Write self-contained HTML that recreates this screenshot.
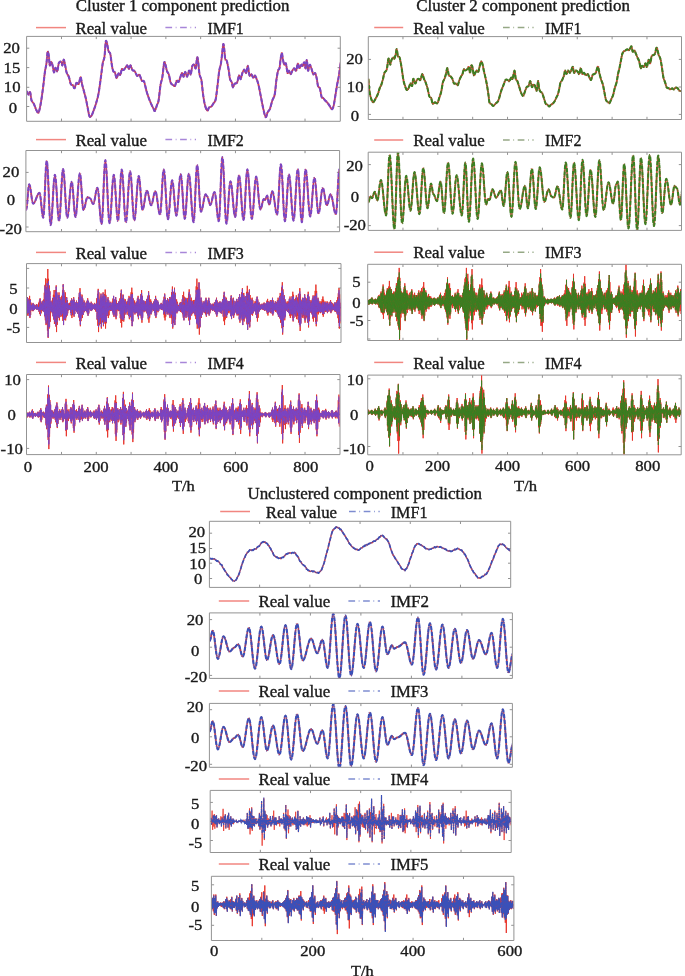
<!DOCTYPE html>
<html><head><meta charset="utf-8"><style>
html,body{margin:0;padding:0;background:#fff;overflow:hidden;width:685px;height:976px;}
svg{display:block;}
</style></head><body>
<svg width="685" height="976" viewBox="0 0 685 976" font-family='"Liberation Serif", serif'>
<rect width="685" height="976" fill="#fff"/>
<defs>
<clipPath id="cL1"><rect x="27.1" y="36.9" width="312.7" height="83.9"/></clipPath>
<clipPath id="cL2"><rect x="26.4" y="151" width="312.7" height="80.2"/></clipPath>
<clipPath id="cL3"><rect x="27" y="264.1" width="313.5" height="77.9"/></clipPath>
<clipPath id="cL4"><rect x="27" y="375" width="312.5" height="79.1"/></clipPath>
<clipPath id="cR1"><rect x="368.8" y="37.1" width="312.2" height="81.9"/></clipPath>
<clipPath id="cR2"><rect x="368.7" y="152.7" width="312.3" height="77.2"/></clipPath>
<clipPath id="cR3"><rect x="368.2" y="264.8" width="312.8" height="75.2"/></clipPath>
<clipPath id="cR4"><rect x="368.2" y="375.6" width="312.5" height="78.7"/></clipPath>
<clipPath id="cU1"><rect x="209.9" y="521.8" width="300.3" height="65.1"/></clipPath>
<clipPath id="cU2"><rect x="209.9" y="613.4" width="302" height="64.5"/></clipPath>
<clipPath id="cU3"><rect x="209.9" y="703.9" width="302" height="62.9"/></clipPath>
<clipPath id="cU4"><rect x="210.7" y="790.9" width="300" height="61.1"/></clipPath>
<clipPath id="cU5"><rect x="211.9" y="876.8" width="301.5" height="63.2"/></clipPath>
</defs>
<path d="M26.6,36.4H340.3V121.3H26.6ZM26.6,48.2h2.7M340.3,48.2h-2.7M26.6,67.6h2.7M340.3,67.6h-2.7M26.6,87.3h2.7M340.3,87.3h-2.7M26.6,106.5h2.7M340.3,106.5h-2.7M61.49,36.4v2.7M61.49,121.3v-2.7M96.28,36.4v2.7M96.28,121.3v-2.7M131.07,36.4v2.7M131.07,121.3v-2.7M165.86,36.4v2.7M165.86,121.3v-2.7M200.65,36.4v2.7M200.65,121.3v-2.7M235.44,36.4v2.7M235.44,121.3v-2.7M270.23,36.4v2.7M270.23,121.3v-2.7M305.02,36.4v2.7M305.02,121.3v-2.7" fill="none" stroke="#939393" stroke-width="1"/>
<path d="M25.9,150.5H339.6V231.7H25.9ZM25.9,172.4h2.7M339.6,172.4h-2.7M25.9,200.4h2.7M339.6,200.4h-2.7M25.9,227h2.7M339.6,227h-2.7M61.49,150.5v2.7M61.49,231.7v-2.7M96.28,150.5v2.7M96.28,231.7v-2.7M131.07,150.5v2.7M131.07,231.7v-2.7M165.86,150.5v2.7M165.86,231.7v-2.7M200.65,150.5v2.7M200.65,231.7v-2.7M235.44,150.5v2.7M235.44,231.7v-2.7M270.23,150.5v2.7M270.23,231.7v-2.7M305.02,150.5v2.7M305.02,231.7v-2.7" fill="none" stroke="#939393" stroke-width="1"/>
<path d="M26.5,263.6H341V342.5H26.5ZM26.5,268.4h2.7M341,268.4h-2.7M26.5,288h2.7M341,288h-2.7M26.5,307.6h2.7M341,307.6h-2.7M26.5,327.4h2.7M341,327.4h-2.7M61.49,263.6v2.7M61.49,342.5v-2.7M96.28,263.6v2.7M96.28,342.5v-2.7M131.07,263.6v2.7M131.07,342.5v-2.7M165.86,263.6v2.7M165.86,342.5v-2.7M200.65,263.6v2.7M200.65,342.5v-2.7M235.44,263.6v2.7M235.44,342.5v-2.7M270.23,263.6v2.7M270.23,342.5v-2.7M305.02,263.6v2.7M305.02,342.5v-2.7" fill="none" stroke="#939393" stroke-width="1"/>
<path d="M26.5,374.5H340V454.6H26.5ZM26.5,379.6h2.7M340,379.6h-2.7M26.5,414.4h2.7M340,414.4h-2.7M26.5,448.4h2.7M340,448.4h-2.7M61.49,374.5v2.7M61.49,454.6v-2.7M96.28,374.5v2.7M96.28,454.6v-2.7M131.07,374.5v2.7M131.07,454.6v-2.7M165.86,374.5v2.7M165.86,454.6v-2.7M200.65,374.5v2.7M200.65,454.6v-2.7M235.44,374.5v2.7M235.44,454.6v-2.7M270.23,374.5v2.7M270.23,454.6v-2.7M305.02,374.5v2.7M305.02,454.6v-2.7" fill="none" stroke="#939393" stroke-width="1"/>
<path d="M368.3,36.6H681.5V119.5H368.3ZM368.3,59.4h2.7M681.5,59.4h-2.7M368.3,87h2.7M681.5,87h-2.7M368.3,114.4h2.7M681.5,114.4h-2.7M402.96,36.6v2.7M402.96,119.5v-2.7M437.82,36.6v2.7M437.82,119.5v-2.7M472.68,36.6v2.7M472.68,119.5v-2.7M507.54,36.6v2.7M507.54,119.5v-2.7M542.4,36.6v2.7M542.4,119.5v-2.7M577.26,36.6v2.7M577.26,119.5v-2.7M612.12,36.6v2.7M612.12,119.5v-2.7M646.98,36.6v2.7M646.98,119.5v-2.7" fill="none" stroke="#939393" stroke-width="1"/>
<path d="M368.2,152.2H681.5V230.4H368.2ZM368.2,164.6h2.7M681.5,164.6h-2.7M368.2,197h2.7M681.5,197h-2.7M368.2,225.6h2.7M681.5,225.6h-2.7M402.96,152.2v2.7M402.96,230.4v-2.7M437.82,152.2v2.7M437.82,230.4v-2.7M472.68,152.2v2.7M472.68,230.4v-2.7M507.54,152.2v2.7M507.54,230.4v-2.7M542.4,152.2v2.7M542.4,230.4v-2.7M577.26,152.2v2.7M577.26,230.4v-2.7M612.12,152.2v2.7M612.12,230.4v-2.7M646.98,152.2v2.7M646.98,230.4v-2.7" fill="none" stroke="#939393" stroke-width="1"/>
<path d="M367.7,264.3H681.5V340.5H367.7ZM367.7,282.2h2.7M681.5,282.2h-2.7M367.7,301.3h2.7M681.5,301.3h-2.7M367.7,320.5h2.7M681.5,320.5h-2.7M367.7,339h2.7M681.5,339h-2.7M402.96,264.3v2.7M402.96,340.5v-2.7M437.82,264.3v2.7M437.82,340.5v-2.7M472.68,264.3v2.7M472.68,340.5v-2.7M507.54,264.3v2.7M507.54,340.5v-2.7M542.4,264.3v2.7M542.4,340.5v-2.7M577.26,264.3v2.7M577.26,340.5v-2.7M612.12,264.3v2.7M612.12,340.5v-2.7M646.98,264.3v2.7M646.98,340.5v-2.7" fill="none" stroke="#939393" stroke-width="1"/>
<path d="M367.7,375.1H681.2V454.8H367.7ZM367.7,378.8h2.7M681.2,378.8h-2.7M367.7,412.5h2.7M681.2,412.5h-2.7M367.7,446.5h2.7M681.2,446.5h-2.7M402.96,375.1v2.7M402.96,454.8v-2.7M437.82,375.1v2.7M437.82,454.8v-2.7M472.68,375.1v2.7M472.68,454.8v-2.7M507.54,375.1v2.7M507.54,454.8v-2.7M542.4,375.1v2.7M542.4,454.8v-2.7M577.26,375.1v2.7M577.26,454.8v-2.7M612.12,375.1v2.7M612.12,454.8v-2.7M646.98,375.1v2.7M646.98,454.8v-2.7" fill="none" stroke="#939393" stroke-width="1"/>
<path d="M209.4,521.3H510.7V587.4H209.4ZM209.4,533.2h2.7M510.7,533.2h-2.7M209.4,548.5h2.7M510.7,548.5h-2.7M209.4,563.2h2.7M510.7,563.2h-2.7M209.4,578.5h2.7M510.7,578.5h-2.7M259.62,521.3v2.7M259.62,587.4v-2.7M309.83,521.3v2.7M309.83,587.4v-2.7M360.05,521.3v2.7M360.05,587.4v-2.7M410.27,521.3v2.7M410.27,587.4v-2.7M460.48,521.3v2.7M460.48,587.4v-2.7" fill="none" stroke="#939393" stroke-width="1"/>
<path d="M209.4,612.9H512.4V678.4H209.4ZM209.4,619.6h2.7M512.4,619.6h-2.7M209.4,647.2h2.7M512.4,647.2h-2.7M209.4,675.4h2.7M512.4,675.4h-2.7M259.9,612.9v2.7M259.9,678.4v-2.7M310.4,612.9v2.7M310.4,678.4v-2.7M360.9,612.9v2.7M360.9,678.4v-2.7M411.4,612.9v2.7M411.4,678.4v-2.7M461.9,612.9v2.7M461.9,678.4v-2.7" fill="none" stroke="#939393" stroke-width="1"/>
<path d="M209.4,703.4H512.4V767.3H209.4ZM209.4,709.7h2.7M512.4,709.7h-2.7M209.4,736.8h2.7M512.4,736.8h-2.7M209.4,764.3h2.7M512.4,764.3h-2.7M259.9,703.4v2.7M259.9,767.3v-2.7M310.4,703.4v2.7M310.4,767.3v-2.7M360.9,703.4v2.7M360.9,767.3v-2.7M411.4,703.4v2.7M411.4,767.3v-2.7M461.9,703.4v2.7M461.9,767.3v-2.7" fill="none" stroke="#939393" stroke-width="1"/>
<path d="M210.2,790.4H511.2V852.5H210.2ZM210.2,802.4h2.7M511.2,802.4h-2.7M210.2,821.5h2.7M511.2,821.5h-2.7M210.2,840.5h2.7M511.2,840.5h-2.7M260.37,790.4v2.7M260.37,852.5v-2.7M310.53,790.4v2.7M310.53,852.5v-2.7M360.7,790.4v2.7M360.7,852.5v-2.7M410.87,790.4v2.7M410.87,852.5v-2.7M461.03,790.4v2.7M461.03,852.5v-2.7" fill="none" stroke="#939393" stroke-width="1"/>
<path d="M211.4,876.3H513.9V940.5H211.4ZM211.4,884.8h2.7M513.9,884.8h-2.7M211.4,905h2.7M513.9,905h-2.7M211.4,925.3h2.7M513.9,925.3h-2.7M261.82,876.3v2.7M261.82,940.5v-2.7M312.23,876.3v2.7M312.23,940.5v-2.7M362.65,876.3v2.7M362.65,940.5v-2.7M413.07,876.3v2.7M413.07,940.5v-2.7M463.48,876.3v2.7M463.48,940.5v-2.7" fill="none" stroke="#939393" stroke-width="1"/>
<line x1="36" y1="27.6" x2="66" y2="27.6" stroke="#e8362c" stroke-width="1.5" opacity="0.6"/>
<line x1="165.4" y1="27.6" x2="196" y2="27.6" stroke="#7a46c4" stroke-width="1.5" stroke-dasharray="6.7 3.6 0.8 3.6" opacity="0.65"/>
<line x1="36" y1="139.6" x2="66" y2="139.6" stroke="#e8362c" stroke-width="1.5" opacity="0.6"/>
<line x1="165.4" y1="139.6" x2="196" y2="139.6" stroke="#7a46c4" stroke-width="1.5" stroke-dasharray="6.7 3.6 0.8 3.6" opacity="0.65"/>
<line x1="36" y1="252.4" x2="66" y2="252.4" stroke="#e8362c" stroke-width="1.5" opacity="0.6"/>
<line x1="165.4" y1="252.4" x2="196" y2="252.4" stroke="#7a46c4" stroke-width="1.5" stroke-dasharray="6.7 3.6 0.8 3.6" opacity="0.65"/>
<line x1="36" y1="362.4" x2="66" y2="362.4" stroke="#e8362c" stroke-width="1.5" opacity="0.6"/>
<line x1="165.4" y1="362.4" x2="196" y2="362.4" stroke="#7a46c4" stroke-width="1.5" stroke-dasharray="6.7 3.6 0.8 3.6" opacity="0.65"/>
<line x1="374.2" y1="27.5" x2="403.2" y2="27.5" stroke="#e8362c" stroke-width="1.5" opacity="0.6"/>
<line x1="503" y1="27.5" x2="533.6" y2="27.5" stroke="#5d7a45" stroke-width="1.5" stroke-dasharray="6.7 3.6 0.8 3.6" opacity="0.65"/>
<line x1="374.2" y1="140" x2="403.2" y2="140" stroke="#e8362c" stroke-width="1.5" opacity="0.6"/>
<line x1="503" y1="140" x2="533.6" y2="140" stroke="#5d7a45" stroke-width="1.5" stroke-dasharray="6.7 3.6 0.8 3.6" opacity="0.65"/>
<line x1="374.2" y1="252.2" x2="403.2" y2="252.2" stroke="#e8362c" stroke-width="1.5" opacity="0.6"/>
<line x1="503" y1="252.2" x2="533.6" y2="252.2" stroke="#5d7a45" stroke-width="1.5" stroke-dasharray="6.7 3.6 0.8 3.6" opacity="0.65"/>
<line x1="374.2" y1="362.4" x2="403.2" y2="362.4" stroke="#e8362c" stroke-width="1.5" opacity="0.6"/>
<line x1="503" y1="362.4" x2="533.6" y2="362.4" stroke="#5d7a45" stroke-width="1.5" stroke-dasharray="6.7 3.6 0.8 3.6" opacity="0.65"/>
<line x1="220.2" y1="511.5" x2="250" y2="511.5" stroke="#e8362c" stroke-width="1.5" opacity="0.6"/>
<line x1="349" y1="511.5" x2="379.7" y2="511.5" stroke="#3a50b8" stroke-width="1.5" stroke-dasharray="6.7 3.6 0.8 3.6" opacity="0.65"/>
<line x1="218.8" y1="601" x2="249.2" y2="601" stroke="#e8362c" stroke-width="1.5" opacity="0.6"/>
<line x1="348.4" y1="601" x2="380" y2="601" stroke="#3a50b8" stroke-width="1.5" stroke-dasharray="6.7 3.6 0.8 3.6" opacity="0.65"/>
<line x1="218.8" y1="691" x2="249.2" y2="691" stroke="#e8362c" stroke-width="1.5" opacity="0.6"/>
<line x1="348.4" y1="691" x2="380" y2="691" stroke="#3a50b8" stroke-width="1.5" stroke-dasharray="6.7 3.6 0.8 3.6" opacity="0.65"/>
<line x1="218.8" y1="779" x2="249.2" y2="779" stroke="#e8362c" stroke-width="1.5" opacity="0.6"/>
<line x1="348.4" y1="779" x2="380" y2="779" stroke="#3a50b8" stroke-width="1.5" stroke-dasharray="6.7 3.6 0.8 3.6" opacity="0.65"/>
<line x1="218.8" y1="864" x2="249.2" y2="864" stroke="#e8362c" stroke-width="1.5" opacity="0.6"/>
<line x1="348.4" y1="864" x2="380" y2="864" stroke="#3a50b8" stroke-width="1.5" stroke-dasharray="6.7 3.6 0.8 3.6" opacity="0.65"/>
<g clip-path="url(#cL1)">
<path d="M26.87,91.06C27.14,91.65 27.96,94.37 28.5,94.57C29.05,94.76 29.63,91.26 30.14,92.23C30.65,93.2 30.92,98.46 31.54,100.41C32.16,102.35 33.1,102.35 33.88,103.91C34.66,105.47 35.43,108.31 36.21,109.75C36.99,111.19 37.77,113.72 38.55,112.55C39.33,111.38 40.11,107.1 40.88,102.74C41.66,98.38 42.56,91.45 43.22,86.39C43.88,81.33 44.31,76.27 44.86,72.37C45.4,68.48 46.02,66.46 46.49,63.03C46.96,59.6 47.27,52.99 47.66,51.82C48.05,50.65 48.48,53.77 48.83,56.02C49.18,58.28 49.37,64.39 49.76,65.37C50.15,66.34 50.69,61.86 51.16,61.86C51.63,61.86 52.1,63.61 52.56,65.37C53.03,67.12 53.5,71.99 53.97,72.37C54.43,72.76 54.82,67.9 55.37,67.7C55.91,67.51 56.65,71.99 57.24,71.21C57.82,70.43 58.21,64.59 58.87,63.03C59.53,61.47 60.62,61.47 61.21,61.86C61.79,62.25 61.95,65.76 62.37,65.37C62.8,64.98 63.31,59.53 63.78,59.53C64.24,59.53 64.71,63.23 65.18,65.37C65.64,67.51 65.96,70.43 66.58,72.37C67.2,74.32 68.21,75.1 68.91,77.05C69.62,78.99 70.12,82.69 70.78,84.05C71.45,85.42 72.26,84.52 72.89,85.22C73.51,85.92 73.94,88.65 74.52,88.26C75.11,87.87 75.69,83.59 76.39,82.89C77.09,82.19 78.02,85.03 78.73,84.05C79.43,83.08 80.05,77.05 80.59,77.05C81.14,77.05 81.45,81.72 82,84.05C82.54,86.39 83.24,88.73 83.86,91.06C84.49,93.4 85.11,95.34 85.73,98.07C86.36,100.79 86.98,104.38 87.6,107.41C88.23,110.45 88.81,114.93 89.47,116.29C90.13,117.65 90.83,116.68 91.57,115.59C92.31,114.5 93.13,111.89 93.91,109.75C94.69,107.61 95.47,105.47 96.25,102.74C97.02,100.02 97.8,97.68 98.58,93.4C99.36,89.12 100.22,82.11 100.92,77.05C101.62,71.99 102.2,66.34 102.79,63.03C103.37,59.72 103.95,60.5 104.42,57.19C104.89,53.88 105.28,45.9 105.59,43.18C105.9,40.45 106.02,40.65 106.29,40.84C106.56,41.03 106.83,42.59 107.22,44.34C107.61,46.1 108.12,49.79 108.63,51.35C109.13,52.91 109.72,51.35 110.26,53.69C110.81,56.02 111.39,62.45 111.9,65.37C112.4,68.29 112.79,70.04 113.3,71.21C113.8,72.37 114.39,71.21 114.93,72.37C115.48,73.54 115.98,78.02 116.57,78.21C117.15,78.41 117.81,74.13 118.44,73.54C119.06,72.96 119.72,75.49 120.3,74.71C120.89,73.93 121.39,69.65 121.94,68.87C122.49,68.09 122.99,70.23 123.58,70.04C124.16,69.84 124.82,68.48 125.44,67.7C126.07,66.92 126.73,65.17 127.31,65.37C127.9,65.56 128.4,68.87 128.95,68.87C129.49,68.87 130,65.17 130.58,65.37C131.17,65.56 131.75,69.07 132.45,70.04C133.15,71.01 134.01,70.23 134.79,71.21C135.57,72.18 136.34,75.29 137.12,75.88C137.9,76.46 138.68,73.93 139.46,74.71C140.24,75.49 141.02,79.38 141.8,80.55C142.57,81.72 143.35,79.97 144.13,81.72C144.91,83.47 145.69,88.34 146.47,91.06C147.25,93.79 148.02,95.93 148.8,98.07C149.58,100.21 150.36,102.16 151.14,103.91C151.92,105.66 152.85,107.41 153.47,108.58C154.1,109.75 154.29,111.5 154.88,110.92C155.46,110.33 156.36,106.83 156.98,105.08C157.6,103.33 158.03,103.71 158.61,100.41C159.2,97.1 159.86,89.12 160.48,85.22C161.11,81.33 161.73,80.82 162.35,77.05C162.97,73.27 163.67,64.51 164.22,62.56C164.76,60.62 165.15,63.93 165.62,65.37C166.09,66.81 166.48,69.65 167.02,71.21C167.57,72.76 168.27,72.76 168.89,74.71C169.51,76.66 170.02,81.13 170.76,82.89C171.5,84.64 172.63,84.72 173.33,85.22C174.03,85.73 174.38,86.7 174.96,85.92C175.55,85.14 176.21,81.25 176.83,80.55C177.46,79.85 177.86,82.96 178.7,81.72C179.55,80.47 181.09,73.92 181.9,73.08C182.72,72.23 183.01,76.85 183.57,76.65C184.13,76.45 184.64,71.89 185.24,71.89C185.83,71.89 186.5,76.85 187.14,76.65C187.77,76.45 188.45,71.09 189.04,70.7C189.64,70.3 190.15,75.06 190.71,74.27C191.26,73.47 191.78,67.52 192.38,65.94C192.97,64.35 193.72,64.35 194.28,64.75C194.83,65.14 195.23,69.51 195.71,68.32C196.18,67.13 196.74,58.8 197.13,57.61C197.53,56.42 197.69,58.4 198.09,61.18C198.48,63.95 198.96,71.09 199.51,74.27C200.07,77.44 200.82,76.85 201.42,80.22C202.01,83.59 202.49,90.33 203.08,94.5C203.68,98.66 204.27,102.51 204.99,105.2C205.7,107.9 206.69,110.28 207.37,110.68C208.04,111.07 208.36,108.3 209.03,107.58C209.71,106.87 210.62,107.19 211.41,106.39C212.21,105.6 213.08,104.01 213.79,102.82C214.51,101.63 215.06,102.23 215.7,99.26C216.33,96.28 217.01,89.74 217.6,84.98C218.2,80.22 218.71,74.27 219.27,70.7C219.82,67.13 220.42,66.73 220.93,63.56C221.45,60.38 221.96,54.91 222.36,51.66C222.76,48.41 223,44.44 223.31,44.04C223.63,43.65 223.95,46.82 224.26,49.28C224.58,51.74 224.78,56.82 225.22,58.8C225.65,60.78 226.29,59.19 226.88,61.18C227.48,63.16 228.27,67.72 228.79,70.7C229.3,73.67 229.46,77.04 229.98,79.03C230.49,81.01 231.4,81.21 231.88,82.6C232.36,83.98 232.36,87.16 232.83,87.36C233.31,87.55 234.02,84.58 234.74,83.79C235.45,82.99 236.4,83.98 237.12,82.6C237.83,81.21 238.42,76.05 239.02,75.46C239.61,74.86 240.13,79.42 240.69,79.03C241.24,78.63 241.76,74.66 242.35,73.08C242.95,71.49 243.62,69.51 244.26,69.51C244.89,69.51 245.56,73.67 246.16,73.08C246.75,72.48 247.27,65.54 247.82,65.94C248.38,66.33 248.9,74.07 249.49,75.46C250.09,76.85 250.76,73.87 251.39,74.27C252.03,74.66 252.7,77.64 253.3,77.84C253.89,78.04 254.41,75.26 254.96,75.46C255.52,75.66 256.04,77.44 256.63,79.03C257.23,80.61 257.82,82 258.53,84.98C259.25,87.95 260.12,92.91 260.91,96.88C261.71,100.84 262.5,105.4 263.29,108.77C264.09,112.15 264.96,116.51 265.67,117.1C266.39,117.7 266.86,113.73 267.58,112.34C268.29,110.96 269.16,110.76 269.96,108.77C270.75,106.79 271.54,102.82 272.34,100.45C273.13,98.07 274.04,97.87 274.72,94.5C275.39,91.12 275.83,84.18 276.38,80.22C276.94,76.25 277.53,72.68 278.05,70.7C278.56,68.71 279.04,70.3 279.48,68.32C279.91,66.33 280.27,61.38 280.67,58.8C281.06,56.22 281.5,52.85 281.86,52.85C282.21,52.85 282.41,56.82 282.81,58.8C283.2,60.78 283.72,63.95 284.24,64.75C284.75,65.54 285.35,62.17 285.9,63.56C286.46,64.95 287.05,71.89 287.57,73.08C288.08,74.27 288.48,70.5 289,70.7C289.51,70.9 290.11,74.27 290.66,74.27C291.22,74.27 291.73,71.69 292.33,70.7C292.92,69.71 293.6,68.32 294.23,68.32C294.87,68.32 295.54,71.49 296.14,70.7C296.73,69.9 297.25,63.95 297.8,63.56C298.36,63.16 298.87,68.12 299.47,68.32C300.06,68.52 300.82,65.14 301.37,64.75C301.93,64.35 302.32,66.33 302.8,65.94C303.27,65.54 303.75,61.97 304.23,62.37C304.7,62.76 305.22,68.71 305.65,68.32C306.09,67.92 306.45,59.59 306.84,59.99C307.24,60.38 307.56,69.9 308.03,70.7C308.51,71.49 309.14,65.14 309.7,64.75C310.26,64.35 310.77,66.73 311.37,68.32C311.96,69.9 312.64,73.47 313.27,74.27C313.9,75.06 314.58,72.28 315.17,73.08C315.77,73.87 316.36,76.85 316.84,79.03C317.32,81.21 317.51,84.58 318.03,86.17C318.55,87.75 319.34,86.76 319.93,88.55C320.53,90.33 321.04,95.29 321.6,96.88C322.15,98.46 322.67,97.47 323.27,98.07C323.86,98.66 324.46,99.65 325.17,100.45C325.88,101.24 326.76,101.83 327.55,102.82C328.34,103.82 329.21,105.32 329.93,106.39C330.64,107.47 331.24,109.25 331.83,109.25C332.43,109.25 332.94,108.46 333.5,106.39C334.05,104.33 334.57,100.45 335.16,96.88C335.76,93.31 336.43,88.55 337.07,84.98C337.7,81.41 338.38,79.22 338.97,75.46C339.57,71.69 340.36,64.55 340.64,62.37" fill="none" stroke="#e8362c" stroke-width="1.6" stroke-linejoin="round"/>
<path d="M26.87,91.06C27.14,91.65 27.96,94.37 28.5,94.57C29.05,94.76 29.63,91.26 30.14,92.23C30.65,93.2 30.92,98.46 31.54,100.41C32.16,102.35 33.1,102.35 33.88,103.91C34.66,105.47 35.43,108.31 36.21,109.75C36.99,111.19 37.77,113.72 38.55,112.55C39.33,111.38 40.11,107.1 40.88,102.74C41.66,98.38 42.56,91.45 43.22,86.39C43.88,81.33 44.31,76.27 44.86,72.37C45.4,68.48 46.02,66.46 46.49,63.03C46.96,59.6 47.27,52.99 47.66,51.82C48.05,50.65 48.48,53.77 48.83,56.02C49.18,58.28 49.37,64.39 49.76,65.37C50.15,66.34 50.69,61.86 51.16,61.86C51.63,61.86 52.1,63.61 52.56,65.37C53.03,67.12 53.5,71.99 53.97,72.37C54.43,72.76 54.82,67.9 55.37,67.7C55.91,67.51 56.65,71.99 57.24,71.21C57.82,70.43 58.21,64.59 58.87,63.03C59.53,61.47 60.62,61.47 61.21,61.86C61.79,62.25 61.95,65.76 62.37,65.37C62.8,64.98 63.31,59.53 63.78,59.53C64.24,59.53 64.71,63.23 65.18,65.37C65.64,67.51 65.96,70.43 66.58,72.37C67.2,74.32 68.21,75.1 68.91,77.05C69.62,78.99 70.12,82.69 70.78,84.05C71.45,85.42 72.26,84.52 72.89,85.22C73.51,85.92 73.94,88.65 74.52,88.26C75.11,87.87 75.69,83.59 76.39,82.89C77.09,82.19 78.02,85.03 78.73,84.05C79.43,83.08 80.05,77.05 80.59,77.05C81.14,77.05 81.45,81.72 82,84.05C82.54,86.39 83.24,88.73 83.86,91.06C84.49,93.4 85.11,95.34 85.73,98.07C86.36,100.79 86.98,104.38 87.6,107.41C88.23,110.45 88.81,114.93 89.47,116.29C90.13,117.65 90.83,116.68 91.57,115.59C92.31,114.5 93.13,111.89 93.91,109.75C94.69,107.61 95.47,105.47 96.25,102.74C97.02,100.02 97.8,97.68 98.58,93.4C99.36,89.12 100.22,82.11 100.92,77.05C101.62,71.99 102.2,66.34 102.79,63.03C103.37,59.72 103.95,60.5 104.42,57.19C104.89,53.88 105.28,45.9 105.59,43.18C105.9,40.45 106.02,40.65 106.29,40.84C106.56,41.03 106.83,42.59 107.22,44.34C107.61,46.1 108.12,49.79 108.63,51.35C109.13,52.91 109.72,51.35 110.26,53.69C110.81,56.02 111.39,62.45 111.9,65.37C112.4,68.29 112.79,70.04 113.3,71.21C113.8,72.37 114.39,71.21 114.93,72.37C115.48,73.54 115.98,78.02 116.57,78.21C117.15,78.41 117.81,74.13 118.44,73.54C119.06,72.96 119.72,75.49 120.3,74.71C120.89,73.93 121.39,69.65 121.94,68.87C122.49,68.09 122.99,70.23 123.58,70.04C124.16,69.84 124.82,68.48 125.44,67.7C126.07,66.92 126.73,65.17 127.31,65.37C127.9,65.56 128.4,68.87 128.95,68.87C129.49,68.87 130,65.17 130.58,65.37C131.17,65.56 131.75,69.07 132.45,70.04C133.15,71.01 134.01,70.23 134.79,71.21C135.57,72.18 136.34,75.29 137.12,75.88C137.9,76.46 138.68,73.93 139.46,74.71C140.24,75.49 141.02,79.38 141.8,80.55C142.57,81.72 143.35,79.97 144.13,81.72C144.91,83.47 145.69,88.34 146.47,91.06C147.25,93.79 148.02,95.93 148.8,98.07C149.58,100.21 150.36,102.16 151.14,103.91C151.92,105.66 152.85,107.41 153.47,108.58C154.1,109.75 154.29,111.5 154.88,110.92C155.46,110.33 156.36,106.83 156.98,105.08C157.6,103.33 158.03,103.71 158.61,100.41C159.2,97.1 159.86,89.12 160.48,85.22C161.11,81.33 161.73,80.82 162.35,77.05C162.97,73.27 163.67,64.51 164.22,62.56C164.76,60.62 165.15,63.93 165.62,65.37C166.09,66.81 166.48,69.65 167.02,71.21C167.57,72.76 168.27,72.76 168.89,74.71C169.51,76.66 170.02,81.13 170.76,82.89C171.5,84.64 172.63,84.72 173.33,85.22C174.03,85.73 174.38,86.7 174.96,85.92C175.55,85.14 176.21,81.25 176.83,80.55C177.46,79.85 177.86,82.96 178.7,81.72C179.55,80.47 181.09,73.92 181.9,73.08C182.72,72.23 183.01,76.85 183.57,76.65C184.13,76.45 184.64,71.89 185.24,71.89C185.83,71.89 186.5,76.85 187.14,76.65C187.77,76.45 188.45,71.09 189.04,70.7C189.64,70.3 190.15,75.06 190.71,74.27C191.26,73.47 191.78,67.52 192.38,65.94C192.97,64.35 193.72,64.35 194.28,64.75C194.83,65.14 195.23,69.51 195.71,68.32C196.18,67.13 196.74,58.8 197.13,57.61C197.53,56.42 197.69,58.4 198.09,61.18C198.48,63.95 198.96,71.09 199.51,74.27C200.07,77.44 200.82,76.85 201.42,80.22C202.01,83.59 202.49,90.33 203.08,94.5C203.68,98.66 204.27,102.51 204.99,105.2C205.7,107.9 206.69,110.28 207.37,110.68C208.04,111.07 208.36,108.3 209.03,107.58C209.71,106.87 210.62,107.19 211.41,106.39C212.21,105.6 213.08,104.01 213.79,102.82C214.51,101.63 215.06,102.23 215.7,99.26C216.33,96.28 217.01,89.74 217.6,84.98C218.2,80.22 218.71,74.27 219.27,70.7C219.82,67.13 220.42,66.73 220.93,63.56C221.45,60.38 221.96,54.91 222.36,51.66C222.76,48.41 223,44.44 223.31,44.04C223.63,43.65 223.95,46.82 224.26,49.28C224.58,51.74 224.78,56.82 225.22,58.8C225.65,60.78 226.29,59.19 226.88,61.18C227.48,63.16 228.27,67.72 228.79,70.7C229.3,73.67 229.46,77.04 229.98,79.03C230.49,81.01 231.4,81.21 231.88,82.6C232.36,83.98 232.36,87.16 232.83,87.36C233.31,87.55 234.02,84.58 234.74,83.79C235.45,82.99 236.4,83.98 237.12,82.6C237.83,81.21 238.42,76.05 239.02,75.46C239.61,74.86 240.13,79.42 240.69,79.03C241.24,78.63 241.76,74.66 242.35,73.08C242.95,71.49 243.62,69.51 244.26,69.51C244.89,69.51 245.56,73.67 246.16,73.08C246.75,72.48 247.27,65.54 247.82,65.94C248.38,66.33 248.9,74.07 249.49,75.46C250.09,76.85 250.76,73.87 251.39,74.27C252.03,74.66 252.7,77.64 253.3,77.84C253.89,78.04 254.41,75.26 254.96,75.46C255.52,75.66 256.04,77.44 256.63,79.03C257.23,80.61 257.82,82 258.53,84.98C259.25,87.95 260.12,92.91 260.91,96.88C261.71,100.84 262.5,105.4 263.29,108.77C264.09,112.15 264.96,116.51 265.67,117.1C266.39,117.7 266.86,113.73 267.58,112.34C268.29,110.96 269.16,110.76 269.96,108.77C270.75,106.79 271.54,102.82 272.34,100.45C273.13,98.07 274.04,97.87 274.72,94.5C275.39,91.12 275.83,84.18 276.38,80.22C276.94,76.25 277.53,72.68 278.05,70.7C278.56,68.71 279.04,70.3 279.48,68.32C279.91,66.33 280.27,61.38 280.67,58.8C281.06,56.22 281.5,52.85 281.86,52.85C282.21,52.85 282.41,56.82 282.81,58.8C283.2,60.78 283.72,63.95 284.24,64.75C284.75,65.54 285.35,62.17 285.9,63.56C286.46,64.95 287.05,71.89 287.57,73.08C288.08,74.27 288.48,70.5 289,70.7C289.51,70.9 290.11,74.27 290.66,74.27C291.22,74.27 291.73,71.69 292.33,70.7C292.92,69.71 293.6,68.32 294.23,68.32C294.87,68.32 295.54,71.49 296.14,70.7C296.73,69.9 297.25,63.95 297.8,63.56C298.36,63.16 298.87,68.12 299.47,68.32C300.06,68.52 300.82,65.14 301.37,64.75C301.93,64.35 302.32,66.33 302.8,65.94C303.27,65.54 303.75,61.97 304.23,62.37C304.7,62.76 305.22,68.71 305.65,68.32C306.09,67.92 306.45,59.59 306.84,59.99C307.24,60.38 307.56,69.9 308.03,70.7C308.51,71.49 309.14,65.14 309.7,64.75C310.26,64.35 310.77,66.73 311.37,68.32C311.96,69.9 312.64,73.47 313.27,74.27C313.9,75.06 314.58,72.28 315.17,73.08C315.77,73.87 316.36,76.85 316.84,79.03C317.32,81.21 317.51,84.58 318.03,86.17C318.55,87.75 319.34,86.76 319.93,88.55C320.53,90.33 321.04,95.29 321.6,96.88C322.15,98.46 322.67,97.47 323.27,98.07C323.86,98.66 324.46,99.65 325.17,100.45C325.88,101.24 326.76,101.83 327.55,102.82C328.34,103.82 329.21,105.32 329.93,106.39C330.64,107.47 331.24,109.25 331.83,109.25C332.43,109.25 332.94,108.46 333.5,106.39C334.05,104.33 334.57,100.45 335.16,96.88C335.76,93.31 336.43,88.55 337.07,84.98C337.7,81.41 338.38,79.22 338.97,75.46C339.57,71.69 340.36,64.55 340.64,62.37" fill="none" stroke="#7a46c4" stroke-width="2.1" stroke-dasharray="4.2 0.7 0.6 0.7" stroke-linejoin="round"/>
</g>
<g clip-path="url(#cR1)">
<path d="M368.37,78.76C368.56,80.92 369.07,88.41 369.55,91.76C370.02,95.12 370.61,97.09 371.2,98.86C371.79,100.63 372.39,102.41 373.1,102.41C373.81,102.41 374.67,100.24 375.46,98.86C376.25,97.48 377.12,95.9 377.83,94.13C378.54,92.36 379.13,89.79 379.72,88.22C380.31,86.64 380.82,86.25 381.37,84.67C381.93,83.09 382.52,80.73 383.03,78.76C383.54,76.78 383.82,74.42 384.45,72.84C385.08,71.27 386.14,71.66 386.81,69.3C387.48,66.93 387.92,59.44 388.47,58.65C389.02,57.86 389.61,64.37 390.12,64.56C390.64,64.76 391.03,61.02 391.54,59.83C392.06,58.65 392.73,57.67 393.2,57.47C393.67,57.27 393.95,59.24 394.38,58.65C394.82,58.06 395.41,55.5 395.8,53.92C396.2,52.34 396.39,48.8 396.75,49.19C397.1,49.59 397.46,54.91 397.93,56.29C398.4,57.67 398.99,55.7 399.59,57.47C400.18,59.24 400.85,63.19 401.48,66.93C402.11,70.67 402.78,76.78 403.37,79.94C403.96,83.09 404.47,84.2 405.03,85.85C405.58,87.51 406.09,89.48 406.68,89.87C407.27,90.27 407.94,89.28 408.57,88.22C409.2,87.15 409.87,83.88 410.47,83.49C411.06,83.09 411.65,86.64 412.12,85.85C412.59,85.06 412.79,79.15 413.3,78.76C413.82,78.36 414.6,83.29 415.2,83.49C415.79,83.68 416.3,80.73 416.85,79.94C417.4,79.15 417.92,78.76 418.51,78.76C419.1,78.76 419.77,80.73 420.4,79.94C421.03,79.15 421.7,74.22 422.29,74.03C422.88,73.83 423.4,77.38 423.95,78.76C424.5,80.14 425.01,80.73 425.6,82.3C426.19,83.88 426.86,85.85 427.49,88.22C428.13,90.58 428.8,94.92 429.39,96.49C429.98,98.07 430.49,96.49 431.04,97.68C431.59,98.86 432.03,102.8 432.7,103.59C433.37,104.38 434.27,102.49 435.06,102.41C435.85,102.33 436.72,103.91 437.43,103.12C438.14,102.33 438.69,99.57 439.32,97.68C439.95,95.79 440.62,94.33 441.21,91.76C441.8,89.2 442.32,84.47 442.87,82.3C443.42,80.14 444.01,80.14 444.52,78.76C445.04,77.38 445.47,75.8 445.94,74.03C446.42,72.25 446.89,67.92 447.36,68.11C447.84,68.31 448.23,73.83 448.78,75.21C449.33,76.59 450.08,75.8 450.67,76.39C451.26,76.98 451.78,77.57 452.33,78.76C452.88,79.94 453.39,82.7 453.98,83.49C454.58,84.27 455.25,83.21 455.88,83.49C456.51,83.76 457.18,85.73 457.77,85.14C458.36,84.55 458.87,81.4 459.42,79.94C459.98,78.48 460.57,77.38 461.08,76.39C461.59,75.41 462.03,75.21 462.5,74.03C462.97,72.84 463.45,69.89 463.92,69.3C464.39,68.7 464.79,70.48 465.34,70.48C465.89,70.48 466.64,69.89 467.23,69.3C467.82,68.7 468.41,66.34 468.89,66.93C469.36,67.52 469.67,73.04 470.07,72.84C470.46,72.65 470.86,66.73 471.25,65.75C471.64,64.76 472,65.35 472.43,66.93C472.87,68.51 473.38,74.22 473.85,75.21C474.33,76.19 474.8,73.63 475.27,72.84C475.74,72.05 476.18,70.67 476.69,70.48C477.2,70.28 477.87,72.25 478.35,71.66C478.82,71.07 479.06,68.63 479.53,66.93C480,65.23 480.67,61.88 481.18,61.49C481.7,61.1 482.17,63.07 482.6,64.56C483.04,66.06 483.31,68.31 483.79,70.48C484.26,72.65 484.89,75.01 485.44,77.57C485.99,80.14 486.58,82.89 487.1,85.85C487.61,88.81 488.12,92.55 488.52,95.31C488.91,98.07 488.99,100.95 489.46,102.41C489.94,103.87 490.72,103.47 491.35,104.06C491.99,104.65 492.54,106.03 493.25,105.96C493.96,105.88 494.82,104.38 495.61,103.59C496.4,102.8 497.31,102.41 497.98,101.23C498.65,100.04 499.08,98.27 499.63,96.49C500.18,94.72 500.7,92.36 501.29,90.58C501.88,88.81 502.47,87.63 503.18,85.85C503.89,84.08 504.84,80.92 505.55,79.94C506.26,78.95 506.81,79.74 507.44,79.94C508.07,80.14 508.7,81.52 509.33,81.12C509.96,80.73 510.67,77.97 511.22,77.57C511.77,77.18 512.09,79.94 512.64,78.76C513.19,77.57 514.02,70.48 514.53,70.48C515.05,70.48 515.24,76.98 515.72,78.76C516.19,80.53 516.78,79.74 517.37,81.12C517.96,82.5 518.63,85.06 519.26,87.03C519.89,89.01 520.5,91.45 521.16,92.95C521.81,94.44 522.57,96.22 523.18,96.02C523.8,95.82 524.25,93.26 524.84,91.76C525.43,90.27 526.1,88.02 526.73,87.03C527.36,86.05 528.03,86.84 528.62,85.85C529.21,84.87 529.73,80.92 530.28,81.12C530.83,81.32 531.42,86.44 531.93,87.03C532.45,87.63 532.84,84.87 533.35,84.67C533.87,84.47 534.46,84.87 535.01,85.85C535.56,86.84 536.15,91.37 536.66,90.58C537.18,89.79 537.69,81.52 538.08,81.12C538.48,80.73 538.64,86.44 539.03,88.22C539.42,89.99 539.94,90.98 540.45,91.76C540.96,92.55 541.55,91.96 542.1,92.95C542.66,93.93 543.17,95.9 543.76,97.68C544.35,99.45 545.02,102.41 545.65,103.59C546.28,104.77 546.95,104.3 547.54,104.77C548.14,105.25 548.65,106.43 549.2,106.43C549.75,106.43 550.26,105.25 550.86,104.77C551.45,104.3 552.12,104.18 552.75,103.59C553.38,103 554.05,102.21 554.64,101.23C555.23,100.24 555.74,98.86 556.3,97.68C556.85,96.49 557.44,95.71 557.95,94.13C558.46,92.55 558.94,90.19 559.37,88.22C559.8,86.25 560.08,83.68 560.55,82.3C561.03,80.92 561.62,81.12 562.21,79.94C562.8,78.76 563.63,76.78 564.1,75.21C564.57,73.63 564.65,70.67 565.05,70.48C565.44,70.28 565.95,74.03 566.47,74.03C566.98,74.03 567.57,70.67 568.12,70.48C568.67,70.28 569.26,72.84 569.78,72.84C570.29,72.84 570.68,71.46 571.2,70.48C571.71,69.49 572.38,66.54 572.85,66.93C573.32,67.32 573.52,72.25 574.03,72.84C574.55,73.43 575.33,70.67 575.93,70.48C576.52,70.28 577.03,71.07 577.58,71.66C578.13,72.25 578.73,74.62 579.24,74.03C579.75,73.43 580.14,68.11 580.66,68.11C581.17,68.11 581.76,73.24 582.31,74.03C582.86,74.81 583.38,72.65 583.97,72.84C584.56,73.04 585.23,75.01 585.86,75.21C586.49,75.41 587.16,73.63 587.75,74.03C588.34,74.42 588.86,76.59 589.41,77.57C589.96,78.56 590.55,80.33 591.06,79.94C591.58,79.54 591.97,76.19 592.48,75.21C592.99,74.22 593.59,74.42 594.14,74.03C594.69,73.63 595.28,73.83 595.79,72.84C596.31,71.86 596.82,69.1 597.21,68.11C597.61,67.13 597.76,65.94 598.16,66.93C598.55,67.92 599.07,71.86 599.58,74.03C600.09,76.19 600.68,78.16 601.23,79.94C601.79,81.71 602.38,82.7 602.89,84.67C603.4,86.64 603.8,89.2 604.31,91.76C604.82,94.33 605.41,98.39 605.96,100.04C606.52,101.7 607.03,101.19 607.62,101.7C608.21,102.21 608.88,103.59 609.51,103.12C610.14,102.64 610.81,100.16 611.4,98.86C612,97.56 612.51,97.09 613.06,95.31C613.61,93.54 614.12,90.38 614.72,88.22C615.31,86.05 616.06,84.67 616.61,82.3C617.16,79.94 617.55,76.39 618.03,74.03C618.5,71.66 618.97,70.28 619.45,68.11C619.92,65.94 620.39,63.38 620.86,61.02C621.34,58.65 621.81,55.5 622.28,53.92C622.76,52.34 623.15,52.15 623.7,51.56C624.25,50.96 625,50.77 625.6,50.37C626.19,49.98 626.7,49.19 627.25,49.19C627.8,49.19 628.39,50.57 628.91,50.37C629.42,50.18 629.89,48.68 630.33,48.01C630.76,47.34 631.11,45.76 631.51,46.35C631.9,46.94 632.22,50.89 632.69,51.56C633.16,52.23 633.79,49.98 634.35,50.37C634.9,50.77 635.49,52.74 636,53.92C636.51,55.1 636.91,56.29 637.42,57.47C637.93,58.65 638.52,59.24 639.08,61.02C639.63,62.79 640.22,67.32 640.73,68.11C641.24,68.9 641.64,65.94 642.15,65.75C642.66,65.55 643.26,67.32 643.81,66.93C644.36,66.54 644.95,63.38 645.46,63.38C645.98,63.38 646.37,67.52 646.88,66.93C647.39,66.34 647.99,60.43 648.54,59.83C649.09,59.24 649.68,63.97 650.19,63.38C650.71,62.79 651.1,57.67 651.61,56.29C652.12,54.91 652.72,55.5 653.27,55.1C653.82,54.71 654.41,55.1 654.92,53.92C655.44,52.74 655.95,48.8 656.34,48.01C656.74,47.22 656.89,48.01 657.29,49.19C657.68,50.37 658.2,53.53 658.71,55.1C659.22,56.68 659.81,56.48 660.36,58.65C660.92,60.82 661.51,64.96 662.02,68.11C662.53,71.27 662.93,75.21 663.44,77.57C663.95,79.94 664.54,80.65 665.09,82.3C665.65,83.96 666.16,86.52 666.75,87.51C667.34,88.49 668.01,87.9 668.64,88.22C669.27,88.53 669.94,89.4 670.53,89.4C671.12,89.4 671.64,88.22 672.19,88.22C672.74,88.22 673.25,89.52 673.84,89.4C674.44,89.28 675.11,87.7 675.74,87.51C676.37,87.31 677.04,87.7 677.63,88.22C678.22,88.73 678.73,90.11 679.28,90.58C679.84,91.05 680.43,90.94 680.94,91.05C681.45,91.17 682.12,91.25 682.36,91.29" fill="none" stroke="#e8362c" stroke-width="1.6" stroke-linejoin="round"/>
<path d="M368.37,78.76C368.56,80.92 369.07,88.41 369.55,91.76C370.02,95.12 370.61,97.09 371.2,98.86C371.79,100.63 372.39,102.41 373.1,102.41C373.81,102.41 374.67,100.24 375.46,98.86C376.25,97.48 377.12,95.9 377.83,94.13C378.54,92.36 379.13,89.79 379.72,88.22C380.31,86.64 380.82,86.25 381.37,84.67C381.93,83.09 382.52,80.73 383.03,78.76C383.54,76.78 383.82,74.42 384.45,72.84C385.08,71.27 386.14,71.66 386.81,69.3C387.48,66.93 387.92,59.44 388.47,58.65C389.02,57.86 389.61,64.37 390.12,64.56C390.64,64.76 391.03,61.02 391.54,59.83C392.06,58.65 392.73,57.67 393.2,57.47C393.67,57.27 393.95,59.24 394.38,58.65C394.82,58.06 395.41,55.5 395.8,53.92C396.2,52.34 396.39,48.8 396.75,49.19C397.1,49.59 397.46,54.91 397.93,56.29C398.4,57.67 398.99,55.7 399.59,57.47C400.18,59.24 400.85,63.19 401.48,66.93C402.11,70.67 402.78,76.78 403.37,79.94C403.96,83.09 404.47,84.2 405.03,85.85C405.58,87.51 406.09,89.48 406.68,89.87C407.27,90.27 407.94,89.28 408.57,88.22C409.2,87.15 409.87,83.88 410.47,83.49C411.06,83.09 411.65,86.64 412.12,85.85C412.59,85.06 412.79,79.15 413.3,78.76C413.82,78.36 414.6,83.29 415.2,83.49C415.79,83.68 416.3,80.73 416.85,79.94C417.4,79.15 417.92,78.76 418.51,78.76C419.1,78.76 419.77,80.73 420.4,79.94C421.03,79.15 421.7,74.22 422.29,74.03C422.88,73.83 423.4,77.38 423.95,78.76C424.5,80.14 425.01,80.73 425.6,82.3C426.19,83.88 426.86,85.85 427.49,88.22C428.13,90.58 428.8,94.92 429.39,96.49C429.98,98.07 430.49,96.49 431.04,97.68C431.59,98.86 432.03,102.8 432.7,103.59C433.37,104.38 434.27,102.49 435.06,102.41C435.85,102.33 436.72,103.91 437.43,103.12C438.14,102.33 438.69,99.57 439.32,97.68C439.95,95.79 440.62,94.33 441.21,91.76C441.8,89.2 442.32,84.47 442.87,82.3C443.42,80.14 444.01,80.14 444.52,78.76C445.04,77.38 445.47,75.8 445.94,74.03C446.42,72.25 446.89,67.92 447.36,68.11C447.84,68.31 448.23,73.83 448.78,75.21C449.33,76.59 450.08,75.8 450.67,76.39C451.26,76.98 451.78,77.57 452.33,78.76C452.88,79.94 453.39,82.7 453.98,83.49C454.58,84.27 455.25,83.21 455.88,83.49C456.51,83.76 457.18,85.73 457.77,85.14C458.36,84.55 458.87,81.4 459.42,79.94C459.98,78.48 460.57,77.38 461.08,76.39C461.59,75.41 462.03,75.21 462.5,74.03C462.97,72.84 463.45,69.89 463.92,69.3C464.39,68.7 464.79,70.48 465.34,70.48C465.89,70.48 466.64,69.89 467.23,69.3C467.82,68.7 468.41,66.34 468.89,66.93C469.36,67.52 469.67,73.04 470.07,72.84C470.46,72.65 470.86,66.73 471.25,65.75C471.64,64.76 472,65.35 472.43,66.93C472.87,68.51 473.38,74.22 473.85,75.21C474.33,76.19 474.8,73.63 475.27,72.84C475.74,72.05 476.18,70.67 476.69,70.48C477.2,70.28 477.87,72.25 478.35,71.66C478.82,71.07 479.06,68.63 479.53,66.93C480,65.23 480.67,61.88 481.18,61.49C481.7,61.1 482.17,63.07 482.6,64.56C483.04,66.06 483.31,68.31 483.79,70.48C484.26,72.65 484.89,75.01 485.44,77.57C485.99,80.14 486.58,82.89 487.1,85.85C487.61,88.81 488.12,92.55 488.52,95.31C488.91,98.07 488.99,100.95 489.46,102.41C489.94,103.87 490.72,103.47 491.35,104.06C491.99,104.65 492.54,106.03 493.25,105.96C493.96,105.88 494.82,104.38 495.61,103.59C496.4,102.8 497.31,102.41 497.98,101.23C498.65,100.04 499.08,98.27 499.63,96.49C500.18,94.72 500.7,92.36 501.29,90.58C501.88,88.81 502.47,87.63 503.18,85.85C503.89,84.08 504.84,80.92 505.55,79.94C506.26,78.95 506.81,79.74 507.44,79.94C508.07,80.14 508.7,81.52 509.33,81.12C509.96,80.73 510.67,77.97 511.22,77.57C511.77,77.18 512.09,79.94 512.64,78.76C513.19,77.57 514.02,70.48 514.53,70.48C515.05,70.48 515.24,76.98 515.72,78.76C516.19,80.53 516.78,79.74 517.37,81.12C517.96,82.5 518.63,85.06 519.26,87.03C519.89,89.01 520.5,91.45 521.16,92.95C521.81,94.44 522.57,96.22 523.18,96.02C523.8,95.82 524.25,93.26 524.84,91.76C525.43,90.27 526.1,88.02 526.73,87.03C527.36,86.05 528.03,86.84 528.62,85.85C529.21,84.87 529.73,80.92 530.28,81.12C530.83,81.32 531.42,86.44 531.93,87.03C532.45,87.63 532.84,84.87 533.35,84.67C533.87,84.47 534.46,84.87 535.01,85.85C535.56,86.84 536.15,91.37 536.66,90.58C537.18,89.79 537.69,81.52 538.08,81.12C538.48,80.73 538.64,86.44 539.03,88.22C539.42,89.99 539.94,90.98 540.45,91.76C540.96,92.55 541.55,91.96 542.1,92.95C542.66,93.93 543.17,95.9 543.76,97.68C544.35,99.45 545.02,102.41 545.65,103.59C546.28,104.77 546.95,104.3 547.54,104.77C548.14,105.25 548.65,106.43 549.2,106.43C549.75,106.43 550.26,105.25 550.86,104.77C551.45,104.3 552.12,104.18 552.75,103.59C553.38,103 554.05,102.21 554.64,101.23C555.23,100.24 555.74,98.86 556.3,97.68C556.85,96.49 557.44,95.71 557.95,94.13C558.46,92.55 558.94,90.19 559.37,88.22C559.8,86.25 560.08,83.68 560.55,82.3C561.03,80.92 561.62,81.12 562.21,79.94C562.8,78.76 563.63,76.78 564.1,75.21C564.57,73.63 564.65,70.67 565.05,70.48C565.44,70.28 565.95,74.03 566.47,74.03C566.98,74.03 567.57,70.67 568.12,70.48C568.67,70.28 569.26,72.84 569.78,72.84C570.29,72.84 570.68,71.46 571.2,70.48C571.71,69.49 572.38,66.54 572.85,66.93C573.32,67.32 573.52,72.25 574.03,72.84C574.55,73.43 575.33,70.67 575.93,70.48C576.52,70.28 577.03,71.07 577.58,71.66C578.13,72.25 578.73,74.62 579.24,74.03C579.75,73.43 580.14,68.11 580.66,68.11C581.17,68.11 581.76,73.24 582.31,74.03C582.86,74.81 583.38,72.65 583.97,72.84C584.56,73.04 585.23,75.01 585.86,75.21C586.49,75.41 587.16,73.63 587.75,74.03C588.34,74.42 588.86,76.59 589.41,77.57C589.96,78.56 590.55,80.33 591.06,79.94C591.58,79.54 591.97,76.19 592.48,75.21C592.99,74.22 593.59,74.42 594.14,74.03C594.69,73.63 595.28,73.83 595.79,72.84C596.31,71.86 596.82,69.1 597.21,68.11C597.61,67.13 597.76,65.94 598.16,66.93C598.55,67.92 599.07,71.86 599.58,74.03C600.09,76.19 600.68,78.16 601.23,79.94C601.79,81.71 602.38,82.7 602.89,84.67C603.4,86.64 603.8,89.2 604.31,91.76C604.82,94.33 605.41,98.39 605.96,100.04C606.52,101.7 607.03,101.19 607.62,101.7C608.21,102.21 608.88,103.59 609.51,103.12C610.14,102.64 610.81,100.16 611.4,98.86C612,97.56 612.51,97.09 613.06,95.31C613.61,93.54 614.12,90.38 614.72,88.22C615.31,86.05 616.06,84.67 616.61,82.3C617.16,79.94 617.55,76.39 618.03,74.03C618.5,71.66 618.97,70.28 619.45,68.11C619.92,65.94 620.39,63.38 620.86,61.02C621.34,58.65 621.81,55.5 622.28,53.92C622.76,52.34 623.15,52.15 623.7,51.56C624.25,50.96 625,50.77 625.6,50.37C626.19,49.98 626.7,49.19 627.25,49.19C627.8,49.19 628.39,50.57 628.91,50.37C629.42,50.18 629.89,48.68 630.33,48.01C630.76,47.34 631.11,45.76 631.51,46.35C631.9,46.94 632.22,50.89 632.69,51.56C633.16,52.23 633.79,49.98 634.35,50.37C634.9,50.77 635.49,52.74 636,53.92C636.51,55.1 636.91,56.29 637.42,57.47C637.93,58.65 638.52,59.24 639.08,61.02C639.63,62.79 640.22,67.32 640.73,68.11C641.24,68.9 641.64,65.94 642.15,65.75C642.66,65.55 643.26,67.32 643.81,66.93C644.36,66.54 644.95,63.38 645.46,63.38C645.98,63.38 646.37,67.52 646.88,66.93C647.39,66.34 647.99,60.43 648.54,59.83C649.09,59.24 649.68,63.97 650.19,63.38C650.71,62.79 651.1,57.67 651.61,56.29C652.12,54.91 652.72,55.5 653.27,55.1C653.82,54.71 654.41,55.1 654.92,53.92C655.44,52.74 655.95,48.8 656.34,48.01C656.74,47.22 656.89,48.01 657.29,49.19C657.68,50.37 658.2,53.53 658.71,55.1C659.22,56.68 659.81,56.48 660.36,58.65C660.92,60.82 661.51,64.96 662.02,68.11C662.53,71.27 662.93,75.21 663.44,77.57C663.95,79.94 664.54,80.65 665.09,82.3C665.65,83.96 666.16,86.52 666.75,87.51C667.34,88.49 668.01,87.9 668.64,88.22C669.27,88.53 669.94,89.4 670.53,89.4C671.12,89.4 671.64,88.22 672.19,88.22C672.74,88.22 673.25,89.52 673.84,89.4C674.44,89.28 675.11,87.7 675.74,87.51C676.37,87.31 677.04,87.7 677.63,88.22C678.22,88.73 678.73,90.11 679.28,90.58C679.84,91.05 680.43,90.94 680.94,91.05C681.45,91.17 682.12,91.25 682.36,91.29" fill="none" stroke="#3b7f22" stroke-width="2.1" stroke-dasharray="4.2 0.7 0.6 0.7" stroke-linejoin="round"/>
</g>
<g clip-path="url(#cU1)">
<path d="M209.72,558.35 210.52,558.53 211.32,559.00 212.12,558.62 212.92,558.81 213.72,559.09 214.52,558.95 215.32,559.71 216.12,560.33 216.92,561.09 217.72,560.95 218.52,561.80 219.32,562.26 220.12,563.82 220.92,564.54 221.72,564.82 222.52,567.04 223.32,568.33 224.12,569.38 224.92,570.80 225.72,571.74 226.52,572.95 227.32,574.71 228.12,575.28 228.92,576.39 229.72,577.32 230.52,577.88 231.32,579.16 232.12,579.83 232.92,580.83 233.72,580.90 234.52,581.07 235.32,580.55 236.12,579.92 236.92,578.45 237.72,576.52 238.52,575.33 239.32,573.10 240.12,570.63 240.92,568.10 241.72,565.28 242.52,562.88 243.32,560.71 244.12,558.35 244.92,557.18 245.72,555.02 246.52,554.03 247.32,552.34 248.12,552.03 248.92,551.17 249.72,549.84 250.52,549.82 251.32,550.43 252.12,549.87 252.92,550.43 253.72,549.64 254.52,548.97 255.32,549.18 256.12,548.85 256.92,547.70 257.72,546.85 258.52,546.34 259.32,546.13 260.12,544.98 260.92,543.39 261.72,542.73 262.52,542.01 263.32,541.69 264.12,542.46 264.92,541.94 265.72,542.73 266.52,543.18 267.32,543.66 268.12,545.19 268.92,545.63 269.72,547.49 270.52,548.33 271.32,550.13 272.12,551.42 272.92,552.97 273.72,555.00 274.52,555.85 275.32,556.14 276.12,557.39 276.92,557.04 277.72,557.58 278.52,558.35 279.32,558.27 280.12,557.78 280.92,558.71 281.72,557.66 282.52,557.40 283.32,557.45 284.12,556.25 284.92,555.50 285.72,554.54 286.52,553.87 287.32,553.92 288.12,553.23 288.92,553.38 289.72,552.94 290.52,552.88 291.32,553.28 292.12,552.63 292.92,552.64 293.72,552.95 294.52,552.47 295.32,552.98 296.12,554.64 296.92,555.67 297.72,556.47 298.52,557.83 299.32,559.86 300.12,561.43 300.92,561.77 301.72,563.57 302.52,564.36 303.32,564.89 304.12,565.54 304.92,566.16 305.72,567.08 306.52,569.11 307.32,569.27 308.12,570.49 308.92,570.47 309.72,571.40 310.52,571.33 311.32,571.05 312.12,571.01 312.92,571.74 313.72,571.20 314.52,571.57 315.32,572.15 316.12,572.71 316.92,572.70 317.72,572.50 318.52,573.18 319.32,572.19 320.12,571.43 320.92,570.72 321.72,569.54 322.52,567.32 323.32,565.15 324.12,562.71 324.92,560.04 325.72,556.42 326.52,553.48 327.32,550.86 328.12,547.76 328.92,544.22 329.72,541.14 330.52,538.00 331.32,534.69 332.12,532.10 332.92,530.10 333.72,529.59 334.52,528.39 335.32,528.12 336.12,526.85 336.92,527.52 337.72,527.50 338.52,528.11 339.32,528.18 340.12,529.57 340.92,529.35 341.72,530.83 342.52,532.08 343.32,533.39 344.12,534.41 344.92,535.61 345.72,537.02 346.52,538.55 347.32,539.36 348.12,541.15 348.92,542.78 349.72,544.00 350.52,544.59 351.32,545.98 352.12,546.92 352.92,547.36 353.72,548.12 354.52,548.45 355.32,549.18 356.12,549.61 356.92,549.24 357.72,549.88 358.52,550.14 359.32,549.69 360.12,549.04 360.92,548.12 361.72,547.92 362.52,547.17 363.32,546.47 364.12,546.47 364.92,545.30 365.72,545.72 366.52,544.59 367.32,544.83 368.12,544.25 368.92,543.50 369.72,543.53 370.52,542.90 371.32,542.71 372.12,542.77 372.92,541.75 373.72,541.18 374.52,541.16 375.32,541.10 376.12,539.96 376.92,539.19 377.72,539.23 378.52,538.14 379.32,537.12 380.12,536.85 380.92,535.63 381.72,535.79 382.52,535.43 383.32,536.06 384.12,537.12 384.92,538.02 385.72,538.75 386.52,538.97 387.32,540.22 388.12,541.37 388.92,542.96 389.72,545.38 390.52,548.03 391.32,550.44 392.12,552.50 392.92,554.73 393.72,555.72 394.52,557.09 395.32,558.64 396.12,559.65 396.92,560.78 397.72,562.20 398.52,563.64 399.32,564.69 400.12,565.70 400.92,567.43 401.72,568.67 402.52,569.09 403.32,569.39 404.12,569.65 404.92,570.52 405.72,569.04 406.52,568.65 407.32,567.02 408.12,564.93 408.92,563.34 409.72,560.25 410.52,558.06 411.32,556.01 412.12,553.18 412.92,551.84 413.72,549.09 414.52,547.12 415.32,545.52 416.12,544.96 416.92,543.93 417.72,543.73 418.52,543.68 419.32,544.04 420.12,544.69 420.92,545.01 421.72,545.14 422.52,546.13 423.32,546.46 424.12,546.86 424.92,547.89 425.72,548.65 426.52,548.46 427.32,548.89 428.12,549.18 428.92,549.59 429.72,549.27 430.52,549.14 431.32,548.95 432.12,548.15 432.92,548.23 433.72,548.04 434.52,546.88 435.32,547.60 436.12,547.20 436.92,546.40 437.72,546.68 438.52,546.85 439.32,547.21 440.12,546.73 440.92,547.11 441.72,547.66 442.52,547.88 443.32,548.45 444.12,548.39 444.92,549.11 445.72,549.13 446.52,550.14 447.32,550.63 448.12,550.78 448.92,551.10 449.72,550.66 450.52,551.43 451.32,551.39 452.12,551.12 452.92,550.32 453.72,550.23 454.52,549.31 455.32,549.63 456.12,549.35 456.92,548.68 457.72,548.40 458.52,548.94 459.32,549.27 460.12,549.83 460.92,549.98 461.72,550.05 462.52,551.68 463.32,551.82 464.12,553.70 464.92,554.24 465.72,555.80 466.52,557.80 467.32,558.75 468.12,560.55 468.92,562.78 469.72,564.84 470.52,566.75 471.32,568.24 472.12,570.00 472.92,570.88 473.72,572.68 474.52,572.95 475.32,574.28 476.12,575.69 476.92,576.39 477.72,577.65 478.52,578.00 479.32,577.99 480.12,578.23 480.92,577.57 481.72,576.78 482.52,576.32 483.32,576.28 484.12,575.78 484.92,574.42 485.72,574.48 486.52,573.91 487.32,572.39 488.12,571.08 488.92,569.02 489.72,567.49 490.52,565.32 491.32,563.35 492.12,560.67 492.92,559.71 493.72,557.21 494.52,555.08 495.32,553.52 496.12,551.31 496.92,549.37 497.72,547.80 498.52,545.66 499.32,545.08 500.12,544.17 500.92,544.42 501.72,544.48 502.52,544.04 503.32,544.74 504.12,545.03 504.92,546.08 505.72,547.26 506.52,548.15 507.32,548.48 508.12,549.11 508.92,549.77 509.72,550.64 510.52,551.38" fill="none" stroke="#e8362c" stroke-width="1.3" stroke-linejoin="round"/>
<path d="M209.72,558.35 210.52,558.53 211.32,559.00 212.12,558.62 212.92,558.81 213.72,559.09 214.52,558.95 215.32,559.71 216.12,560.33 216.92,561.09 217.72,560.95 218.52,561.80 219.32,562.26 220.12,563.82 220.92,564.54 221.72,564.82 222.52,567.04 223.32,568.33 224.12,569.38 224.92,570.80 225.72,571.74 226.52,572.95 227.32,574.71 228.12,575.28 228.92,576.39 229.72,577.32 230.52,577.88 231.32,579.16 232.12,579.83 232.92,580.83 233.72,580.90 234.52,581.07 235.32,580.55 236.12,579.92 236.92,578.45 237.72,576.52 238.52,575.33 239.32,573.10 240.12,570.63 240.92,568.10 241.72,565.28 242.52,562.88 243.32,560.71 244.12,558.35 244.92,557.18 245.72,555.02 246.52,554.03 247.32,552.34 248.12,552.03 248.92,551.17 249.72,549.84 250.52,549.82 251.32,550.43 252.12,549.87 252.92,550.43 253.72,549.64 254.52,548.97 255.32,549.18 256.12,548.85 256.92,547.70 257.72,546.85 258.52,546.34 259.32,546.13 260.12,544.98 260.92,543.39 261.72,542.73 262.52,542.01 263.32,541.69 264.12,542.46 264.92,541.94 265.72,542.73 266.52,543.18 267.32,543.66 268.12,545.19 268.92,545.63 269.72,547.49 270.52,548.33 271.32,550.13 272.12,551.42 272.92,552.97 273.72,555.00 274.52,555.85 275.32,556.14 276.12,557.39 276.92,557.04 277.72,557.58 278.52,558.35 279.32,558.27 280.12,557.78 280.92,558.71 281.72,557.66 282.52,557.40 283.32,557.45 284.12,556.25 284.92,555.50 285.72,554.54 286.52,553.87 287.32,553.92 288.12,553.23 288.92,553.38 289.72,552.94 290.52,552.88 291.32,553.28 292.12,552.63 292.92,552.64 293.72,552.95 294.52,552.47 295.32,552.98 296.12,554.64 296.92,555.67 297.72,556.47 298.52,557.83 299.32,559.86 300.12,561.43 300.92,561.77 301.72,563.57 302.52,564.36 303.32,564.89 304.12,565.54 304.92,566.16 305.72,567.08 306.52,569.11 307.32,569.27 308.12,570.49 308.92,570.47 309.72,571.40 310.52,571.33 311.32,571.05 312.12,571.01 312.92,571.74 313.72,571.20 314.52,571.57 315.32,572.15 316.12,572.71 316.92,572.70 317.72,572.50 318.52,573.18 319.32,572.19 320.12,571.43 320.92,570.72 321.72,569.54 322.52,567.32 323.32,565.15 324.12,562.71 324.92,560.04 325.72,556.42 326.52,553.48 327.32,550.86 328.12,547.76 328.92,544.22 329.72,541.14 330.52,538.00 331.32,534.69 332.12,532.10 332.92,530.10 333.72,529.59 334.52,528.39 335.32,528.12 336.12,526.85 336.92,527.52 337.72,527.50 338.52,528.11 339.32,528.18 340.12,529.57 340.92,529.35 341.72,530.83 342.52,532.08 343.32,533.39 344.12,534.41 344.92,535.61 345.72,537.02 346.52,538.55 347.32,539.36 348.12,541.15 348.92,542.78 349.72,544.00 350.52,544.59 351.32,545.98 352.12,546.92 352.92,547.36 353.72,548.12 354.52,548.45 355.32,549.18 356.12,549.61 356.92,549.24 357.72,549.88 358.52,550.14 359.32,549.69 360.12,549.04 360.92,548.12 361.72,547.92 362.52,547.17 363.32,546.47 364.12,546.47 364.92,545.30 365.72,545.72 366.52,544.59 367.32,544.83 368.12,544.25 368.92,543.50 369.72,543.53 370.52,542.90 371.32,542.71 372.12,542.77 372.92,541.75 373.72,541.18 374.52,541.16 375.32,541.10 376.12,539.96 376.92,539.19 377.72,539.23 378.52,538.14 379.32,537.12 380.12,536.85 380.92,535.63 381.72,535.79 382.52,535.43 383.32,536.06 384.12,537.12 384.92,538.02 385.72,538.75 386.52,538.97 387.32,540.22 388.12,541.37 388.92,542.96 389.72,545.38 390.52,548.03 391.32,550.44 392.12,552.50 392.92,554.73 393.72,555.72 394.52,557.09 395.32,558.64 396.12,559.65 396.92,560.78 397.72,562.20 398.52,563.64 399.32,564.69 400.12,565.70 400.92,567.43 401.72,568.67 402.52,569.09 403.32,569.39 404.12,569.65 404.92,570.52 405.72,569.04 406.52,568.65 407.32,567.02 408.12,564.93 408.92,563.34 409.72,560.25 410.52,558.06 411.32,556.01 412.12,553.18 412.92,551.84 413.72,549.09 414.52,547.12 415.32,545.52 416.12,544.96 416.92,543.93 417.72,543.73 418.52,543.68 419.32,544.04 420.12,544.69 420.92,545.01 421.72,545.14 422.52,546.13 423.32,546.46 424.12,546.86 424.92,547.89 425.72,548.65 426.52,548.46 427.32,548.89 428.12,549.18 428.92,549.59 429.72,549.27 430.52,549.14 431.32,548.95 432.12,548.15 432.92,548.23 433.72,548.04 434.52,546.88 435.32,547.60 436.12,547.20 436.92,546.40 437.72,546.68 438.52,546.85 439.32,547.21 440.12,546.73 440.92,547.11 441.72,547.66 442.52,547.88 443.32,548.45 444.12,548.39 444.92,549.11 445.72,549.13 446.52,550.14 447.32,550.63 448.12,550.78 448.92,551.10 449.72,550.66 450.52,551.43 451.32,551.39 452.12,551.12 452.92,550.32 453.72,550.23 454.52,549.31 455.32,549.63 456.12,549.35 456.92,548.68 457.72,548.40 458.52,548.94 459.32,549.27 460.12,549.83 460.92,549.98 461.72,550.05 462.52,551.68 463.32,551.82 464.12,553.70 464.92,554.24 465.72,555.80 466.52,557.80 467.32,558.75 468.12,560.55 468.92,562.78 469.72,564.84 470.52,566.75 471.32,568.24 472.12,570.00 472.92,570.88 473.72,572.68 474.52,572.95 475.32,574.28 476.12,575.69 476.92,576.39 477.72,577.65 478.52,578.00 479.32,577.99 480.12,578.23 480.92,577.57 481.72,576.78 482.52,576.32 483.32,576.28 484.12,575.78 484.92,574.42 485.72,574.48 486.52,573.91 487.32,572.39 488.12,571.08 488.92,569.02 489.72,567.49 490.52,565.32 491.32,563.35 492.12,560.67 492.92,559.71 493.72,557.21 494.52,555.08 495.32,553.52 496.12,551.31 496.92,549.37 497.72,547.80 498.52,545.66 499.32,545.08 500.12,544.17 500.92,544.42 501.72,544.48 502.52,544.04 503.32,544.74 504.12,545.03 504.92,546.08 505.72,547.26 506.52,548.15 507.32,548.48 508.12,549.11 508.92,549.77 509.72,550.64 510.52,551.38" fill="none" stroke="#3a50b8" stroke-width="1.7" stroke-dasharray="4.2 0.7 0.6 0.7" stroke-linejoin="round"/>
</g>
<g clip-path="url(#cL2)">
<path d="M26.17,209.9C27.32,209.9 28.05,184.21 29.2,184.21C30.71,184.21 31.67,203.59 33.18,203.59C35.57,203.59 37.09,192.85 39.48,192.85C40.9,192.85 41.8,217.61 43.22,217.61C44.55,217.61 45.39,160.85 46.72,160.85C48.23,160.85 49.19,225.08 50.69,225.08C52.29,225.08 53.3,174.86 54.9,174.86C56.5,174.86 57.51,220.88 59.1,220.88C60.61,220.88 61.57,169.02 63.08,169.02C64.67,169.02 65.68,217.61 67.28,217.61C68.97,217.61 70.03,181.87 71.72,181.87C73.14,181.87 74.04,216.91 75.46,216.91C77.14,216.91 78.21,173.23 79.89,173.23C81.23,173.23 82.07,209.9 83.4,209.9C85,209.9 86,197.05 87.6,197.05C88.49,197.05 89.05,198.22 89.94,198.22C91.18,198.22 91.97,204.06 93.21,204.06C94.81,204.06 95.82,187.71 97.41,187.71C99.01,187.71 100.02,223.92 101.62,223.92C103.04,223.92 103.93,160.15 105.36,160.15C106.95,160.15 107.96,223.22 109.56,223.22C111.16,223.22 112.17,174.86 113.76,174.86C115.36,174.86 116.37,220.88 117.97,220.88C119.39,220.88 120.29,169.49 121.71,169.49C123.3,169.49 124.31,222.28 125.91,222.28C127.51,222.28 128.52,171.36 130.12,171.36C131.71,171.36 132.72,220.41 134.32,220.41C136.01,220.41 137.07,176.03 138.76,176.03C140.18,176.03 141.08,209.9 142.5,209.9C144.18,209.9 145.25,190.51 146.93,190.51C148.53,190.51 149.54,205.23 151.14,205.23C152.74,205.23 153.75,191.21 155.34,191.21C157.12,191.21 158.24,214.57 160.02,214.57C161.44,214.57 162.33,169.49 163.75,169.49C165.35,169.49 166.36,219.25 167.96,219.25C169.56,219.25 170.56,180.24 172.16,180.24C173.76,180.24 174.77,215.74 176.37,215.74C178.02,215.74 179.06,174.18 180.71,174.18C182.25,174.18 183.22,218.92 184.76,218.92C186.3,218.92 187.27,173.7 188.81,173.7C190.61,173.7 191.76,222.25 193.56,222.25C194.92,222.25 195.78,165.13 197.13,165.13C198.58,165.13 199.5,211.78 200.94,211.78C202.75,211.78 203.89,194.41 205.7,194.41C206.34,194.41 206.73,196.79 207.37,196.79C208.45,196.79 209.14,205.12 210.22,205.12C211.85,205.12 212.88,192.03 214.51,192.03C216.14,192.03 217.16,221.3 218.79,221.3C220.15,221.3 221,157.04 222.36,157.04C223.9,157.04 224.87,223.68 226.41,223.68C227.94,223.68 228.91,181.32 230.45,181.32C232.26,181.32 233.4,217.01 235.21,217.01C236.66,217.01 237.57,175.37 239.02,175.37C240.74,175.37 241.82,219.87 243.54,219.87C244.99,219.87 245.9,169.42 247.35,169.42C249.07,169.42 250.15,218.92 251.87,218.92C253.5,218.92 254.53,176.56 256.15,176.56C257.78,176.56 258.81,209.4 260.44,209.4C261.7,209.4 262.5,199.17 263.77,199.17C264.31,199.17 264.65,199.88 265.2,199.88C265.92,199.88 266.38,195.6 267.1,195.6C267.92,195.6 268.43,204.64 269.24,204.64C270.42,204.64 271.16,191.31 272.34,191.31C274.15,191.31 275.29,214.63 277.1,214.63C278.54,214.63 279.46,164.18 280.9,164.18C282.44,164.18 283.41,221.3 284.95,221.3C286.49,221.3 287.46,174.65 289,174.65C290.71,174.65 291.8,220.58 293.52,220.58C295.15,220.58 296.17,169.42 297.8,169.42C299.34,169.42 300.31,222.25 301.85,222.25C303.29,222.25 304.21,169.42 305.65,169.42C307.37,169.42 308.46,216.54 310.18,216.54C311.8,216.54 312.83,177.75 314.46,177.75C316,177.75 316.97,213.45 318.51,213.45C320.13,213.45 321.16,187.98 322.79,187.98C324.33,187.98 325.3,205.12 326.83,205.12C328.28,205.12 329.2,194.41 330.64,194.41C332.63,194.41 333.89,214.16 335.88,214.16C337.23,214.16 338.09,169.42 339.45,169.42" fill="none" stroke="#e8362c" stroke-width="1.6" stroke-linejoin="round"/>
<path d="M26.17,209.9C27.32,209.9 28.05,184.21 29.2,184.21C30.71,184.21 31.67,203.59 33.18,203.59C35.57,203.59 37.09,192.85 39.48,192.85C40.9,192.85 41.8,217.61 43.22,217.61C44.55,217.61 45.39,160.85 46.72,160.85C48.23,160.85 49.19,225.08 50.69,225.08C52.29,225.08 53.3,174.86 54.9,174.86C56.5,174.86 57.51,220.88 59.1,220.88C60.61,220.88 61.57,169.02 63.08,169.02C64.67,169.02 65.68,217.61 67.28,217.61C68.97,217.61 70.03,181.87 71.72,181.87C73.14,181.87 74.04,216.91 75.46,216.91C77.14,216.91 78.21,173.23 79.89,173.23C81.23,173.23 82.07,209.9 83.4,209.9C85,209.9 86,197.05 87.6,197.05C88.49,197.05 89.05,198.22 89.94,198.22C91.18,198.22 91.97,204.06 93.21,204.06C94.81,204.06 95.82,187.71 97.41,187.71C99.01,187.71 100.02,223.92 101.62,223.92C103.04,223.92 103.93,160.15 105.36,160.15C106.95,160.15 107.96,223.22 109.56,223.22C111.16,223.22 112.17,174.86 113.76,174.86C115.36,174.86 116.37,220.88 117.97,220.88C119.39,220.88 120.29,169.49 121.71,169.49C123.3,169.49 124.31,222.28 125.91,222.28C127.51,222.28 128.52,171.36 130.12,171.36C131.71,171.36 132.72,220.41 134.32,220.41C136.01,220.41 137.07,176.03 138.76,176.03C140.18,176.03 141.08,209.9 142.5,209.9C144.18,209.9 145.25,190.51 146.93,190.51C148.53,190.51 149.54,205.23 151.14,205.23C152.74,205.23 153.75,191.21 155.34,191.21C157.12,191.21 158.24,214.57 160.02,214.57C161.44,214.57 162.33,169.49 163.75,169.49C165.35,169.49 166.36,219.25 167.96,219.25C169.56,219.25 170.56,180.24 172.16,180.24C173.76,180.24 174.77,215.74 176.37,215.74C178.02,215.74 179.06,174.18 180.71,174.18C182.25,174.18 183.22,218.92 184.76,218.92C186.3,218.92 187.27,173.7 188.81,173.7C190.61,173.7 191.76,222.25 193.56,222.25C194.92,222.25 195.78,165.13 197.13,165.13C198.58,165.13 199.5,211.78 200.94,211.78C202.75,211.78 203.89,194.41 205.7,194.41C206.34,194.41 206.73,196.79 207.37,196.79C208.45,196.79 209.14,205.12 210.22,205.12C211.85,205.12 212.88,192.03 214.51,192.03C216.14,192.03 217.16,221.3 218.79,221.3C220.15,221.3 221,157.04 222.36,157.04C223.9,157.04 224.87,223.68 226.41,223.68C227.94,223.68 228.91,181.32 230.45,181.32C232.26,181.32 233.4,217.01 235.21,217.01C236.66,217.01 237.57,175.37 239.02,175.37C240.74,175.37 241.82,219.87 243.54,219.87C244.99,219.87 245.9,169.42 247.35,169.42C249.07,169.42 250.15,218.92 251.87,218.92C253.5,218.92 254.53,176.56 256.15,176.56C257.78,176.56 258.81,209.4 260.44,209.4C261.7,209.4 262.5,199.17 263.77,199.17C264.31,199.17 264.65,199.88 265.2,199.88C265.92,199.88 266.38,195.6 267.1,195.6C267.92,195.6 268.43,204.64 269.24,204.64C270.42,204.64 271.16,191.31 272.34,191.31C274.15,191.31 275.29,214.63 277.1,214.63C278.54,214.63 279.46,164.18 280.9,164.18C282.44,164.18 283.41,221.3 284.95,221.3C286.49,221.3 287.46,174.65 289,174.65C290.71,174.65 291.8,220.58 293.52,220.58C295.15,220.58 296.17,169.42 297.8,169.42C299.34,169.42 300.31,222.25 301.85,222.25C303.29,222.25 304.21,169.42 305.65,169.42C307.37,169.42 308.46,216.54 310.18,216.54C311.8,216.54 312.83,177.75 314.46,177.75C316,177.75 316.97,213.45 318.51,213.45C320.13,213.45 321.16,187.98 322.79,187.98C324.33,187.98 325.3,205.12 326.83,205.12C328.28,205.12 329.2,194.41 330.64,194.41C332.63,194.41 333.89,214.16 335.88,214.16C337.23,214.16 338.09,169.42 339.45,169.42" fill="none" stroke="#7a46c4" stroke-width="2.1" stroke-dasharray="4.2 0.7 0.6 0.7" stroke-linejoin="round"/>
</g>
<g clip-path="url(#cR2)">
<path d="M368.37,202.4C369.08,202.4 369.54,196.49 370.26,196.49C370.89,196.49 371.28,198.14 371.91,198.14C372.99,198.14 373.67,191.76 374.75,191.76C375.74,191.76 376.36,200.51 377.35,200.51C378.7,200.51 379.55,179.93 380.9,179.93C382.88,179.93 384.13,215.41 386.1,215.41C387.45,215.41 388.3,155.1 389.65,155.1C391.45,155.1 392.58,228.89 394.38,228.89C395.73,228.89 396.58,152.26 397.93,152.26C399.55,152.26 400.57,223.21 402.19,223.21C403.72,223.21 404.68,175.91 406.21,175.91C407.83,175.91 408.85,210.68 410.47,210.68C411.99,210.68 412.96,172.12 414.49,172.12C416.37,172.12 417.57,214.23 419.45,214.23C420.89,214.23 421.8,168.1 423.24,168.1C424.86,168.1 425.88,208.31 427.49,208.31C428.84,208.31 429.69,183.48 431.04,183.48C431.94,183.48 432.51,194.12 433.41,194.12C434.76,194.12 435.61,201.22 436.96,201.22C438.3,201.22 439.16,181.59 440.5,181.59C441.85,181.59 442.7,213.04 444.05,213.04C445.58,213.04 446.54,162.66 448.07,162.66C449.78,162.66 450.86,213.75 452.57,213.75C454.09,213.75 455.06,175.2 456.59,175.2C458.56,175.2 459.81,215.41 461.79,215.41C463.14,215.41 463.99,162.66 465.34,162.66C466.69,162.66 467.54,221.79 468.89,221.79C470.5,221.79 471.53,158.64 473.14,158.64C474.85,158.64 475.93,218.96 477.64,218.96C479.25,218.96 480.28,163.37 481.89,163.37C483.51,163.37 484.53,204.76 486.15,204.76C486.78,204.76 487.18,198.85 487.81,198.85C488.44,198.85 488.83,200.03 489.46,200.03C490.63,200.03 491.37,189.39 492.54,189.39C493.89,189.39 494.74,197.67 496.09,197.67C497.88,197.67 499.02,190.57 500.82,190.57C501.89,190.57 502.58,205.95 503.65,205.95C505.09,205.95 506,172.12 507.44,172.12C508.97,172.12 509.93,217.06 511.46,217.06C512.99,217.06 513.95,161.72 515.48,161.72C517.1,161.72 518.12,209.02 519.74,209.02C521.68,209.02 522.9,185.84 524.84,185.84C526.01,185.84 526.74,208.31 527.91,208.31C529.44,208.31 530.41,168.81 531.93,168.81C533.37,168.81 534.28,209.02 535.72,209.02C537.25,209.02 538.21,167.39 539.74,167.39C541.54,167.39 542.67,201.93 544.47,201.93C546,201.93 546.96,189.39 548.49,189.39C549.66,189.39 550.4,196.49 551.56,196.49C552.46,196.49 553.03,197.67 553.93,197.67C555.28,197.67 556.13,186.32 557.48,186.32C559.28,186.32 560.41,209.49 562.21,209.49C563.56,209.49 564.41,162.66 565.76,162.66C567.55,162.66 568.69,217.77 570.49,217.77C571.83,217.77 572.69,162.66 574.03,162.66C575.83,162.66 576.97,220.14 578.76,220.14C580.2,220.14 581.11,159.83 582.55,159.83C584.08,159.83 585.04,216.12 586.57,216.12C588.1,216.12 589.06,169.76 590.59,169.76C592.39,169.76 593.52,217.06 595.32,217.06C596.85,217.06 597.81,160.3 599.34,160.3C600.96,160.3 601.98,209.97 603.6,209.97C605.49,209.97 606.68,182.3 608.57,182.3C610.27,182.3 611.35,203.58 613.06,203.58C614.23,203.58 614.97,184.66 616.13,184.66C616.76,184.66 617.16,181.59 617.79,181.59C618.96,181.59 619.7,220.14 620.86,220.14C622.12,220.14 622.92,164.08 624.18,164.08C625.79,164.08 626.82,228.42 628.43,228.42C630.23,228.42 631.37,155.57 633.16,155.57C634.69,155.57 635.66,230.31 637.18,230.31C638.62,230.31 639.53,157.93 640.97,157.93C642.68,157.93 643.75,224.16 645.46,224.16C647.08,224.16 648.1,155.1 649.72,155.1C651.34,155.1 652.36,226.05 653.98,226.05C655.6,226.05 656.62,155.57 658.23,155.57C659.76,155.57 660.73,213.04 662.26,213.04C663.78,213.04 664.75,178.75 666.28,178.75C668.07,178.75 669.21,204.76 671.01,204.76C672.35,204.76 673.21,185.84 674.55,185.84C675.45,185.84 676.02,188.21 676.92,188.21C678.09,188.21 678.83,204.76 679.99,204.76C681.25,204.76 682.05,183.48 683.31,183.48" fill="none" stroke="#e8362c" stroke-width="1.6" stroke-linejoin="round"/>
<path d="M368.37,202.4C369.08,202.4 369.54,196.49 370.26,196.49C370.89,196.49 371.28,198.14 371.91,198.14C372.99,198.14 373.67,191.76 374.75,191.76C375.74,191.76 376.36,200.51 377.35,200.51C378.7,200.51 379.55,179.93 380.9,179.93C382.88,179.93 384.13,215.41 386.1,215.41C387.45,215.41 388.3,155.1 389.65,155.1C391.45,155.1 392.58,228.89 394.38,228.89C395.73,228.89 396.58,152.26 397.93,152.26C399.55,152.26 400.57,223.21 402.19,223.21C403.72,223.21 404.68,175.91 406.21,175.91C407.83,175.91 408.85,210.68 410.47,210.68C411.99,210.68 412.96,172.12 414.49,172.12C416.37,172.12 417.57,214.23 419.45,214.23C420.89,214.23 421.8,168.1 423.24,168.1C424.86,168.1 425.88,208.31 427.49,208.31C428.84,208.31 429.69,183.48 431.04,183.48C431.94,183.48 432.51,194.12 433.41,194.12C434.76,194.12 435.61,201.22 436.96,201.22C438.3,201.22 439.16,181.59 440.5,181.59C441.85,181.59 442.7,213.04 444.05,213.04C445.58,213.04 446.54,162.66 448.07,162.66C449.78,162.66 450.86,213.75 452.57,213.75C454.09,213.75 455.06,175.2 456.59,175.2C458.56,175.2 459.81,215.41 461.79,215.41C463.14,215.41 463.99,162.66 465.34,162.66C466.69,162.66 467.54,221.79 468.89,221.79C470.5,221.79 471.53,158.64 473.14,158.64C474.85,158.64 475.93,218.96 477.64,218.96C479.25,218.96 480.28,163.37 481.89,163.37C483.51,163.37 484.53,204.76 486.15,204.76C486.78,204.76 487.18,198.85 487.81,198.85C488.44,198.85 488.83,200.03 489.46,200.03C490.63,200.03 491.37,189.39 492.54,189.39C493.89,189.39 494.74,197.67 496.09,197.67C497.88,197.67 499.02,190.57 500.82,190.57C501.89,190.57 502.58,205.95 503.65,205.95C505.09,205.95 506,172.12 507.44,172.12C508.97,172.12 509.93,217.06 511.46,217.06C512.99,217.06 513.95,161.72 515.48,161.72C517.1,161.72 518.12,209.02 519.74,209.02C521.68,209.02 522.9,185.84 524.84,185.84C526.01,185.84 526.74,208.31 527.91,208.31C529.44,208.31 530.41,168.81 531.93,168.81C533.37,168.81 534.28,209.02 535.72,209.02C537.25,209.02 538.21,167.39 539.74,167.39C541.54,167.39 542.67,201.93 544.47,201.93C546,201.93 546.96,189.39 548.49,189.39C549.66,189.39 550.4,196.49 551.56,196.49C552.46,196.49 553.03,197.67 553.93,197.67C555.28,197.67 556.13,186.32 557.48,186.32C559.28,186.32 560.41,209.49 562.21,209.49C563.56,209.49 564.41,162.66 565.76,162.66C567.55,162.66 568.69,217.77 570.49,217.77C571.83,217.77 572.69,162.66 574.03,162.66C575.83,162.66 576.97,220.14 578.76,220.14C580.2,220.14 581.11,159.83 582.55,159.83C584.08,159.83 585.04,216.12 586.57,216.12C588.1,216.12 589.06,169.76 590.59,169.76C592.39,169.76 593.52,217.06 595.32,217.06C596.85,217.06 597.81,160.3 599.34,160.3C600.96,160.3 601.98,209.97 603.6,209.97C605.49,209.97 606.68,182.3 608.57,182.3C610.27,182.3 611.35,203.58 613.06,203.58C614.23,203.58 614.97,184.66 616.13,184.66C616.76,184.66 617.16,181.59 617.79,181.59C618.96,181.59 619.7,220.14 620.86,220.14C622.12,220.14 622.92,164.08 624.18,164.08C625.79,164.08 626.82,228.42 628.43,228.42C630.23,228.42 631.37,155.57 633.16,155.57C634.69,155.57 635.66,230.31 637.18,230.31C638.62,230.31 639.53,157.93 640.97,157.93C642.68,157.93 643.75,224.16 645.46,224.16C647.08,224.16 648.1,155.1 649.72,155.1C651.34,155.1 652.36,226.05 653.98,226.05C655.6,226.05 656.62,155.57 658.23,155.57C659.76,155.57 660.73,213.04 662.26,213.04C663.78,213.04 664.75,178.75 666.28,178.75C668.07,178.75 669.21,204.76 671.01,204.76C672.35,204.76 673.21,185.84 674.55,185.84C675.45,185.84 676.02,188.21 676.92,188.21C678.09,188.21 678.83,204.76 679.99,204.76C681.25,204.76 682.05,183.48 683.31,183.48" fill="none" stroke="#3b7f22" stroke-width="2.1" stroke-dasharray="4.2 0.7 0.6 0.7" stroke-linejoin="round"/>
</g>
<g clip-path="url(#cU2)">
<path d="M209.72,640.81C210.83,640.81 211.54,630.63 212.66,630.63C214.64,630.63 215.88,658.92 217.86,658.92C220.01,658.92 221.37,636.29 223.52,636.29C225.84,636.29 227.31,651.68 229.63,651.68C231.35,651.68 232.44,647.6 234.16,647.6C235.7,647.6 236.68,644.21 238.23,644.21C239.95,644.21 241.03,656.65 242.75,656.65C245.08,656.65 246.54,627.91 248.86,627.91C251.19,627.91 252.65,668.65 254.97,668.65C257.38,668.65 258.9,626.56 261.31,626.56C263.46,626.56 264.82,660.05 266.97,660.05C269.29,660.05 270.76,635.16 273.08,635.16C275.49,635.16 277.01,664.12 279.41,664.12C281.74,664.12 283.2,624.97 285.52,624.97C287.67,624.97 289.03,669.1 291.18,669.1C293.42,669.1 294.83,623.84 297.07,623.84C299.22,623.84 300.57,660.5 302.72,660.5C305.9,660.5 307.91,638.55 311.1,638.55C313.42,638.55 314.88,653.26 317.21,653.26C319.18,653.26 320.43,639.68 322.41,639.68C324.39,639.68 325.64,667.97 327.62,667.97C329.77,667.97 331.12,613.66 333.27,613.66C335.59,613.66 337.06,678.15 339.38,678.15C341.7,678.15 343.17,615.47 345.49,615.47C347.64,615.47 349,675.44 351.15,675.44C353.56,675.44 355.08,623.84 357.49,623.84C359.83,623.84 361.31,667.97 363.66,667.97C366.07,667.97 367.59,622.03 369.99,622.03C372.32,622.03 373.78,671.36 376.1,671.36C378.51,671.36 380.03,626.56 382.44,626.56C384.33,626.56 385.53,654.39 387.42,654.39C389.14,654.39 390.22,645.34 391.94,645.34C392.8,645.34 393.35,648.73 394.21,648.73C395.5,648.73 396.31,646.92 397.6,646.92C400.44,646.92 402.23,642.4 405.07,642.4C407.65,642.4 409.28,664.57 411.86,664.57C414.18,664.57 415.65,617.5 417.97,617.5C420.12,617.5 421.48,674.76 423.63,674.76C426.03,674.76 427.55,623.39 429.96,623.39C432.28,623.39 433.75,669.55 436.07,669.55C438.48,669.55 440,624.52 442.41,624.52C444.73,624.52 446.2,667.97 448.52,667.97C450.93,667.97 452.45,628.82 454.85,628.82C457.18,628.82 458.64,662.99 460.96,662.99C463.29,662.99 464.75,629.95 467.07,629.95C469.31,629.95 470.72,658.92 472.96,658.92C475.28,658.92 476.75,640.13 479.07,640.13C481.65,640.13 483.28,654.39 485.86,654.39C488.01,654.39 489.36,632.89 491.51,632.89C493.66,632.89 495.02,667.97 497.17,667.97C499.32,667.97 500.68,618.86 502.83,618.86C504.98,618.86 506.34,672.49 508.49,672.49C510.21,672.49 511.29,653.26 513.01,653.26" fill="none" stroke="#e8362c" stroke-width="1.6" stroke-linejoin="round"/>
<path d="M209.72,640.81C210.83,640.81 211.54,630.63 212.66,630.63C214.64,630.63 215.88,658.92 217.86,658.92C220.01,658.92 221.37,636.29 223.52,636.29C225.84,636.29 227.31,651.68 229.63,651.68C231.35,651.68 232.44,647.6 234.16,647.6C235.7,647.6 236.68,644.21 238.23,644.21C239.95,644.21 241.03,656.65 242.75,656.65C245.08,656.65 246.54,627.91 248.86,627.91C251.19,627.91 252.65,668.65 254.97,668.65C257.38,668.65 258.9,626.56 261.31,626.56C263.46,626.56 264.82,660.05 266.97,660.05C269.29,660.05 270.76,635.16 273.08,635.16C275.49,635.16 277.01,664.12 279.41,664.12C281.74,664.12 283.2,624.97 285.52,624.97C287.67,624.97 289.03,669.1 291.18,669.1C293.42,669.1 294.83,623.84 297.07,623.84C299.22,623.84 300.57,660.5 302.72,660.5C305.9,660.5 307.91,638.55 311.1,638.55C313.42,638.55 314.88,653.26 317.21,653.26C319.18,653.26 320.43,639.68 322.41,639.68C324.39,639.68 325.64,667.97 327.62,667.97C329.77,667.97 331.12,613.66 333.27,613.66C335.59,613.66 337.06,678.15 339.38,678.15C341.7,678.15 343.17,615.47 345.49,615.47C347.64,615.47 349,675.44 351.15,675.44C353.56,675.44 355.08,623.84 357.49,623.84C359.83,623.84 361.31,667.97 363.66,667.97C366.07,667.97 367.59,622.03 369.99,622.03C372.32,622.03 373.78,671.36 376.1,671.36C378.51,671.36 380.03,626.56 382.44,626.56C384.33,626.56 385.53,654.39 387.42,654.39C389.14,654.39 390.22,645.34 391.94,645.34C392.8,645.34 393.35,648.73 394.21,648.73C395.5,648.73 396.31,646.92 397.6,646.92C400.44,646.92 402.23,642.4 405.07,642.4C407.65,642.4 409.28,664.57 411.86,664.57C414.18,664.57 415.65,617.5 417.97,617.5C420.12,617.5 421.48,674.76 423.63,674.76C426.03,674.76 427.55,623.39 429.96,623.39C432.28,623.39 433.75,669.55 436.07,669.55C438.48,669.55 440,624.52 442.41,624.52C444.73,624.52 446.2,667.97 448.52,667.97C450.93,667.97 452.45,628.82 454.85,628.82C457.18,628.82 458.64,662.99 460.96,662.99C463.29,662.99 464.75,629.95 467.07,629.95C469.31,629.95 470.72,658.92 472.96,658.92C475.28,658.92 476.75,640.13 479.07,640.13C481.65,640.13 483.28,654.39 485.86,654.39C488.01,654.39 489.36,632.89 491.51,632.89C493.66,632.89 495.02,667.97 497.17,667.97C499.32,667.97 500.68,618.86 502.83,618.86C504.98,618.86 506.34,672.49 508.49,672.49C510.21,672.49 511.29,653.26 513.01,653.26" fill="none" stroke="#3a50b8" stroke-width="2.1" stroke-dasharray="4.2 0.7 0.6 0.7" stroke-linejoin="round"/>
</g>
<g clip-path="url(#cU3)">
<path d="M209.72,731.31C210.83,731.31 211.54,721.13 212.66,721.13C214.64,721.13 215.88,749.42 217.86,749.42C220.01,749.42 221.37,726.79 223.52,726.79C225.84,726.79 227.31,742.18 229.63,742.18C231.35,742.18 232.44,738.1 234.16,738.1C235.7,738.1 236.68,734.71 238.23,734.71C239.95,734.71 241.03,747.15 242.75,747.15C245.08,747.15 246.54,718.41 248.86,718.41C251.19,718.41 252.65,759.15 254.97,759.15C257.38,759.15 258.9,717.06 261.31,717.06C263.46,717.06 264.82,750.55 266.97,750.55C269.29,750.55 270.76,725.66 273.08,725.66C275.49,725.66 277.01,754.62 279.41,754.62C281.74,754.62 283.2,715.47 285.52,715.47C287.67,715.47 289.03,759.6 291.18,759.6C293.42,759.6 294.83,714.34 297.07,714.34C299.22,714.34 300.57,751 302.72,751C305.9,751 307.91,729.05 311.1,729.05C313.42,729.05 314.88,743.76 317.21,743.76C319.18,743.76 320.43,730.18 322.41,730.18C324.39,730.18 325.64,758.47 327.62,758.47C329.77,758.47 331.12,704.16 333.27,704.16C335.59,704.16 337.06,768.65 339.38,768.65C341.7,768.65 343.17,705.97 345.49,705.97C347.64,705.97 349,765.94 351.15,765.94C353.56,765.94 355.08,714.34 357.49,714.34C359.83,714.34 361.31,758.47 363.66,758.47C366.07,758.47 367.59,712.53 369.99,712.53C372.32,712.53 373.78,761.86 376.1,761.86C378.51,761.86 380.03,717.06 382.44,717.06C384.33,717.06 385.53,744.89 387.42,744.89C389.14,744.89 390.22,735.84 391.94,735.84C392.8,735.84 393.35,739.23 394.21,739.23C395.5,739.23 396.31,737.42 397.6,737.42C400.44,737.42 402.23,732.9 405.07,732.9C407.65,732.9 409.28,755.07 411.86,755.07C414.18,755.07 415.65,708 417.97,708C420.12,708 421.48,765.26 423.63,765.26C426.03,765.26 427.55,713.89 429.96,713.89C432.28,713.89 433.75,760.05 436.07,760.05C438.48,760.05 440,715.02 442.41,715.02C444.73,715.02 446.2,758.47 448.52,758.47C450.93,758.47 452.45,719.32 454.85,719.32C457.18,719.32 458.64,753.49 460.96,753.49C463.29,753.49 464.75,720.45 467.07,720.45C469.31,720.45 470.72,749.42 472.96,749.42C475.28,749.42 476.75,730.63 479.07,730.63C481.65,730.63 483.28,744.89 485.86,744.89C488.01,744.89 489.36,723.39 491.51,723.39C493.66,723.39 495.02,758.47 497.17,758.47C499.32,758.47 500.68,709.36 502.83,709.36C504.98,709.36 506.34,762.99 508.49,762.99C510.21,762.99 511.29,743.76 513.01,743.76" fill="none" stroke="#e8362c" stroke-width="1.6" stroke-linejoin="round"/>
<path d="M209.72,731.31C210.83,731.31 211.54,721.13 212.66,721.13C214.64,721.13 215.88,749.42 217.86,749.42C220.01,749.42 221.37,726.79 223.52,726.79C225.84,726.79 227.31,742.18 229.63,742.18C231.35,742.18 232.44,738.1 234.16,738.1C235.7,738.1 236.68,734.71 238.23,734.71C239.95,734.71 241.03,747.15 242.75,747.15C245.08,747.15 246.54,718.41 248.86,718.41C251.19,718.41 252.65,759.15 254.97,759.15C257.38,759.15 258.9,717.06 261.31,717.06C263.46,717.06 264.82,750.55 266.97,750.55C269.29,750.55 270.76,725.66 273.08,725.66C275.49,725.66 277.01,754.62 279.41,754.62C281.74,754.62 283.2,715.47 285.52,715.47C287.67,715.47 289.03,759.6 291.18,759.6C293.42,759.6 294.83,714.34 297.07,714.34C299.22,714.34 300.57,751 302.72,751C305.9,751 307.91,729.05 311.1,729.05C313.42,729.05 314.88,743.76 317.21,743.76C319.18,743.76 320.43,730.18 322.41,730.18C324.39,730.18 325.64,758.47 327.62,758.47C329.77,758.47 331.12,704.16 333.27,704.16C335.59,704.16 337.06,768.65 339.38,768.65C341.7,768.65 343.17,705.97 345.49,705.97C347.64,705.97 349,765.94 351.15,765.94C353.56,765.94 355.08,714.34 357.49,714.34C359.83,714.34 361.31,758.47 363.66,758.47C366.07,758.47 367.59,712.53 369.99,712.53C372.32,712.53 373.78,761.86 376.1,761.86C378.51,761.86 380.03,717.06 382.44,717.06C384.33,717.06 385.53,744.89 387.42,744.89C389.14,744.89 390.22,735.84 391.94,735.84C392.8,735.84 393.35,739.23 394.21,739.23C395.5,739.23 396.31,737.42 397.6,737.42C400.44,737.42 402.23,732.9 405.07,732.9C407.65,732.9 409.28,755.07 411.86,755.07C414.18,755.07 415.65,708 417.97,708C420.12,708 421.48,765.26 423.63,765.26C426.03,765.26 427.55,713.89 429.96,713.89C432.28,713.89 433.75,760.05 436.07,760.05C438.48,760.05 440,715.02 442.41,715.02C444.73,715.02 446.2,758.47 448.52,758.47C450.93,758.47 452.45,719.32 454.85,719.32C457.18,719.32 458.64,753.49 460.96,753.49C463.29,753.49 464.75,720.45 467.07,720.45C469.31,720.45 470.72,749.42 472.96,749.42C475.28,749.42 476.75,730.63 479.07,730.63C481.65,730.63 483.28,744.89 485.86,744.89C488.01,744.89 489.36,723.39 491.51,723.39C493.66,723.39 495.02,758.47 497.17,758.47C499.32,758.47 500.68,709.36 502.83,709.36C504.98,709.36 506.34,762.99 508.49,762.99C510.21,762.99 511.29,743.76 513.01,743.76" fill="none" stroke="#3a50b8" stroke-width="2.1" stroke-dasharray="4.2 0.7 0.6 0.7" stroke-linejoin="round"/>
</g>
<g clip-path="url(#cL3)">
<path d="M26.80,299.20 27.15,314.73 27.50,297.04 27.85,315.73 28.20,299.94 28.55,313.63 28.90,298.29 29.25,315.84 29.60,295.87 29.95,318.06 30.30,299.35 30.65,315.03 31.00,302.64 31.35,308.53 31.70,304.78 32.05,310.72 32.40,303.92 32.75,311.18 33.10,302.88 33.45,311.05 33.80,304.29 34.15,310.05 34.50,304.85 34.85,308.55 35.20,305.67 35.55,308.81 35.90,304.92 36.25,309.25 36.60,304.05 36.95,309.89 37.30,305.16 37.65,309.19 38.00,306.14 38.35,309.47 38.70,302.57 39.05,311.93 39.40,300.62 39.75,314.10 40.10,298.21 40.45,315.73 40.80,301.08 41.15,313.40 41.50,303.16 41.85,310.30 42.20,301.71 42.55,311.05 42.90,300.54 43.25,310.30 43.60,299.55 43.95,312.09 44.30,292.75 44.65,316.27 45.00,284.87 45.35,320.31 45.70,278.35 46.05,325.07 46.40,286.96 46.75,324.00 47.10,279.03 47.45,330.59 47.80,269.01 48.15,337.92 48.50,278.79 48.85,328.97 49.20,285.36 49.55,327.41 49.90,290.93 50.25,321.78 50.60,301.45 50.95,311.49 51.30,301.98 51.65,312.22 52.00,300.54 52.35,313.39 52.70,298.14 53.05,316.44 53.40,294.78 53.75,319.68 54.10,290.03 54.45,323.90 54.80,295.37 55.15,320.11 55.50,290.19 55.85,326.55 56.20,285.36 56.55,332.08 56.90,292.44 57.25,324.84 57.60,299.97 57.95,315.03 58.30,295.21 58.65,317.74 59.00,292.37 59.35,320.40 59.70,297.18 60.05,317.06 60.40,299.23 60.75,313.58 61.10,297.04 61.45,315.73 61.80,295.74 62.15,316.98 62.50,290.21 62.85,320.87 63.20,284.19 63.55,325.07 63.90,290.23 64.25,320.11 64.60,296.22 64.95,317.31 65.30,292.37 65.65,320.40 66.00,297.31 66.35,317.19 66.70,297.04 67.05,315.73 67.40,300.04 67.75,313.35 68.10,303.26 68.45,310.23 68.80,304.11 69.15,309.83 69.50,302.88 69.85,309.89 70.20,302.64 70.55,312.86 70.90,300.42 71.25,315.63 71.60,298.21 71.95,318.06 72.30,300.58 72.65,315.08 73.00,299.65 73.35,314.50 73.70,297.04 74.05,316.89 74.40,299.92 74.75,314.06 75.10,303.76 75.45,310.11 75.80,302.25 76.15,311.05 76.50,300.54 76.85,312.22 77.20,302.52 77.55,313.55 77.90,302.64 78.25,310.49 78.60,297.29 78.95,317.66 79.30,292.77 79.65,321.11 80.00,288.16 80.35,326.24 80.70,294.00 81.05,321.14 81.40,297.39 81.75,315.40 82.10,294.70 82.45,318.06 82.80,298.42 83.15,314.92 83.50,302.37 83.85,310.96 84.20,300.54 84.55,312.22 84.90,302.55 85.25,310.96 85.60,306.22 85.95,309.36 86.30,302.40 86.65,311.62 87.00,300.67 87.35,313.58 87.70,298.21 88.05,315.73 88.40,300.86 88.75,313.62 89.10,305.18 89.45,308.47 89.80,303.10 90.15,309.44 90.50,303.35 90.85,310.98 91.20,301.71 91.55,311.05 91.90,302.95 92.25,310.13 92.60,304.55 92.95,308.82 93.30,305.26 93.65,308.77 94.00,303.83 94.35,309.31 94.70,302.88 95.05,309.89 95.40,304.20 95.75,311.45 96.10,304.82 96.45,312.01 96.80,298.28 97.15,319.82 97.50,293.90 97.85,325.71 98.20,288.86 98.55,332.08 98.90,292.30 99.25,325.37 99.60,300.60 99.95,318.02 100.30,296.66 100.65,323.91 101.00,293.53 101.35,328.57 101.70,297.77 102.05,322.18 102.40,296.46 102.75,322.37 103.10,292.37 103.45,326.24 103.80,296.25 104.15,321.07 104.50,294.22 104.85,323.57 105.20,289.56 105.55,328.57 105.90,294.84 106.25,323.25 106.60,302.14 106.95,313.17 107.30,299.30 107.65,315.84 108.00,297.04 108.35,318.06 108.70,299.99 109.05,315.34 109.40,303.07 109.75,310.23 110.10,301.71 110.45,311.05 110.80,302.88 111.15,310.79 111.50,305.02 111.85,310.36 112.20,301.68 112.55,312.31 112.90,298.56 113.25,314.70 113.60,295.87 113.95,316.89 114.30,299.56 114.65,314.23 115.00,299.63 115.35,316.48 115.70,297.04 116.05,319.23 116.40,300.19 116.75,315.69 117.10,303.45 117.45,309.41 117.80,303.17 118.15,311.11 118.50,301.71 118.85,311.05 119.20,300.94 119.55,311.05 119.90,298.37 120.25,318.15 120.60,293.40 120.95,323.01 121.30,289.56 121.65,327.41 122.00,294.50 122.35,321.01 122.70,298.15 123.05,318.68 123.40,294.70 123.75,321.57 124.10,298.76 124.45,317.95 124.80,301.12 125.15,312.80 125.50,299.37 125.85,314.56 126.20,301.50 126.55,312.38 126.90,304.71 127.25,309.13 127.60,301.10 127.95,314.91 128.30,298.74 128.65,316.08 129.00,295.87 129.35,319.23 129.70,297.39 130.05,315.69 130.40,297.04 130.75,317.21 131.10,292.31 131.45,321.03 131.80,287.69 132.15,326.24 132.50,292.74 132.85,321.47 133.20,298.30 133.55,312.04 133.90,301.93 134.25,313.10 134.60,300.54 134.95,314.56 135.30,302.59 135.65,312.70 136.00,304.89 136.35,312.80 136.70,301.49 137.05,313.38 137.40,298.28 137.75,316.35 138.10,295.87 138.45,319.23 138.80,299.15 139.15,315.50 139.50,303.85 139.85,309.83 140.20,298.77 140.55,315.51 140.90,293.96 141.25,318.50 141.60,290.03 141.95,322.73 142.30,295.69 142.65,317.94 143.00,302.32 143.35,311.03 143.70,300.54 144.05,312.22 144.40,301.55 144.75,311.03 145.10,303.27 145.45,311.03 145.80,301.14 146.15,311.88 146.50,299.37 146.85,313.39 147.20,298.69 147.55,315.38 147.90,295.58 148.25,319.44 148.60,291.20 148.95,322.73 149.30,295.40 149.65,318.17 150.00,300.91 150.35,313.85 150.70,299.37 151.05,314.56 151.40,301.57 151.75,312.33 152.10,304.48 152.45,309.41 152.80,303.22 153.15,310.31 153.50,301.71 153.85,311.05 154.20,301.38 154.55,313.06 154.90,299.10 155.25,315.70 155.60,295.87 155.95,318.06 156.30,298.90 156.65,314.80 157.00,302.33 157.35,311.19 157.70,300.54 158.05,312.22 158.40,302.32 158.75,310.73 159.10,305.31 159.45,308.39 159.80,305.18 160.15,308.85 160.50,303.89 160.85,309.28 161.20,302.88 161.55,309.89 161.90,304.16 162.25,309.16 162.60,304.22 162.95,310.29 163.30,300.26 163.65,314.48 164.00,296.73 164.35,317.62 164.70,293.53 165.05,320.40 165.40,297.62 165.75,316.69 166.10,302.65 166.45,311.61 166.80,300.23 167.15,313.83 167.50,298.21 167.85,314.56 168.20,300.95 168.55,312.82 168.90,299.29 169.25,315.26 169.60,297.04 169.95,318.06 170.30,298.40 170.65,314.75 171.00,296.83 171.35,318.16 171.70,292.12 172.05,323.99 172.40,286.53 172.75,328.57 173.10,292.32 173.45,323.01 173.80,291.72 174.15,321.33 174.50,287.69 174.85,325.07 175.20,292.75 175.55,319.42 175.90,300.66 176.25,312.19 176.60,299.37 176.95,313.39 177.30,301.72 177.65,311.68 178.00,306.00 178.35,310.21 178.70,304.99 179.05,310.99 179.40,303.49 179.75,311.07 180.10,302.46 180.45,311.98 180.80,301.96 181.15,310.67 181.50,302.37 181.85,312.54 182.20,299.31 182.55,314.19 182.90,295.00 183.25,317.74 183.60,291.75 183.95,320.31 184.30,296.69 184.65,316.73 185.00,299.84 185.35,315.81 185.70,297.70 186.05,317.93 186.40,298.51 186.75,315.11 187.10,301.60 187.45,312.32 187.80,297.93 188.15,316.62 188.50,293.69 188.85,320.52 189.20,289.37 189.55,325.07 189.90,294.23 190.25,319.55 190.60,300.03 190.95,313.73 191.30,297.70 191.65,315.55 192.00,300.56 192.35,313.55 192.70,301.61 193.05,311.75 193.40,300.08 193.75,313.17 194.10,302.11 194.45,313.56 194.80,299.91 195.15,316.18 195.50,297.70 195.85,319.12 196.20,286.37 196.55,323.41 196.90,278.66 197.25,328.63 197.60,287.22 197.95,322.12 198.30,289.03 198.65,328.25 199.00,282.23 199.35,334.58 199.70,288.87 200.05,327.39 200.40,300.20 200.75,315.15 201.10,297.70 201.45,317.93 201.80,300.73 202.15,314.84 202.50,304.19 202.85,310.52 203.20,302.96 203.55,311.67 203.90,301.27 204.25,313.17 204.60,302.40 204.95,312.32 205.30,300.31 205.65,314.49 206.00,297.70 206.35,316.74 206.70,300.27 207.05,314.16 207.40,302.67 207.75,312.62 208.10,300.31 208.45,313.72 208.80,297.70 209.15,315.55 209.50,300.86 209.85,313.43 210.20,303.48 210.55,311.21 210.90,305.53 211.25,309.19 211.60,304.63 211.95,310.07 212.30,303.65 212.65,310.79 213.00,304.76 213.35,309.85 213.70,303.80 214.05,310.88 214.40,302.46 214.75,311.98 215.10,302.41 215.45,312.17 215.80,299.81 216.15,314.34 216.50,297.70 216.85,316.74 217.20,300.39 217.55,314.00 217.90,303.05 218.25,311.30 218.60,302.54 218.95,311.46 219.30,302.62 219.65,311.70 220.00,301.27 220.35,313.17 220.70,303.11 221.05,311.48 221.40,302.57 221.75,313.66 222.10,303.16 222.45,310.18 222.80,299.03 223.15,316.55 223.50,295.41 223.85,321.23 224.20,291.75 224.55,325.07 224.90,296.60 225.25,319.47 225.60,299.83 225.95,315.82 226.30,297.70 226.65,317.93 227.00,300.45 227.35,314.65 227.70,302.92 228.05,311.70 228.40,301.27 228.75,313.17 229.10,302.04 229.45,311.41 229.80,301.04 230.15,313.46 230.50,297.95 230.85,316.24 231.20,295.32 231.55,319.12 231.90,298.46 232.25,315.49 232.60,300.47 232.95,315.13 233.30,297.70 233.65,317.93 234.00,300.77 234.35,315.16 234.70,305.34 235.05,312.72 235.40,302.20 235.75,311.75 236.10,300.90 236.45,314.17 236.80,298.89 237.15,315.55 237.50,301.30 237.85,314.24 238.20,300.73 238.55,315.15 238.90,296.98 239.25,319.63 239.60,294.13 239.95,322.69 240.30,297.73 240.65,318.26 241.00,297.02 241.35,316.45 241.70,292.32 242.05,320.36 242.40,288.18 242.75,325.07 243.10,293.68 243.45,319.98 243.80,292.94 244.15,321.50 244.50,296.69 244.85,317.93 245.20,302.89 245.55,316.50 245.90,296.09 246.25,318.83 246.60,291.83 246.95,324.35 247.30,285.80 247.65,329.82 248.00,292.16 248.35,324.20 248.70,293.73 249.05,322.72 249.40,289.37 249.75,327.45 250.10,295.02 250.45,321.53 250.80,298.17 251.15,313.66 251.50,299.85 251.85,314.75 252.20,297.70 252.55,315.55 252.90,300.24 253.25,313.24 253.60,304.29 253.95,310.00 254.30,302.97 254.65,311.07 255.00,301.27 255.35,311.98 255.70,301.60 256.05,314.97 256.40,298.87 256.75,318.05 257.10,296.51 257.45,321.50 257.80,299.29 258.15,317.81 258.50,303.13 258.85,311.89 259.20,302.46 259.55,310.79 259.90,303.95 260.25,309.97 260.60,305.61 260.95,309.11 261.30,304.60 261.65,309.11 262.00,303.65 262.35,309.60 262.70,304.76 263.05,309.25 263.40,303.55 263.75,309.96 264.10,302.46 264.45,310.79 264.80,303.33 265.15,310.64 265.50,306.59 265.85,308.46 266.20,303.01 266.55,311.54 266.90,300.63 267.25,313.82 267.60,298.89 267.95,315.55 268.30,301.34 268.65,313.03 269.00,303.61 269.35,311.43 269.70,301.64 270.05,311.76 270.40,300.08 270.75,313.17 271.10,302.31 271.45,311.89 271.80,300.09 272.15,313.72 272.50,297.70 272.85,315.55 273.20,300.29 273.55,313.23 273.90,304.15 274.25,309.80 274.60,303.04 274.95,310.81 275.30,301.27 275.65,311.98 276.00,303.17 276.35,310.66 276.70,302.16 277.05,312.55 277.40,300.38 277.75,314.41 278.10,297.70 278.45,316.74 278.80,299.68 279.15,315.29 279.50,296.33 279.85,318.51 280.20,292.94 280.55,322.69 280.90,294.94 281.25,321.21 281.60,287.37 281.95,328.22 282.30,282.23 282.65,334.58 283.00,289.38 283.35,327.07 283.70,297.84 284.05,317.02 284.40,295.32 284.75,320.31 285.10,299.23 285.45,316.45 285.80,302.35 286.15,309.98 286.50,302.93 286.85,310.85 287.20,301.27 287.55,311.98 287.90,303.10 288.25,311.37 288.60,301.54 288.95,313.20 289.30,298.75 289.65,315.71 290.00,296.51 290.35,317.93 290.70,300.05 291.05,314.81 291.40,299.73 291.75,315.52 292.10,296.02 292.45,318.10 292.80,291.75 293.15,321.50 293.50,294.81 293.85,317.76 294.20,299.07 294.55,313.90 294.90,301.07 295.25,315.72 295.60,298.02 295.95,316.71 296.30,295.32 296.65,319.12 297.00,299.27 297.35,315.88 297.70,297.44 298.05,319.64 298.40,294.13 298.75,322.69 299.10,293.43 299.45,324.96 299.80,288.18 300.15,331.01 300.50,294.20 300.85,323.50 301.20,301.53 301.55,314.11 301.90,299.71 302.25,317.25 302.60,297.70 302.95,317.93 303.30,300.36 303.65,315.63 304.00,297.87 304.35,318.77 304.70,294.13 305.05,322.69 305.40,297.47 305.75,319.32 306.10,298.23 306.45,317.09 306.80,299.50 307.15,317.96 307.50,295.15 307.85,322.83 308.20,291.75 308.55,327.45 308.90,296.27 309.25,321.31 309.60,300.10 309.95,312.96 310.30,301.96 310.65,311.78 311.00,300.08 311.35,313.17 311.70,301.50 312.05,314.49 312.40,298.46 312.75,318.64 313.10,295.32 313.45,321.50 313.80,298.92 314.15,317.47 314.50,295.67 314.85,317.56 315.20,290.85 315.55,321.97 315.90,284.61 316.25,326.26 316.60,290.93 316.95,321.52 317.30,300.20 317.65,312.50 318.00,297.70 318.35,314.36 318.70,300.60 319.05,312.52 319.40,302.62 319.75,311.86 320.10,301.27 320.45,313.17 320.80,303.06 321.15,311.93 321.50,301.60 321.85,312.46 322.20,299.10 322.55,314.80 322.90,296.51 323.25,316.74 323.60,299.74 323.95,314.09 324.30,302.77 324.65,311.19 325.00,301.27 325.35,311.98 325.70,302.94 326.05,310.75 326.40,302.73 326.75,311.63 327.10,301.27 327.45,313.17 327.80,302.23 328.15,311.73 328.50,304.31 328.85,308.48 329.20,303.64 329.55,310.49 329.90,301.76 330.25,312.02 330.60,300.08 330.95,313.17 331.30,302.13 331.65,311.62 332.00,302.84 332.35,310.44 332.70,303.46 333.05,309.64 333.40,304.84 333.75,309.94 334.10,303.63 334.45,310.88 334.80,302.46 335.15,311.98 335.50,303.55 335.85,311.27 336.20,302.00 336.55,312.47 336.90,300.08 337.25,314.36 337.60,297.30 337.95,318.16 338.30,293.29 338.65,322.88 339.00,288.18 339.35,328.63 339.70,294.32 340.05,323.36 340.40,302.62" fill="none" stroke="#e8362c" stroke-width="1.0"/>
<path d="M26.80,299.29 27.15,313.68 27.50,297.67 27.85,312.78 28.20,300.58 28.55,312.81 28.90,299.15 29.25,315.61 29.60,303.74 29.95,317.26 30.30,299.95 30.65,310.65 31.00,305.73 31.35,308.48 31.70,305.32 32.05,310.30 32.40,304.15 32.75,309.37 33.10,303.00 33.45,310.60 33.80,304.56 34.15,309.83 34.50,305.37 34.85,308.38 35.20,305.86 35.55,308.74 35.90,304.94 36.25,309.05 36.60,306.66 36.95,309.67 37.30,304.27 37.65,308.90 38.00,306.68 38.35,309.42 38.70,306.70 39.05,311.37 39.40,306.37 39.75,309.80 40.10,299.03 40.45,314.52 40.80,302.17 41.15,310.11 41.50,303.73 41.85,309.79 42.20,303.92 42.55,310.53 42.90,301.06 43.25,311.58 43.60,300.88 43.95,311.35 44.30,302.89 44.65,315.57 45.00,285.81 45.35,318.15 45.70,289.14 46.05,323.48 46.40,290.07 46.75,321.63 47.10,283.18 47.45,315.54 47.80,291.15 48.15,337.12 48.50,280.97 48.85,326.43 49.20,288.61 49.55,326.89 49.90,292.22 50.25,310.29 50.60,301.60 50.95,311.42 51.30,302.26 51.65,311.73 52.00,301.37 52.35,312.29 52.70,305.25 53.05,316.20 53.40,296.89 53.75,318.80 54.10,303.51 54.45,321.49 54.80,297.33 55.15,318.44 55.50,291.72 55.85,326.20 56.20,286.75 56.55,315.64 56.90,292.52 57.25,322.15 57.60,300.04 57.95,314.83 58.30,295.76 58.65,317.07 59.00,294.95 59.35,318.01 59.70,297.97 60.05,315.61 60.40,300.59 60.75,312.89 61.10,298.97 61.45,315.24 61.80,304.87 62.15,311.53 62.50,293.09 62.85,313.67 63.20,284.69 63.55,324.71 63.90,292.15 64.25,319.08 64.60,297.30 64.95,316.24 65.30,302.81 65.65,318.26 66.00,304.88 66.35,315.43 66.70,297.85 67.05,315.50 67.40,302.08 67.75,309.65 68.10,303.40 68.45,310.21 68.80,305.60 69.15,309.42 69.50,305.40 69.85,309.50 70.20,305.71 70.55,312.42 70.90,300.97 71.25,314.96 71.60,299.27 71.95,309.80 72.30,300.79 72.65,309.78 73.00,300.70 73.35,313.50 73.70,298.09 74.05,315.62 74.40,301.33 74.75,313.95 75.10,304.89 75.45,309.90 75.80,302.66 76.15,310.60 76.50,301.37 76.85,311.83 77.20,303.11 77.55,313.34 77.90,303.37 78.25,310.07 78.60,299.20 78.95,316.81 79.30,293.04 79.65,319.95 80.00,291.86 80.35,324.64 80.70,296.19 81.05,318.67 81.40,297.77 81.75,314.91 82.10,296.44 82.45,314.42 82.80,299.90 83.15,314.67 83.50,302.82 83.85,310.42 84.20,301.89 84.55,311.56 84.90,303.11 85.25,310.95 85.60,306.46 85.95,309.36 86.30,303.22 86.65,311.32 87.00,301.27 87.35,312.95 87.70,299.71 88.05,315.64 88.40,301.15 88.75,312.64 89.10,301.96 89.45,309.61 89.80,303.34 90.15,309.24 90.50,303.81 90.85,310.36 91.20,302.74 91.55,310.68 91.90,304.84 92.25,309.66 92.60,303.87 92.95,308.67 93.30,305.36 93.65,308.78 94.00,304.78 94.35,309.24 94.70,303.76 95.05,309.50 95.40,304.28 95.75,308.81 96.10,304.86 96.45,311.59 96.80,303.06 97.15,319.53 97.50,295.29 97.85,312.30 98.20,290.29 98.55,326.99 98.90,299.33 99.25,322.30 99.60,305.08 99.95,314.65 100.30,298.18 100.65,318.10 101.00,294.26 101.35,326.85 101.70,298.26 102.05,314.85 102.40,297.64 102.75,321.04 103.10,292.91 103.45,324.63 103.80,296.88 104.15,320.00 104.50,295.56 104.85,322.12 105.20,302.19 105.55,320.79 105.90,296.15 106.25,322.50 106.60,302.21 106.95,312.48 107.30,299.85 107.65,315.48 108.00,298.49 108.35,311.26 108.70,300.49 109.05,309.84 109.40,303.11 109.75,310.12 110.10,302.60 110.45,309.92 110.80,303.15 111.15,310.44 111.50,305.47 111.85,309.91 112.20,302.00 112.55,312.08 112.90,303.54 113.25,314.19 113.60,295.96 113.95,315.47 114.30,299.43 114.65,313.96 115.00,303.01 115.35,309.83 115.70,297.48 116.05,317.69 116.40,303.62 116.75,310.12 117.10,303.86 117.45,309.10 117.80,303.55 118.15,309.40 118.50,302.38 118.85,310.43 119.20,301.56 119.55,310.86 119.90,300.87 120.25,313.94 120.60,299.02 120.95,318.69 121.30,290.39 121.65,316.27 122.00,298.33 122.35,319.76 122.70,298.77 123.05,313.08 123.40,295.35 123.75,319.85 124.10,300.11 124.45,310.18 124.80,302.85 125.15,312.40 125.50,300.87 125.85,314.30 126.20,303.98 126.55,311.84 126.90,304.89 127.25,309.09 127.60,301.63 127.95,311.61 128.30,299.57 128.65,315.01 129.00,297.58 129.35,317.96 129.70,305.48 130.05,311.55 130.40,299.02 130.75,315.95 131.10,294.00 131.45,319.98 131.80,296.74 132.15,325.99 132.50,294.06 132.85,321.20 133.20,299.25 133.55,311.55 133.90,302.57 134.25,312.43 134.60,305.62 134.95,313.37 135.30,303.47 135.65,312.60 136.00,305.06 136.35,312.36 136.70,302.21 137.05,312.00 137.40,298.97 137.75,315.12 138.10,297.41 138.45,318.05 138.80,300.34 139.15,314.46 139.50,304.16 139.85,312.59 140.20,299.19 140.55,314.61 140.90,295.04 141.25,317.70 141.60,293.20 141.95,320.04 142.30,296.11 142.65,317.60 143.00,302.79 143.35,310.44 143.70,300.56 144.05,311.72 144.40,301.67 144.75,310.46 145.10,303.66 145.45,310.77 145.80,304.50 146.15,309.49 146.50,299.88 146.85,312.40 147.20,299.38 147.55,314.90 147.90,296.87 148.25,318.35 148.60,292.24 148.95,310.76 149.30,305.05 149.65,316.75 150.00,301.99 150.35,313.32 150.70,304.00 151.05,313.96 151.40,302.58 151.75,311.64 152.10,304.92 152.45,309.07 152.80,303.83 153.15,310.02 153.50,302.64 153.85,310.41 154.20,301.60 154.55,312.89 154.90,300.16 155.25,315.66 155.60,297.62 155.95,316.77 156.30,300.04 156.65,309.81 157.00,302.36 157.35,310.57 157.70,300.70 158.05,311.33 158.40,302.56 158.75,310.72 159.10,305.41 159.45,308.30 159.80,304.60 160.15,308.82 160.50,304.37 160.85,309.24 161.20,303.40 161.55,309.49 161.90,304.47 162.25,309.21 162.60,304.49 162.95,309.99 163.30,301.08 163.65,313.97 164.00,298.53 164.35,311.82 164.70,294.54 165.05,311.71 165.40,299.04 165.75,315.12 166.10,303.46 166.45,311.44 166.80,300.38 167.15,312.22 167.50,298.64 167.85,314.21 168.20,301.21 168.55,312.78 168.90,303.33 169.25,313.20 169.60,298.08 169.95,316.51 170.30,299.47 170.65,313.49 171.00,297.06 171.35,314.51 171.70,294.97 172.05,310.93 172.40,289.35 172.75,327.01 173.10,292.78 173.45,316.11 173.80,294.02 174.15,321.27 174.50,288.87 174.85,325.00 175.20,294.70 175.55,317.15 175.90,300.85 176.25,311.44 176.60,304.98 176.95,312.50 177.30,303.60 177.65,311.56 178.00,306.21 178.35,309.81 178.70,306.09 179.05,310.79 179.40,304.11 179.75,310.74 180.10,303.01 180.45,308.74 180.80,304.17 181.15,310.40 181.50,301.77 181.85,312.10 182.20,304.64 182.55,312.48 182.90,296.79 183.25,316.34 183.60,304.52 183.95,320.22 184.30,305.12 184.65,315.50 185.00,300.63 185.35,310.37 185.70,298.43 186.05,317.25 186.40,298.83 186.75,310.89 187.10,301.80 187.45,311.42 187.80,305.59 188.15,317.47 188.50,299.39 188.85,310.71 189.20,291.98 189.55,324.60 189.90,295.45 190.25,317.65 190.60,300.92 190.95,312.79 191.30,305.36 191.65,314.35 192.00,300.74 192.35,313.07 192.70,301.76 193.05,310.79 193.40,304.33 193.75,312.38 194.10,305.37 194.45,313.50 194.80,301.36 195.15,314.84 195.50,298.60 195.85,310.47 196.20,290.25 196.55,323.04 196.90,293.92 197.25,324.74 197.60,289.30 197.95,320.54 198.30,289.73 198.65,328.08 199.00,282.90 199.35,316.57 199.70,290.65 200.05,326.66 200.40,300.44 200.75,315.05 201.10,297.73 201.45,316.68 201.80,301.91 202.15,314.27 202.50,304.79 202.85,310.28 203.20,303.32 203.55,311.37 203.90,301.35 204.25,312.64 204.60,302.73 204.95,311.94 205.30,300.55 205.65,309.65 206.00,298.26 206.35,315.83 206.70,300.34 207.05,313.26 207.40,305.94 207.75,312.29 208.10,302.38 208.45,310.66 208.80,298.14 209.15,315.24 209.50,301.31 209.85,312.93 210.20,303.54 210.55,308.35 210.90,305.80 211.25,309.07 211.60,305.19 211.95,309.70 212.30,304.15 212.65,310.60 213.00,305.87 213.35,309.84 213.70,305.99 214.05,308.24 214.40,302.84 214.75,311.18 215.10,303.30 215.45,312.13 215.80,300.06 216.15,313.96 216.50,298.64 216.85,315.56 217.20,301.67 217.55,313.68 217.90,304.25 218.25,310.95 218.60,303.03 218.95,312.00 219.30,303.31 219.65,311.46 220.00,301.82 220.35,312.47 220.70,303.21 221.05,310.90 221.40,303.07 221.75,313.50 222.10,300.98 222.45,309.80 222.80,300.52 223.15,310.96 223.50,297.35 223.85,317.30 224.20,292.43 224.55,310.43 224.90,297.16 225.25,313.36 225.60,300.38 225.95,315.70 226.30,299.45 226.65,316.80 227.00,301.24 227.35,314.27 227.70,303.58 228.05,308.75 228.40,301.32 228.75,311.15 229.10,302.50 229.45,310.78 229.80,301.25 230.15,309.64 230.50,299.38 230.85,316.08 231.20,295.88 231.55,318.76 231.90,303.54 232.25,315.03 232.60,305.81 232.95,313.91 233.30,298.77 233.65,316.77 234.00,300.88 234.35,313.82 234.70,305.44 235.05,312.28 235.40,303.06 235.75,308.84 236.10,301.27 236.45,313.58 236.80,298.95 237.15,314.41 237.50,302.39 237.85,313.27 238.20,301.64 238.55,313.73 238.90,297.74 239.25,319.08 239.60,294.40 239.95,321.04 240.30,298.20 240.65,318.00 241.00,297.66 241.35,314.83 241.70,293.97 242.05,319.48 242.40,289.20 242.75,325.00 243.10,297.20 243.45,319.00 243.80,294.79 244.15,318.93 244.50,297.11 244.85,317.14 245.20,303.64 245.55,316.01 245.90,296.17 246.25,318.12 246.60,293.69 246.95,322.44 247.30,300.79 247.65,329.71 248.00,292.49 248.35,322.59 248.70,294.80 249.05,320.94 249.40,290.35 249.75,326.41 250.10,298.72 250.45,319.57 250.80,299.97 251.15,313.75 251.50,301.19 251.85,314.00 252.20,299.53 252.55,314.06 252.90,305.83 253.25,312.20 253.60,304.42 253.95,310.83 254.30,303.00 254.65,310.94 255.00,303.65 255.35,311.85 255.70,303.05 256.05,314.27 256.40,299.44 256.75,317.73 257.10,296.94 257.45,310.17 257.80,300.73 258.15,313.67 258.50,305.45 258.85,311.82 259.20,302.68 259.55,310.24 259.90,304.50 260.25,309.87 260.60,305.66 260.95,308.93 261.30,305.13 261.65,309.01 262.00,304.13 262.35,309.29 262.70,305.23 263.05,308.68 263.40,305.11 263.75,309.57 264.10,303.03 264.45,310.24 264.80,305.57 265.15,310.17 265.50,303.95 265.85,309.17 266.20,303.03 266.55,310.89 266.90,301.85 267.25,312.95 267.60,303.17 267.95,312.18 268.30,301.75 268.65,312.15 269.00,303.75 269.35,311.23 269.70,302.62 270.05,312.10 270.40,300.67 270.75,308.62 271.10,302.53 271.45,311.27 271.80,301.43 272.15,313.35 272.50,298.07 272.85,314.74 273.20,301.22 273.55,313.00 273.90,304.43 274.25,309.77 274.60,303.68 274.95,310.24 275.30,301.47 275.65,309.94 276.00,303.79 276.35,310.29 276.70,303.03 277.05,312.32 277.40,300.61 277.75,313.90 278.10,304.61 278.45,316.44 278.80,299.80 279.15,314.41 279.50,296.53 279.85,317.77 280.20,302.19 280.55,319.89 280.90,295.48 281.25,320.27 281.60,290.75 281.95,325.51 282.30,285.62 282.65,332.34 283.00,291.97 283.35,326.28 283.70,299.44 284.05,316.41 284.40,295.74 284.75,318.27 285.10,300.78 285.45,316.38 285.80,302.84 286.15,309.71 286.50,303.72 286.85,310.30 287.20,305.27 287.55,311.50 287.90,303.52 288.25,308.52 288.60,302.52 288.95,312.92 289.30,299.41 289.65,314.42 290.00,298.30 290.35,312.12 290.70,300.52 291.05,313.95 291.40,299.88 291.75,314.50 292.10,297.18 292.45,313.73 292.80,296.34 293.15,320.55 293.50,296.70 293.85,317.71 294.20,300.60 294.55,313.50 294.90,300.45 295.25,314.56 295.60,300.62 295.95,316.16 296.30,296.99 296.65,310.70 297.00,300.54 297.35,311.88 297.70,302.42 298.05,313.11 298.40,303.62 298.75,319.99 299.10,294.32 299.45,323.37 299.80,291.10 300.15,326.59 300.50,299.73 300.85,323.36 301.20,302.63 301.55,313.34 301.90,300.99 302.25,313.12 302.60,298.00 302.95,316.31 303.30,300.63 303.65,310.97 304.00,297.94 304.35,314.63 304.70,294.87 305.05,320.41 305.40,298.39 305.75,312.04 306.10,303.25 306.45,315.28 306.80,300.46 307.15,317.21 307.50,295.73 307.85,321.98 308.20,293.89 308.55,325.15 308.90,297.12 309.25,319.40 309.60,300.86 309.95,312.33 310.30,305.89 310.65,311.59 311.00,301.38 311.35,310.16 311.70,303.08 312.05,314.19 312.40,298.65 312.75,317.29 313.10,296.55 313.45,314.46 313.80,299.12 314.15,315.72 314.50,295.90 314.85,316.98 315.20,295.90 315.55,316.75 315.90,300.23 316.25,324.02 316.60,293.45 316.95,311.63 317.30,300.48 317.65,311.91 318.00,298.54 318.35,310.83 318.70,300.94 319.05,311.42 319.40,303.57 319.75,311.71 320.10,305.10 320.45,312.23 320.80,303.43 321.15,311.76 321.50,305.73 321.85,312.08 322.20,303.95 322.55,313.65 322.90,301.73 323.25,312.26 323.60,305.41 323.95,314.02 324.30,302.82 324.65,311.01 325.00,302.04 325.35,310.02 325.70,304.56 326.05,310.48 326.40,303.15 326.75,311.28 327.10,303.21 327.45,312.48 327.80,302.69 328.15,311.46 328.50,304.91 328.85,308.48 329.20,304.06 329.55,310.19 329.90,302.71 330.25,309.93 330.60,301.23 330.95,312.39 331.30,303.09 331.65,309.93 332.00,303.27 332.35,309.93 332.70,304.54 333.05,309.36 333.40,306.78 333.75,309.64 334.10,306.36 334.45,310.70 334.80,302.54 335.15,309.79 335.50,303.91 335.85,311.21 336.20,302.61 336.55,312.01 336.90,303.08 337.25,313.89 337.60,301.04 337.95,314.87 338.30,298.93 338.65,312.21 339.00,290.06 339.35,326.63 339.70,298.48 340.05,321.42 340.40,302.81" fill="none" stroke="#7a46c4" stroke-width="1.0" stroke-dasharray="5 0.6 0.8 0.6"/>
</g>
<g clip-path="url(#cL4)">
<path d="M26.80,412.18 27.15,417.55 27.50,412.86 27.85,416.48 28.20,413.50 28.55,415.46 28.90,412.57 29.25,416.53 29.60,411.71 29.95,417.55 30.30,412.70 30.65,416.49 31.00,413.71 31.35,415.07 31.70,410.74 32.05,417.48 32.40,409.37 32.75,418.72 33.10,411.12 33.45,417.26 33.80,414.22 34.15,414.56 34.50,413.27 34.85,416.23 35.20,412.88 35.55,416.85 35.90,413.35 36.25,416.05 36.60,414.18 36.95,414.55 37.30,412.47 37.65,416.58 38.00,411.71 38.35,417.55 38.70,412.59 39.05,416.42 39.40,412.54 39.75,417.00 40.10,410.08 40.45,420.26 40.80,408.21 41.15,422.22 41.50,410.25 41.85,419.73 42.20,412.50 42.55,414.84 42.90,412.49 43.25,416.59 43.60,411.71 43.95,417.55 44.30,412.61 44.65,417.77 45.00,413.14 45.35,418.26 45.70,407.68 46.05,425.35 46.40,404.70 46.75,429.23 47.10,407.62 47.45,424.64 47.80,394.40 48.15,439.92 48.50,385.55 48.85,449.08 49.20,394.77 49.55,436.80 49.90,400.03 50.25,428.06 50.60,404.48 50.95,423.57 51.30,410.28 51.65,416.98 52.00,411.65 52.35,417.37 52.70,410.54 53.05,418.72 53.40,411.86 53.75,417.26 54.10,413.14 54.45,417.66 54.80,409.23 55.15,419.79 55.50,407.04 55.85,422.22 56.20,405.44 56.55,424.49 56.90,402.37 57.25,428.06 57.60,406.30 57.95,423.76 58.30,413.34 58.65,418.08 59.00,410.96 59.35,418.19 59.70,409.37 60.05,419.89 60.40,410.99 60.75,417.86 61.10,413.26 61.45,416.45 61.80,409.38 62.15,420.14 62.50,407.04 62.85,422.22 63.20,409.66 63.55,421.04 63.90,413.84 64.25,418.93 64.60,413.80 64.95,416.84 65.30,403.45 65.65,430.51 66.00,398.86 66.35,436.24 66.70,404.60 67.05,429.50 67.40,410.01 67.75,419.18 68.10,409.37 68.45,421.05 68.80,411.07 69.15,418.65 69.50,413.97 69.85,415.55 70.20,408.90 70.55,420.59 70.90,407.04 71.25,423.39 71.60,408.63 71.95,420.62 72.30,410.26 72.65,418.53 73.00,404.21 73.35,428.10 73.70,400.03 74.05,432.73 74.40,405.28 74.75,426.14 75.10,410.41 75.45,415.22 75.80,410.83 76.15,418.13 76.50,409.37 76.85,419.89 77.20,410.95 77.55,418.06 77.90,412.61 78.25,415.83 78.60,408.13 78.95,419.85 79.30,405.87 79.65,422.22 80.00,409.01 80.35,419.82 80.70,413.82 81.05,416.46 81.40,407.70 81.75,419.35 82.10,404.70 82.45,421.05 82.80,408.21 83.15,418.87 83.50,413.55 83.85,415.76 84.20,411.66 84.55,417.38 84.90,410.54 85.25,418.72 85.60,411.96 85.95,417.22 86.30,414.14 86.65,414.68 87.00,409.00 87.35,418.97 87.70,407.04 88.05,421.05 88.40,409.64 88.75,418.88 89.10,413.69 89.45,414.90 89.80,411.61 90.15,416.72 90.50,410.54 90.85,417.55 91.20,411.80 91.55,416.57 91.90,412.48 92.25,415.57 92.60,413.68 92.95,415.42 93.30,411.75 93.65,417.61 94.00,410.54 94.35,418.72 94.70,411.96 95.05,417.16 95.40,410.97 95.75,418.42 96.10,409.37 96.45,419.89 96.80,411.06 97.15,418.21 97.50,411.19 97.85,415.66 98.20,407.15 98.55,421.98 98.90,404.70 99.25,424.56 99.60,407.87 99.95,421.05 100.30,414.01 100.65,415.78 101.00,411.52 101.35,417.55 101.70,410.54 102.05,418.72 102.40,411.92 102.75,417.29 103.10,413.45 103.45,417.76 103.80,408.63 104.15,421.27 104.50,405.87 104.85,424.56 105.20,408.65 105.55,421.31 105.90,410.12 106.25,417.90 106.60,401.70 106.95,431.23 107.30,397.23 107.65,437.41 108.00,403.42 108.35,430.08 108.70,408.89 109.05,420.08 109.40,407.04 109.75,422.22 110.10,409.51 110.45,419.49 110.80,413.23 111.15,416.02 111.50,409.40 111.85,420.89 112.20,407.04 112.55,423.39 112.90,407.69 113.25,420.91 113.60,408.96 113.95,420.66 114.30,412.57 114.65,417.00 115.00,400.38 115.35,434.08 115.70,395.36 116.05,440.91 116.40,401.93 116.75,432.67 117.10,410.10 117.45,419.86 117.80,408.21 118.15,422.22 118.50,410.25 118.85,419.81 119.20,414.01 119.55,414.98 119.90,409.14 120.25,421.32 120.60,407.04 120.95,424.56 121.30,409.28 121.65,421.21 122.00,410.30 122.35,420.75 122.70,397.87 123.05,435.18 123.40,391.86 123.75,444.41 124.10,399.67 124.45,433.50 124.80,407.72 125.15,423.24 125.50,404.70 125.85,426.89 126.20,408.01 126.55,422.85 126.90,411.99 127.25,416.00 127.60,410.69 127.95,419.06 128.30,409.37 128.65,421.05 129.00,405.97 129.35,425.42 129.70,402.37 130.05,430.40 130.40,406.01 130.75,425.21 131.10,411.01 131.45,418.37 131.80,399.58 132.15,434.50 132.50,392.56 132.85,442.08 133.20,400.06 133.55,432.65 133.90,409.01 134.25,419.81 134.60,407.04 134.95,422.22 135.30,409.62 135.65,419.62 136.00,413.30 136.35,416.29 136.70,410.67 137.05,418.14 137.40,409.37 137.75,419.89 138.10,410.94 138.45,418.13 138.80,413.06 139.15,416.14 139.50,411.74 139.85,417.53 140.20,410.54 140.55,418.72 140.90,411.49 141.25,417.33 141.60,414.10 141.95,415.90 142.30,413.30 142.65,414.76 143.00,412.48 143.35,416.60 143.70,411.71 144.05,417.55 144.40,412.61 144.75,416.44 145.10,413.71 145.45,414.92 145.80,410.84 146.15,418.27 146.50,409.37 146.85,419.89 147.20,411.20 147.55,417.95 147.90,413.26 148.25,416.76 148.60,410.06 148.95,419.09 149.30,408.21 149.65,421.05 150.00,410.25 150.35,418.94 150.70,413.38 151.05,414.63 151.40,412.53 151.75,416.66 152.10,411.71 152.45,417.55 152.80,412.60 153.15,416.43 153.50,413.15 153.85,416.09 154.20,410.15 154.55,419.37 154.90,408.21 155.25,421.05 155.60,410.09 155.95,418.98 156.30,414.11 156.65,415.71 157.00,411.75 157.35,417.36 157.70,410.54 158.05,418.72 158.40,411.94 158.75,417.40 159.10,413.57 159.45,416.10 159.80,413.28 160.15,415.87 160.50,409.20 160.85,419.68 161.20,407.04 161.55,422.22 161.90,409.54 162.25,420.38 162.60,410.47 162.95,417.00 163.30,409.44 163.65,415.56 164.00,399.49 164.35,431.87 164.70,394.19 165.05,439.74 165.40,401.67 165.75,431.78 166.10,412.17 166.45,416.29 166.80,407.58 167.15,422.31 167.50,404.70 167.85,425.73 168.20,408.19 168.55,421.75 168.90,413.32 169.25,415.57 169.60,411.72 169.95,417.40 170.30,410.54 170.65,418.72 171.00,411.91 171.35,417.28 171.70,410.92 172.05,419.39 172.40,403.82 172.75,426.38 173.10,400.03 173.45,431.57 173.80,404.93 174.15,425.80 174.50,408.97 174.85,420.98 175.20,407.04 175.55,423.39 175.90,409.25 176.25,420.17 176.60,412.18 176.95,416.15 177.30,411.56 177.65,417.41 178.00,410.54 178.35,418.72 178.70,411.55 179.05,417.28 179.40,407.02 179.75,423.02 180.10,404.13 180.45,426.74 180.80,407.88 181.15,422.18 181.50,410.02 181.85,422.81 182.20,402.32 182.55,428.84 182.90,398.18 183.25,433.88 183.60,403.66 183.95,426.79 184.30,409.45 184.65,419.80 185.00,407.70 185.35,421.98 185.70,409.96 186.05,419.51 186.40,413.80 186.75,414.80 187.10,413.11 187.45,416.03 187.80,408.16 188.15,421.18 188.50,405.32 188.85,423.17 189.20,408.16 189.55,420.37 189.90,402.25 190.25,427.34 190.60,398.18 190.95,432.69 191.30,403.08 191.65,427.06 192.00,409.15 192.35,415.21 192.70,409.62 193.05,420.02 193.40,407.70 193.75,421.98 194.10,410.10 194.45,419.21 194.80,413.52 195.15,415.39 195.50,407.71 195.85,421.23 196.20,405.32 196.55,424.36 196.90,408.35 197.25,421.19 197.60,409.69 197.95,417.78 198.30,402.62 198.65,429.51 199.00,398.18 199.35,436.26 199.70,403.29 200.05,428.23 200.40,411.37 200.75,416.74 201.10,409.01 201.45,420.02 201.80,407.70 202.15,421.98 202.50,409.92 202.85,419.33 203.20,412.12 203.55,416.61 203.90,405.81 204.25,421.66 204.60,402.94 204.95,424.36 205.30,406.54 205.65,421.30 206.00,412.02 206.35,414.90 206.70,407.63 207.05,421.29 207.40,405.32 207.75,423.17 208.10,408.15 208.45,420.23 208.80,413.92 209.15,415.50 209.50,409.75 209.85,419.67 210.20,407.70 210.55,421.98 210.90,410.05 211.25,419.19 211.60,412.22 211.95,414.96 212.30,408.71 212.65,421.42 213.00,406.51 213.35,424.36 213.70,408.92 214.05,420.71 214.40,411.88 214.75,415.44 215.10,404.24 215.45,424.55 215.80,400.56 216.15,429.12 216.50,405.37 216.85,423.97 217.20,409.39 217.55,419.88 217.90,407.70 218.25,421.98 218.60,409.96 218.95,419.27 219.30,409.85 219.65,420.56 220.00,407.70 220.35,423.17 220.70,409.72 221.05,420.20 221.40,410.28 221.75,419.46 222.10,411.46 222.45,417.17 222.80,409.46 223.15,416.02 223.50,405.22 223.85,426.19 224.20,401.75 224.55,430.31 224.90,406.39 225.25,424.78 225.60,409.67 225.95,420.47 226.30,407.70 226.65,423.17 227.00,410.00 227.35,420.34 227.70,412.83 228.05,415.57 228.40,411.91 228.75,419.24 229.10,408.99 229.45,421.64 229.80,406.51 230.15,424.36 230.50,409.26 230.85,421.13 231.20,413.27 231.55,415.90 231.90,403.24 232.25,429.57 232.60,398.18 232.95,435.07 233.30,403.70 233.65,428.62 234.00,413.67 234.35,419.17 234.70,410.39 235.05,419.65 235.40,409.39 235.75,419.84 236.10,407.70 236.45,421.98 236.80,410.17 237.15,419.37 237.50,408.49 237.85,421.61 238.20,406.51 238.55,424.36 238.90,409.01 239.25,421.00 239.60,403.19 239.95,428.87 240.30,399.37 240.65,433.88 241.00,403.98 241.35,427.47 241.70,411.90 242.05,416.93 242.40,411.12 242.75,416.96 243.10,409.82 243.45,419.52 243.80,407.70 244.15,421.98 244.50,410.08 244.85,419.56 245.20,413.28 245.55,416.80 245.90,407.69 246.25,422.57 246.60,405.32 246.95,425.55 247.30,408.11 247.65,421.45 248.00,409.04 248.35,417.66 248.70,398.58 249.05,429.57 249.40,391.04 249.75,436.26 250.10,399.65 250.45,429.07 250.80,412.49 251.15,418.00 251.50,405.86 251.85,425.33 252.20,402.94 252.55,429.12 252.90,407.09 253.25,424.36 253.60,411.86 253.95,417.67 254.30,409.54 254.65,420.75 255.00,407.70 255.35,423.17 255.70,409.30 256.05,420.07 256.40,397.96 256.75,435.94 257.10,392.23 257.45,443.39 257.80,399.32 258.15,433.77 258.50,408.25 258.85,422.98 259.20,405.32 259.55,426.74 259.90,408.35 260.25,422.38 260.60,412.66 260.95,414.95 261.30,413.06 261.65,416.44 262.00,412.46 262.35,417.22 262.70,413.08 263.05,416.21 263.40,413.76 263.75,414.99 264.10,413.61 264.45,415.71 264.80,412.60 265.15,416.30 265.50,411.98 265.85,417.22 266.20,412.71 266.55,416.29 266.90,413.41 267.25,415.17 267.60,413.74 267.95,415.16 268.30,412.99 268.65,416.69 269.00,412.46 269.35,417.69 269.70,413.08 270.05,416.68 270.40,413.73 270.75,415.38 271.10,412.19 271.45,415.72 271.80,409.77 272.15,419.59 272.50,407.70 272.85,421.98 273.20,409.81 273.55,419.31 273.90,413.77 274.25,419.71 274.60,405.76 274.95,423.18 275.30,401.75 275.65,426.74 276.00,406.26 276.35,422.36 276.70,410.56 277.05,419.56 277.40,408.89 277.75,421.98 278.10,410.61 278.45,419.47 278.80,407.82 279.15,423.00 279.50,405.32 279.85,426.74 280.20,408.19 280.55,423.00 280.90,410.24 281.25,419.65 281.60,392.42 281.95,434.06 282.30,385.09 282.65,443.39 283.00,395.30 283.35,432.85 283.70,410.05 284.05,416.05 284.40,407.95 284.75,425.06 285.10,405.32 285.45,429.12 285.80,408.29 286.15,424.04 286.50,410.98 286.85,417.54 287.20,409.39 287.55,421.59 287.90,407.70 288.25,424.36 288.60,409.71 288.95,420.97 289.30,410.41 289.65,417.80 290.00,404.39 290.35,427.69 290.70,400.56 291.05,433.88 291.40,405.16 291.75,427.55 292.10,409.38 292.45,418.85 292.80,408.93 293.15,421.59 293.50,406.51 293.85,424.36 294.20,409.35 294.55,420.99 294.90,411.70 295.25,415.18 295.60,409.57 295.95,420.63 296.30,407.70 296.65,423.17 297.00,410.11 297.35,420.04 297.70,409.13 298.05,415.36 298.40,399.65 298.75,435.04 299.10,393.42 299.45,442.92 299.80,400.55 300.15,432.77 300.50,410.18 300.85,415.58 301.20,407.21 301.55,423.84 301.90,404.13 302.25,427.93 302.60,407.83 302.95,423.48 303.30,412.01 303.65,415.00 304.00,409.64 304.35,420.53 304.70,407.70 305.05,423.17 305.40,410.18 305.75,420.48 306.10,412.44 306.45,416.24 306.80,410.11 307.15,417.65 307.50,405.82 307.85,424.46 308.20,401.75 308.55,429.12 308.90,406.17 309.25,424.48 309.60,413.57 309.95,417.57 310.30,409.40 310.65,421.69 311.00,407.70 311.35,424.36 311.70,410.08 312.05,421.26 312.40,412.94 312.75,415.57 313.10,410.67 313.45,420.39 313.80,408.89 314.15,423.17 314.50,410.88 314.85,420.27 315.20,409.17 315.55,420.52 315.90,400.16 316.25,430.18 316.60,394.61 316.95,436.26 317.30,400.62 317.65,429.32 318.00,409.50 318.35,419.61 318.70,407.70 319.05,421.98 319.40,409.75 319.75,419.66 320.10,412.78 320.45,416.45 320.80,413.05 321.15,415.68 321.50,413.29 321.85,417.18 322.20,411.21 322.55,417.13 322.90,410.08 323.25,418.41 323.60,411.46 323.95,417.07 324.30,412.27 324.65,414.78 325.00,410.46 325.35,418.01 325.70,408.89 326.05,419.60 326.40,410.63 326.75,417.97 327.10,413.25 327.45,415.95 327.80,412.10 328.15,417.20 328.50,411.27 328.85,418.41 329.20,412.26 329.55,416.95 329.90,413.25 330.25,415.11 330.60,413.61 330.95,416.33 331.30,411.26 331.65,417.11 332.00,410.08 332.35,418.41 332.70,411.67 333.05,416.95 333.40,412.76 333.75,416.08 334.10,413.34 334.45,415.61 334.80,412.13 335.15,417.40 335.50,411.27 335.85,418.41 336.20,410.66 336.55,417.10 336.90,411.82 337.25,416.88 337.60,413.29 337.95,418.49 338.30,400.17 338.65,423.51 339.00,394.61 339.35,426.74" fill="none" stroke="#e8362c" stroke-width="1.0"/>
<path d="M26.80,412.26 27.15,416.99 27.50,413.07 27.85,416.42 28.20,413.64 28.55,415.42 28.90,412.57 29.25,416.37 29.60,412.04 29.95,417.08 30.30,412.88 30.65,416.35 31.00,413.74 31.35,415.00 31.70,410.98 32.05,417.40 32.40,409.95 32.75,418.60 33.10,412.70 33.45,416.93 33.80,413.97 34.15,414.56 34.50,413.33 34.85,416.17 35.20,412.97 35.55,416.73 35.90,413.41 36.25,415.87 36.60,414.19 36.95,415.20 37.30,414.09 37.65,416.54 38.00,411.84 38.35,417.24 38.70,412.91 39.05,416.24 39.40,412.86 39.75,416.50 40.10,410.69 40.45,420.18 40.80,408.83 41.15,421.45 41.50,410.30 41.85,415.44 42.20,412.63 42.55,414.83 42.90,413.52 43.25,416.24 43.60,411.91 43.95,416.13 44.30,413.87 44.65,417.62 45.00,413.24 45.35,417.80 45.70,408.21 46.05,423.38 46.40,405.49 46.75,428.36 47.10,408.12 47.45,423.82 47.80,398.02 48.15,437.37 48.50,387.24 48.85,445.15 49.20,396.57 49.55,433.60 49.90,401.86 50.25,427.20 50.60,404.91 50.95,421.81 51.30,410.48 51.65,416.94 52.00,411.96 52.35,417.29 52.70,410.73 53.05,418.10 53.40,413.92 53.75,416.83 54.10,413.36 54.45,417.25 54.80,409.89 55.15,418.39 55.50,407.14 55.85,421.10 56.20,406.23 56.55,423.05 56.90,403.50 57.25,426.87 57.60,407.26 57.95,423.73 58.30,413.53 58.65,417.91 59.00,411.57 59.35,417.79 59.70,410.09 60.05,419.68 60.40,412.56 60.75,417.61 61.10,413.44 61.45,416.06 61.80,410.10 62.15,417.73 62.50,407.54 62.85,421.31 63.20,409.97 63.55,420.10 63.90,413.92 64.25,418.80 64.60,413.83 64.95,416.73 65.30,403.98 65.65,430.13 66.00,401.79 66.35,419.02 66.70,412.70 67.05,429.41 67.40,410.29 67.75,418.63 68.10,412.37 68.45,417.19 68.80,411.46 69.15,418.49 69.50,414.02 69.85,415.52 70.20,409.68 70.55,420.41 70.90,407.93 71.25,422.09 71.60,409.50 71.95,420.17 72.30,413.74 72.65,418.49 73.00,404.61 73.35,425.97 73.70,402.59 74.05,431.05 74.40,405.73 74.75,424.39 75.10,410.81 75.45,415.16 75.80,411.28 76.15,417.74 76.50,412.60 76.85,419.02 77.20,411.22 77.55,417.55 77.90,413.60 78.25,415.74 78.60,409.30 78.95,419.52 79.30,406.67 79.65,422.15 80.00,409.61 80.35,419.60 80.70,413.84 81.05,416.30 81.40,408.26 81.75,416.79 82.10,404.89 82.45,420.88 82.80,409.38 83.15,418.30 83.50,413.62 83.85,415.72 84.20,411.89 84.55,417.19 84.90,410.94 85.25,417.90 85.60,412.35 85.95,417.04 86.30,414.18 86.65,414.68 87.00,409.94 87.35,418.26 87.70,407.87 88.05,420.81 88.40,410.36 88.75,416.19 89.10,413.73 89.45,414.87 89.80,412.00 90.15,416.60 90.50,410.89 90.85,416.96 91.20,412.13 91.55,416.50 91.90,412.70 92.25,415.37 92.60,413.82 92.95,415.34 93.30,411.78 93.65,417.58 94.00,413.79 94.35,418.45 94.70,412.41 95.05,416.88 95.40,411.13 95.75,417.71 96.10,409.68 96.45,419.52 96.80,411.23 97.15,418.08 97.50,411.44 97.85,415.59 98.20,407.91 98.55,421.13 98.90,404.88 99.25,422.89 99.60,408.87 99.95,419.83 100.30,414.05 100.65,415.56 101.00,411.65 101.35,415.68 101.70,411.87 102.05,418.00 102.40,413.68 102.75,416.80 103.10,413.78 103.45,416.81 103.80,409.16 104.15,420.00 104.50,407.12 104.85,424.51 105.20,409.00 105.55,420.68 105.90,410.37 106.25,417.25 106.60,403.57 106.95,429.52 107.30,398.06 107.65,419.24 108.00,404.55 108.35,429.43 108.70,409.27 109.05,419.15 109.40,407.36 109.75,421.37 110.10,410.17 110.45,418.80 110.80,413.27 111.15,415.73 111.50,411.64 111.85,419.79 112.20,410.29 112.55,423.23 112.90,408.18 113.25,420.47 113.60,412.93 113.95,415.31 114.30,412.58 114.65,423.47 115.00,402.65 115.35,420.96 115.70,406.63 116.05,436.65 116.40,402.95 116.75,429.99 117.10,410.36 117.45,419.00 117.80,408.86 118.15,420.53 118.50,410.35 118.85,418.84 119.20,414.04 119.55,414.94 119.90,409.39 120.25,420.18 120.60,407.96 120.95,422.91 121.30,410.01 121.65,419.93 122.00,410.78 122.35,419.68 122.70,398.50 123.05,434.95 123.40,394.07 123.75,440.24 124.10,405.41 124.45,432.86 124.80,408.77 125.15,423.11 125.50,406.08 125.85,426.52 126.20,408.48 126.55,421.27 126.90,414.05 127.25,415.84 127.60,411.63 127.95,418.81 128.30,409.61 128.65,420.58 129.00,406.36 129.35,423.92 129.70,404.34 130.05,430.12 130.40,406.21 130.75,424.63 131.10,411.63 131.45,418.06 131.80,400.85 132.15,432.08 132.50,393.80 132.85,438.57 133.20,401.88 133.55,429.33 133.90,409.42 134.25,419.23 134.60,407.82 134.95,421.54 135.30,410.24 135.65,419.38 136.00,413.34 136.35,415.98 136.70,410.99 137.05,417.61 137.40,409.86 137.75,419.27 138.10,411.42 138.45,418.01 138.80,413.24 139.15,415.99 139.50,413.23 139.85,417.33 140.20,411.20 140.55,418.36 140.90,411.56 141.25,416.83 141.60,414.13 141.95,415.79 142.30,413.39 142.65,414.73 143.00,412.57 143.35,416.35 143.70,412.13 144.05,417.28 144.40,412.80 144.75,416.20 145.10,413.60 145.45,414.84 145.80,411.39 146.15,417.85 146.50,409.76 146.85,419.04 147.20,411.21 147.55,415.94 147.90,413.29 148.25,416.72 148.60,410.58 148.95,418.24 149.30,411.73 149.65,420.14 150.00,413.96 150.35,418.39 150.70,413.44 151.05,414.62 151.40,412.62 151.75,416.55 152.10,411.90 152.45,417.21 152.80,412.67 153.15,416.38 153.50,413.37 153.85,416.04 154.20,410.63 154.55,418.60 154.90,408.88 155.25,420.60 155.60,410.29 155.95,418.45 156.30,414.14 156.65,415.66 157.00,412.08 157.35,417.14 157.70,411.28 158.05,418.62 158.40,411.98 158.75,416.23 159.10,413.63 159.45,416.01 159.80,413.43 160.15,415.71 160.50,409.27 160.85,419.23 161.20,411.85 161.55,421.76 161.90,409.93 162.25,420.21 162.60,410.51 162.95,418.72 163.30,410.14 163.65,415.53 164.00,401.46 164.35,429.53 164.70,397.29 165.05,439.35 165.40,402.07 165.75,430.82 166.10,412.37 166.45,416.18 166.80,408.82 167.15,421.35 167.50,404.75 167.85,425.34 168.20,408.47 168.55,420.63 168.90,413.33 169.25,415.44 169.60,411.80 169.95,416.90 170.30,410.81 170.65,417.91 171.00,412.25 171.35,416.91 171.70,411.19 172.05,414.95 172.40,404.84 172.75,419.44 173.10,409.46 173.45,429.00 173.80,405.46 174.15,424.95 174.50,411.29 174.85,420.26 175.20,407.37 175.55,423.02 175.90,409.76 176.25,419.25 176.60,412.44 176.95,416.08 177.30,413.40 177.65,414.80 178.00,410.93 178.35,418.01 178.70,412.07 179.05,416.73 179.40,407.10 179.75,421.83 180.10,406.06 180.45,425.59 180.80,408.53 181.15,421.32 181.50,410.84 181.85,422.52 182.20,405.69 182.55,428.79 182.90,400.35 183.25,430.68 183.60,404.03 183.95,426.21 184.30,409.60 184.65,419.10 185.00,407.82 185.35,416.24 185.70,410.60 186.05,418.70 186.40,413.82 186.75,414.80 187.10,413.28 187.45,417.53 187.80,409.05 188.15,416.46 188.50,405.89 188.85,422.64 189.20,408.32 189.55,420.28 189.90,403.02 190.25,427.26 190.60,398.39 190.95,430.26 191.30,404.46 191.65,425.41 192.00,410.07 192.35,415.20 192.70,410.40 193.05,419.85 193.40,408.38 193.75,421.29 194.10,410.17 194.45,419.16 194.80,413.61 195.15,415.25 195.50,407.84 195.85,421.03 196.20,405.95 196.55,422.90 196.90,408.59 197.25,420.65 197.60,410.58 197.95,417.69 198.30,408.95 198.65,427.31 199.00,410.27 199.35,434.76 199.70,404.16 200.05,426.95 200.40,411.82 200.75,416.38 201.10,409.49 201.45,419.52 201.80,408.26 202.15,418.84 202.50,410.50 202.85,418.72 203.20,412.31 203.55,416.27 203.90,406.07 204.25,421.52 204.60,403.30 204.95,424.07 205.30,407.22 205.65,420.96 206.00,412.33 206.35,414.89 206.70,407.83 207.05,420.55 207.40,406.52 207.75,422.80 208.10,408.88 208.45,419.68 208.80,411.71 209.15,415.39 209.50,409.97 209.85,418.67 210.20,408.84 210.55,420.83 210.90,410.30 211.25,418.92 211.60,412.28 211.95,414.86 212.30,409.79 212.65,420.84 213.00,407.67 213.35,423.12 213.70,409.92 214.05,420.50 214.40,411.98 214.75,415.35 215.10,405.84 215.45,424.14 215.80,400.83 216.15,428.16 216.50,406.72 216.85,423.62 217.20,410.00 217.55,419.59 217.90,413.44 218.25,421.62 218.60,410.67 218.95,415.07 219.30,410.65 219.65,419.58 220.00,408.70 220.35,422.76 220.70,410.41 221.05,419.35 221.40,410.71 221.75,418.79 222.10,411.53 222.45,417.07 222.80,409.48 223.15,416.72 223.50,407.53 223.85,424.75 224.20,403.70 224.55,429.94 224.90,407.64 225.25,423.29 225.60,410.15 225.95,419.87 226.30,408.82 226.65,421.86 227.00,410.36 227.35,419.61 227.70,413.03 228.05,415.54 228.40,412.13 228.75,418.62 229.10,409.21 229.45,421.37 229.80,406.63 230.15,423.06 230.50,410.15 230.85,421.05 231.20,409.54 231.55,415.68 231.90,405.18 232.25,428.85 232.60,399.02 232.95,434.04 233.30,404.59 233.65,426.49 234.00,411.60 234.35,419.01 234.70,413.74 235.05,419.19 235.40,409.75 235.75,418.88 236.10,408.84 236.45,421.42 236.80,410.63 237.15,419.01 237.50,411.33 237.85,421.16 238.20,412.52 238.55,423.06 238.90,409.09 239.25,420.44 239.60,404.47 239.95,419.92 240.30,401.68 240.65,430.20 241.00,404.92 241.35,426.20 241.70,411.64 242.05,416.71 242.40,411.44 242.75,416.74 243.10,410.12 243.45,419.47 243.80,408.44 244.15,420.87 244.50,410.36 244.85,416.93 245.20,413.36 245.55,415.88 245.90,408.26 246.25,422.04 246.60,412.98 246.95,424.15 247.30,408.67 247.65,416.45 248.00,409.31 248.35,417.06 248.70,401.35 249.05,427.38 249.40,393.98 249.75,432.46 250.10,400.28 250.45,427.42 250.80,412.79 251.15,420.73 251.50,406.75 251.85,424.03 252.20,404.65 252.55,428.31 252.90,407.12 253.25,422.44 253.60,411.93 253.95,417.32 254.30,409.66 254.65,419.25 255.00,410.07 255.35,422.54 255.70,412.80 256.05,419.94 256.40,400.35 256.75,434.79 257.10,393.89 257.45,442.66 257.80,402.12 258.15,432.34 258.50,408.45 258.85,416.72 259.20,406.11 259.55,426.49 259.90,412.63 260.25,415.85 260.60,412.69 260.95,414.90 261.30,413.07 261.65,416.21 262.00,413.88 262.35,416.74 262.70,413.29 263.05,414.69 263.40,413.82 263.75,414.96 264.10,413.68 264.45,415.70 264.80,412.87 265.15,416.19 265.50,412.31 265.85,417.17 266.20,413.01 266.55,416.02 266.90,413.52 267.25,415.09 267.60,414.09 267.95,415.07 268.30,413.73 268.65,416.65 269.00,412.60 269.35,417.31 269.70,413.18 270.05,416.62 270.40,413.74 270.75,416.52 271.10,412.40 271.45,415.55 271.80,410.35 272.15,416.41 272.50,407.72 272.85,418.29 273.20,409.82 273.55,419.04 273.90,413.78 274.25,419.20 274.60,406.48 274.95,421.98 275.30,402.85 275.65,425.47 276.00,406.48 276.35,414.96 276.70,410.90 277.05,416.61 277.40,413.37 277.75,420.54 278.10,410.99 278.45,419.25 278.80,408.45 279.15,422.22 279.50,406.31 279.85,424.09 280.20,408.71 280.55,422.15 280.90,410.99 281.25,418.72 281.60,394.79 281.95,418.68 282.30,389.22 282.65,439.45 283.00,411.86 283.35,420.69 283.70,410.15 284.05,415.82 284.40,408.53 284.75,423.89 285.10,410.84 285.45,416.21 285.80,409.03 286.15,422.47 286.50,411.01 286.85,417.12 287.20,412.76 287.55,420.53 287.90,408.45 288.25,422.59 288.60,410.14 288.95,420.18 289.30,410.80 289.65,415.35 290.00,405.99 290.35,426.87 290.70,401.85 291.05,432.41 291.40,406.11 291.75,426.37 292.10,410.20 292.45,418.38 292.80,409.48 293.15,420.70 293.50,407.55 293.85,422.45 294.20,409.55 294.55,420.58 294.90,411.87 295.25,415.16 295.60,409.92 295.95,417.68 296.30,408.06 296.65,422.43 297.00,410.74 297.35,419.05 297.70,410.19 298.05,420.35 298.40,400.12 298.75,431.23 299.10,394.81 299.45,437.56 299.80,401.36 300.15,429.79 300.50,410.97 300.85,415.43 301.20,408.08 301.55,423.70 301.90,412.67 302.25,426.14 302.60,408.04 302.95,422.83 303.30,412.13 303.65,414.96 304.00,409.73 304.35,418.99 304.70,408.70 305.05,421.66 305.40,410.23 305.75,415.65 306.10,412.76 306.45,416.22 306.80,410.52 307.15,417.43 307.50,406.92 307.85,424.26 308.20,401.97 308.55,427.55 308.90,407.57 309.25,423.90 309.60,413.64 309.95,417.36 310.30,409.78 310.65,420.37 311.00,408.66 311.35,424.06 311.70,411.86 312.05,420.50 312.40,412.98 312.75,418.56 313.10,411.08 313.45,420.15 313.80,409.39 314.15,422.44 314.50,411.40 314.85,419.44 315.20,410.87 315.55,419.62 315.90,400.93 316.25,428.90 316.60,395.94 316.95,434.26 317.30,401.94 317.65,428.78 318.00,410.08 318.35,419.07 318.70,409.62 319.05,420.63 319.40,412.52 319.75,419.27 320.10,413.03 320.45,416.25 320.80,413.21 321.15,415.67 321.50,413.35 321.85,417.02 322.20,411.34 322.55,416.97 322.90,410.87 323.25,418.16 323.60,411.60 323.95,417.02 324.30,412.60 324.65,414.71 325.00,410.48 325.35,417.68 325.70,410.68 326.05,418.88 326.40,410.86 326.75,417.77 327.10,413.12 327.45,415.84 327.80,412.35 328.15,415.58 328.50,411.53 328.85,418.10 329.20,412.27 329.55,416.77 329.90,413.30 330.25,415.01 330.60,413.67 330.95,416.26 331.30,411.71 331.65,416.70 332.00,410.12 332.35,418.07 332.70,411.36 333.05,416.86 333.40,413.05 333.75,415.91 334.10,413.50 334.45,415.49 334.80,412.19 335.15,416.93 335.50,411.80 335.85,414.82 336.20,410.78 336.55,416.82 336.90,412.16 337.25,416.58 337.60,413.35 337.95,417.79 338.30,407.23 338.65,423.24 339.00,396.22 339.35,425.79" fill="none" stroke="#7a46c4" stroke-width="1.0" stroke-dasharray="5 0.6 0.8 0.6"/>
</g>
<g clip-path="url(#cR3)">
<path d="M368.40,299.82 368.75,304.91 369.10,299.81 369.45,304.09 369.80,299.52 370.15,302.13 370.50,299.31 370.85,304.01 371.20,298.36 371.55,303.66 371.90,297.48 372.25,304.57 372.60,298.56 372.95,303.64 373.30,299.70 373.65,301.98 374.00,299.83 374.35,303.37 374.70,299.25 375.05,303.90 375.40,298.66 375.75,304.57 376.10,299.15 376.45,303.67 376.80,300.11 377.15,302.03 377.50,297.92 377.85,304.74 378.20,296.40 378.55,306.74 378.90,295.11 379.25,308.12 379.60,295.97 379.95,307.62 380.30,293.99 380.65,310.38 381.00,291.56 381.35,312.85 381.70,292.74 382.05,310.89 382.40,288.75 382.75,314.42 383.10,284.47 383.45,318.76 383.80,289.58 384.15,313.26 384.50,292.75 384.85,310.49 385.20,295.40 385.55,308.44 385.90,294.52 386.25,308.92 386.60,290.85 386.95,312.46 387.30,288.02 387.65,315.22 388.00,290.60 388.35,313.52 388.70,286.51 389.05,319.51 389.40,280.92 389.75,325.86 390.10,286.81 390.45,318.37 390.80,292.36 391.15,313.33 391.50,289.20 391.85,316.40 392.20,293.00 392.55,312.52 392.90,293.77 393.25,310.21 393.60,291.56 393.95,312.85 394.30,293.06 394.65,309.14 395.00,291.43 395.35,311.70 395.70,288.06 396.05,316.88 396.40,283.29 396.75,321.13 397.10,283.34 397.45,319.19 397.80,277.37 398.15,325.86 398.50,276.87 398.85,329.59 399.20,267.91 399.55,340.05 399.90,277.88 400.25,330.12 400.60,288.02 400.95,317.58 401.30,291.36 401.65,312.59 402.00,294.81 402.35,311.19 402.70,292.75 403.05,314.03 403.40,291.95 403.75,311.70 404.10,287.20 404.45,316.48 404.80,283.29 405.15,321.13 405.50,288.51 405.85,315.49 406.20,292.71 406.55,309.80 406.90,290.38 407.25,312.85 407.60,293.44 407.95,309.91 408.30,296.97 408.65,305.87 409.00,294.48 409.35,308.53 409.70,292.75 410.05,310.49 410.40,295.30 410.75,308.21 411.10,291.64 411.45,310.89 411.80,289.20 412.15,314.03 412.50,292.34 412.85,310.00 413.20,296.23 413.55,308.64 413.90,294.60 414.25,309.59 414.60,292.75 414.95,311.67 415.30,295.09 415.65,308.71 416.00,296.58 416.35,306.45 416.70,295.11 417.05,308.12 417.40,295.31 417.75,308.26 418.10,293.11 418.45,310.79 418.80,290.38 419.15,314.03 419.50,293.07 419.85,310.47 420.20,294.53 420.55,310.06 420.90,290.82 421.25,315.04 421.60,288.02 421.95,318.76 422.30,291.50 422.65,314.37 423.00,286.71 423.35,316.74 423.70,282.10 424.05,321.13 424.40,287.85 424.75,315.64 425.10,293.04 425.45,309.16 425.80,290.38 426.15,311.67 426.50,293.08 426.85,308.98 427.20,297.31 427.55,305.60 427.90,295.73 428.25,307.46 428.60,293.93 428.95,309.30 429.30,296.29 429.65,306.96 430.00,297.67 430.35,305.75 430.70,296.30 431.05,306.94 431.40,297.78 431.75,305.52 432.10,298.17 432.45,302.42 432.80,299.26 433.15,304.43 433.50,298.38 433.85,304.96 434.20,297.48 434.55,305.76 434.90,298.04 435.25,304.60 435.60,299.09 435.95,303.64 436.30,299.27 436.65,303.08 437.00,298.46 437.35,303.79 437.70,297.48 438.05,304.57 438.40,298.61 438.75,303.60 439.10,296.78 439.45,304.73 439.80,294.74 440.15,306.29 440.50,292.75 440.85,308.12 441.20,295.39 441.55,306.09 441.90,297.66 442.25,304.62 442.60,296.30 442.95,305.76 443.30,297.70 443.65,304.32 444.00,295.35 444.35,306.68 444.70,292.97 445.05,309.38 445.40,290.38 445.75,311.67 446.10,288.83 446.45,314.02 446.80,282.77 447.15,318.36 447.50,277.37 447.85,324.68 448.20,283.57 448.55,317.74 448.90,287.92 449.25,314.14 449.60,283.29 449.95,318.76 450.30,288.03 450.65,313.87 451.00,298.14 451.35,304.82 451.70,296.67 452.05,306.22 452.40,295.11 452.75,308.12 453.10,296.74 453.45,306.00 453.80,296.86 454.15,306.49 454.50,294.79 454.85,309.12 455.20,292.75 455.55,311.67 455.90,295.12 456.25,308.81 456.60,294.81 456.95,308.30 457.30,291.64 457.65,311.17 458.00,289.20 458.35,314.03 458.70,293.06 459.05,310.32 459.40,296.81 459.75,306.22 460.10,295.11 460.45,308.12 460.80,296.90 461.15,306.12 461.50,296.97 461.85,306.66 462.20,294.92 462.55,309.11 462.90,292.75 463.25,311.67 463.60,289.39 463.95,312.99 464.30,284.76 464.65,318.42 465.00,278.56 465.35,323.49 465.70,277.03 466.05,329.92 466.40,267.91 466.75,340.05 467.10,277.59 467.45,329.95 467.80,273.83 468.15,330.59 468.50,281.67 468.85,321.52 469.20,290.20 469.55,311.34 469.90,290.38 470.25,312.85 470.60,284.59 470.95,315.70 471.30,275.90 471.65,323.20 472.00,269.10 472.35,329.41 472.70,279.07 473.05,320.40 473.40,291.53 473.75,312.29 474.10,288.02 474.45,315.22 474.80,292.12 475.15,311.55 475.50,294.52 475.85,309.10 476.20,292.75 476.55,311.67 476.90,295.39 477.25,309.65 477.60,298.96 477.95,309.35 478.30,292.60 478.65,311.23 479.00,288.66 479.35,316.00 479.70,284.47 480.05,319.95 480.40,288.89 480.75,313.97 481.10,284.60 481.45,318.60 481.80,278.56 482.15,324.68 482.50,285.50 482.85,318.30 483.20,293.25 483.55,311.15 483.90,290.38 484.25,314.03 484.60,293.47 484.95,310.13 485.30,296.10 485.65,305.50 486.00,294.68 486.35,307.45 486.70,292.75 487.05,309.30 487.40,295.41 487.75,307.15 488.10,297.59 488.45,304.73 488.80,297.48 489.15,305.76 489.50,296.11 489.85,304.76 490.20,293.91 490.55,306.53 490.90,291.56 491.25,308.12 491.60,293.86 491.95,306.36 492.30,299.31 492.65,303.85 493.00,297.55 493.35,303.92 493.70,297.48 494.05,304.57 494.40,298.62 494.75,303.75 495.10,299.39 495.45,303.02 495.80,298.33 496.15,303.75 496.50,297.48 496.85,304.57 497.20,298.51 497.55,304.08 497.90,296.24 498.25,306.10 498.60,293.63 498.95,308.27 499.30,291.56 499.65,310.49 500.00,294.33 500.35,308.10 500.70,297.34 501.05,305.51 501.40,295.65 501.75,307.59 502.10,293.93 502.45,309.30 502.80,295.30 503.15,307.55 503.50,293.17 503.85,310.44 504.20,290.38 504.55,312.85 504.90,292.29 505.25,311.50 505.60,288.17 505.95,316.04 506.30,284.47 506.65,321.13 507.00,289.93 507.35,315.69 507.70,290.58 508.05,312.15 508.40,285.85 508.75,318.34 509.10,280.92 509.45,322.31 509.80,287.16 510.15,316.58 510.50,294.21 510.85,309.23 511.20,291.56 511.55,311.67 511.90,294.50 512.25,308.86 512.60,296.75 512.95,306.43 513.30,295.11 513.65,308.12 514.00,296.86 514.35,308.00 514.70,291.23 515.05,312.77 515.40,287.17 515.75,317.28 516.10,282.10 516.45,322.31 516.80,288.10 517.15,315.64 517.50,292.68 517.85,310.99 518.20,290.38 518.55,314.03 518.90,293.61 519.25,309.96 519.60,299.16 519.95,305.12 520.30,296.97 520.65,305.61 521.00,297.48 521.35,305.76 521.70,292.75 522.05,309.30 522.40,294.39 522.75,307.31 523.10,297.74 523.45,306.67 523.80,292.29 524.15,309.36 524.50,286.91 524.85,313.13 525.20,283.29 525.55,316.40 525.90,288.15 526.25,312.51 526.60,295.92 526.95,305.60 527.30,294.63 527.65,307.21 528.00,292.75 528.35,309.30 528.70,295.23 529.05,307.29 529.40,294.16 529.75,308.40 530.10,291.56 530.45,310.49 530.80,293.58 531.15,308.39 531.50,290.94 531.85,311.88 532.20,288.02 532.55,315.22 532.90,291.65 533.25,311.14 533.60,296.99 533.95,306.80 534.30,294.77 534.65,309.25 535.00,292.75 535.35,311.67 535.70,295.28 536.05,308.34 536.40,296.74 536.75,305.70 537.10,295.11 537.45,306.94 537.80,296.26 538.15,305.51 538.50,292.58 538.85,305.93 539.20,283.73 539.55,313.73 539.90,277.15 540.25,319.07 540.60,269.10 540.95,325.86 541.30,278.22 541.65,325.63 542.00,284.47 542.35,331.77 542.70,289.01 543.05,322.98 543.40,297.48 543.75,304.75 544.10,296.30 544.45,305.76 544.80,297.63 545.15,304.36 545.50,299.20 545.85,302.15 546.20,299.88 546.55,302.99 546.90,299.21 547.25,303.69 547.60,298.66 547.95,304.57 548.30,299.31 548.65,303.53 549.00,299.67 549.35,303.05 549.70,299.65 550.05,302.34 550.40,299.30 550.75,302.97 551.10,298.66 551.45,303.39 551.80,299.40 552.15,302.75 552.50,299.35 552.85,302.48 553.20,299.30 553.55,303.59 553.90,298.46 554.25,304.76 554.60,297.48 554.95,305.76 555.30,298.67 555.65,304.32 556.00,298.60 556.35,303.61 556.70,297.31 557.05,304.54 557.40,296.30 557.75,305.76 558.10,297.62 558.45,304.47 558.80,296.51 559.15,305.51 559.50,295.11 559.85,306.94 560.20,297.02 560.55,305.30 560.90,298.04 561.25,304.88 561.60,296.73 561.95,306.44 562.30,295.11 562.65,308.12 563.00,296.16 563.35,306.07 563.70,294.54 564.05,307.45 564.40,293.19 564.75,309.65 565.10,290.23 565.45,313.72 565.80,284.75 566.15,321.14 566.50,279.74 566.85,325.86 567.20,286.71 567.55,317.93 567.90,291.13 568.25,312.49 568.60,288.02 568.95,316.40 569.30,291.57 569.65,312.17 570.00,294.79 570.35,307.34 570.70,292.75 571.05,309.30 571.40,295.33 571.75,306.86 572.10,287.04 572.45,315.41 572.80,281.30 573.15,323.62 573.50,273.83 573.85,329.41 574.20,281.56 574.55,321.59 574.90,291.62 575.25,309.77 575.60,289.20 575.95,312.85 576.30,292.80 576.65,309.96 577.00,297.06 577.35,305.47 577.70,294.81 578.05,307.22 578.40,292.75 578.75,309.30 579.10,294.93 579.45,306.95 579.80,298.73 580.15,305.76 580.50,293.51 580.85,309.96 581.20,290.03 581.55,313.95 581.90,285.65 582.25,317.58 582.60,289.72 582.95,313.40 583.30,288.69 583.65,314.70 584.00,282.61 584.35,319.91 584.70,276.19 585.05,325.86 585.40,283.79 585.75,318.44 586.10,295.08 586.45,307.68 586.80,292.75 587.15,309.30 587.50,294.89 587.85,307.28 588.20,291.87 588.55,310.11 588.90,289.20 589.25,312.85 589.60,291.83 589.95,309.54 590.30,294.68 590.65,308.08 591.00,291.02 591.35,311.24 591.70,288.02 592.05,314.03 592.40,291.38 592.75,309.90 593.10,296.39 593.45,306.44 593.80,295.11 594.15,308.12 594.50,295.65 594.85,306.19 595.20,295.46 595.55,305.13 595.90,294.54 596.25,309.04 596.60,291.10 596.95,311.35 597.30,288.02 597.65,315.22 598.00,284.96 598.35,316.57 598.70,279.20 599.05,323.23 599.40,271.46 599.75,330.59 600.10,279.70 600.45,322.70 600.80,288.25 601.15,310.81 601.50,288.02 601.85,314.03 602.20,291.51 602.55,310.12 602.90,294.20 603.25,305.37 603.60,294.98 603.95,307.18 604.30,292.75 604.65,309.30 605.00,295.46 605.35,306.85 605.70,292.67 606.05,309.23 606.40,290.38 606.75,311.67 607.10,293.65 607.45,308.63 607.80,287.97 608.15,315.57 608.50,280.79 608.85,322.36 609.20,275.01 609.55,329.41 609.90,282.12 610.25,320.85 610.60,293.70 610.95,311.96 611.30,291.56 611.65,312.85 612.00,294.26 612.35,309.73 612.70,299.15 613.05,303.51 613.40,298.40 613.75,303.76 614.10,297.48 614.45,304.57 614.80,297.93 615.15,304.98 615.50,296.53 615.85,306.60 616.20,295.11 616.55,308.12 616.90,296.70 617.25,306.00 617.60,292.78 617.95,307.10 618.30,289.14 618.65,310.52 619.00,285.65 619.35,312.85 619.70,290.58 620.05,309.77 620.40,293.83 620.75,307.67 621.10,291.56 621.45,309.30 621.80,294.51 622.15,307.22 622.50,292.68 622.85,310.37 623.20,288.99 623.55,314.18 623.90,284.47 624.25,318.76 624.60,282.37 624.95,320.08 625.30,271.96 625.65,328.24 626.00,264.37 626.35,337.69 626.70,276.32 627.05,328.45 627.40,285.04 627.75,316.02 628.10,280.92 628.45,321.13 628.80,287.41 629.15,316.01 629.50,288.86 629.85,312.45 630.20,285.65 630.55,316.40 630.90,289.68 631.25,311.87 631.60,292.97 631.95,309.23 632.30,290.38 632.65,311.67 633.00,292.32 633.35,308.69 633.70,286.72 634.05,319.12 634.40,278.53 634.75,328.77 635.10,272.64 635.45,336.50 635.80,280.19 636.15,325.25 636.50,293.30 636.85,309.57 637.20,290.38 637.55,311.67 637.90,293.19 638.25,309.01 638.60,296.76 638.95,306.91 639.30,294.85 639.65,307.10 640.00,292.75 640.35,309.30 640.70,292.84 641.05,306.86 641.40,293.96 641.75,305.81 642.10,290.50 642.45,312.10 642.80,285.43 643.15,317.04 643.50,279.74 643.85,321.13 644.20,286.24 644.55,315.67 644.90,295.05 645.25,307.32 645.60,294.87 645.95,307.82 646.30,292.75 646.65,309.30 647.00,294.60 647.35,308.44 647.70,291.12 648.05,311.35 648.40,288.02 648.75,315.22 649.10,289.62 649.45,312.04 649.80,284.72 650.15,316.96 650.50,278.56 650.85,322.31 651.20,283.21 651.55,316.12 651.90,295.46 652.25,306.50 652.60,293.01 652.95,309.41 653.30,290.38 653.65,311.67 654.00,293.57 654.35,308.90 654.70,291.56 655.05,312.26 655.40,288.02 655.75,315.22 656.10,291.86 656.45,311.09 656.80,286.88 657.15,314.10 657.50,280.69 657.85,319.69 658.20,273.83 658.55,325.86 658.90,282.00 659.25,317.90 659.60,285.66 659.95,317.38 660.30,278.63 660.65,323.45 661.00,271.46 661.35,330.59 661.70,280.10 662.05,322.64 662.40,294.20 662.75,308.55 663.10,291.56 663.45,310.49 663.80,294.60 664.15,308.05 664.50,297.90 664.85,305.36 665.20,296.58 665.55,305.74 665.90,295.11 666.25,306.94 666.60,296.73 666.95,305.48 667.30,295.45 667.65,307.52 668.00,293.11 668.35,309.72 668.70,290.38 669.05,312.85 669.40,293.31 669.75,309.49 670.10,294.46 670.45,307.50 670.80,292.75 671.15,309.30 671.50,294.97 671.85,307.03 672.20,296.80 672.55,306.26 672.90,295.11 673.25,308.12 673.60,296.24 673.95,306.05 674.30,295.33 674.65,307.15 675.00,293.26 675.35,310.28 675.70,290.38 676.05,312.85 676.40,292.95 676.75,309.54 677.10,289.15 677.45,313.07 677.80,285.65 678.15,316.40 678.50,288.83 678.85,312.36 679.20,294.66 679.55,307.76 679.90,292.40 680.25,311.01 680.60,289.20 680.95,314.03" fill="none" stroke="#e8362c" stroke-width="1.0"/>
<path d="M368.40,300.07 368.75,304.52 369.10,299.90 369.45,304.34 369.80,299.57 370.15,302.00 370.50,299.07 370.85,303.68 371.20,298.54 371.55,303.36 371.90,297.65 372.25,303.99 372.60,298.70 372.95,303.37 373.30,299.88 373.65,301.87 374.00,299.95 374.35,303.35 374.70,299.47 375.05,303.69 375.40,298.92 375.75,304.25 376.10,299.49 376.45,303.35 376.80,300.33 377.15,301.95 377.50,298.44 377.85,304.17 378.20,296.81 378.55,303.08 378.90,295.91 379.25,307.54 379.60,296.33 379.95,307.21 380.30,298.52 380.65,308.71 381.00,292.85 381.35,312.00 381.70,293.58 382.05,309.99 382.40,291.02 382.75,312.80 383.10,286.60 383.45,303.95 383.80,298.96 384.15,312.28 384.50,295.42 384.85,308.83 385.20,296.28 385.55,307.26 385.90,295.50 386.25,308.64 386.60,292.56 386.95,311.80 387.30,289.52 387.65,315.00 388.00,291.40 388.35,311.79 388.70,289.01 389.05,314.34 389.40,288.18 389.75,325.23 390.10,287.71 390.45,315.22 390.80,293.45 391.15,312.54 391.50,289.83 391.85,315.49 392.20,293.80 392.55,312.09 392.90,294.71 393.25,308.89 393.60,293.44 393.95,311.69 394.30,295.58 394.65,309.07 395.00,292.23 395.35,311.44 395.70,291.37 396.05,316.82 396.40,285.41 396.75,311.84 397.10,290.87 397.45,318.56 397.80,280.60 398.15,324.22 398.50,278.97 398.85,327.60 399.20,272.53 399.55,339.11 399.90,281.15 400.25,313.86 400.60,288.93 400.95,313.39 401.30,292.57 401.65,311.38 402.00,295.13 402.35,309.49 402.70,292.86 403.05,312.99 403.40,293.69 403.75,310.93 404.10,289.09 404.45,313.92 404.80,285.87 405.15,320.34 405.50,289.14 405.85,314.17 406.20,293.37 406.55,309.39 406.90,293.37 407.25,308.28 407.60,294.87 407.95,309.70 408.30,297.55 408.65,305.30 409.00,295.28 409.35,308.61 409.70,298.09 410.05,308.92 410.40,295.48 410.75,307.34 411.10,291.98 411.45,310.18 411.80,290.59 412.15,313.93 412.50,298.05 412.85,308.07 413.20,299.12 413.55,307.46 413.90,295.31 414.25,309.28 414.60,295.01 414.95,310.11 415.30,297.43 415.65,307.71 416.00,297.31 416.35,305.55 416.70,295.26 417.05,307.01 417.40,297.50 417.75,308.09 418.10,296.49 418.45,310.45 418.80,292.34 419.15,309.42 419.50,298.63 419.85,310.23 420.20,294.75 420.55,309.83 420.90,291.73 421.25,312.46 421.60,296.28 421.95,315.80 422.30,292.31 422.65,314.07 423.00,291.61 423.35,314.55 423.70,288.15 424.05,320.32 424.40,288.90 424.75,305.54 425.10,293.46 425.45,309.73 425.80,292.11 426.15,309.58 426.50,293.18 426.85,308.52 427.20,297.45 427.55,306.42 427.90,296.74 428.25,306.64 428.60,298.51 428.95,304.03 429.30,296.31 429.65,306.79 430.00,297.88 430.35,305.10 430.70,298.56 431.05,305.53 431.40,298.07 431.75,305.21 432.10,300.01 432.45,302.25 432.80,299.28 433.15,304.40 433.50,298.42 433.85,304.78 434.20,298.07 434.55,305.39 434.90,298.26 435.25,304.46 435.60,299.45 435.95,303.47 436.30,299.66 436.65,303.62 437.00,298.62 437.35,303.50 437.70,297.81 438.05,304.27 438.40,298.97 438.75,303.42 439.10,296.89 439.45,304.48 439.80,295.68 440.15,305.42 440.50,294.25 440.85,307.93 441.20,299.83 441.55,305.62 441.90,298.16 442.25,304.35 442.60,296.51 442.95,304.17 443.30,300.20 443.65,304.03 444.00,296.07 444.35,306.45 444.70,299.87 445.05,308.45 445.40,297.75 445.75,310.02 446.10,289.63 446.45,313.15 446.80,283.54 447.15,317.10 447.50,279.07 447.85,322.78 448.20,284.45 448.55,311.55 448.90,290.40 449.25,314.07 449.60,288.44 449.95,315.63 450.30,290.56 450.65,312.17 451.00,298.21 451.35,304.99 451.70,296.01 452.05,303.04 452.40,296.17 452.75,304.02 453.10,297.14 453.45,305.94 453.80,297.31 454.15,305.73 454.50,296.62 454.85,308.94 455.20,293.79 455.55,309.87 455.90,295.79 456.25,307.62 456.60,295.63 456.95,305.96 457.30,292.54 457.65,310.02 458.00,292.59 458.35,312.95 458.70,293.21 459.05,303.67 459.40,296.97 459.75,305.37 460.10,296.12 460.45,308.09 460.80,297.12 461.15,306.22 461.50,297.80 461.85,306.57 462.20,298.38 462.55,308.10 462.90,293.13 463.25,311.64 463.60,289.74 463.95,311.17 464.30,286.13 464.65,316.97 465.00,282.08 465.35,320.77 465.70,284.27 466.05,328.09 466.40,273.40 466.75,338.73 467.10,278.04 467.45,329.32 467.80,289.59 468.15,310.06 468.50,284.08 468.85,318.46 469.20,291.66 469.55,309.56 469.90,290.71 470.25,311.19 470.60,287.46 470.95,303.74 471.30,276.65 471.65,320.17 472.00,274.82 472.35,319.67 472.70,286.47 473.05,311.96 473.40,292.57 473.75,311.48 474.10,290.43 474.45,307.46 474.80,293.41 475.15,310.08 475.50,295.37 475.85,303.29 476.20,298.64 476.55,310.49 476.90,295.45 477.25,309.26 477.60,297.84 477.95,308.20 478.30,293.92 478.65,309.98 479.00,290.03 479.35,314.88 479.70,287.64 480.05,318.00 480.40,289.02 480.75,312.37 481.10,293.76 481.45,316.50 481.80,287.77 482.15,323.56 482.50,287.66 482.85,316.47 483.20,297.03 483.55,307.20 483.90,290.53 484.25,311.96 484.60,298.21 484.95,309.50 485.30,297.66 485.65,305.22 486.00,295.46 486.35,306.59 486.70,293.36 487.05,304.77 487.40,296.34 487.75,304.66 488.10,298.17 488.45,304.41 488.80,297.96 489.15,305.08 489.50,296.52 489.85,303.61 490.20,293.96 490.55,305.65 490.90,292.80 491.25,306.77 491.60,294.18 491.95,306.33 492.30,299.43 492.65,303.77 493.00,298.06 493.35,303.23 493.70,297.96 494.05,304.47 494.40,298.86 494.75,303.37 495.10,299.71 495.45,302.89 495.80,298.79 496.15,303.49 496.50,298.14 496.85,304.21 497.20,298.66 497.55,303.78 497.90,296.77 498.25,302.94 498.60,294.93 498.95,306.39 499.30,292.46 499.65,309.97 500.00,294.66 500.35,306.56 500.70,297.63 501.05,305.29 501.40,296.09 501.75,307.37 502.10,295.07 502.45,309.20 502.80,299.31 503.15,307.49 503.50,296.19 503.85,309.14 504.20,291.87 504.55,311.74 504.90,293.81 505.25,310.89 505.60,290.59 505.95,305.93 506.30,285.33 506.65,320.14 507.00,294.00 507.35,315.25 507.70,290.98 508.05,311.63 508.40,287.56 508.75,308.83 509.10,293.24 509.45,319.37 509.80,298.07 510.15,315.14 510.50,294.30 510.85,305.06 511.20,292.68 511.55,310.97 511.90,295.80 512.25,307.88 512.60,297.27 512.95,305.74 513.30,296.01 513.65,307.40 514.00,298.28 514.35,307.19 514.70,291.56 515.05,312.31 515.40,287.56 515.75,315.81 516.10,296.72 516.45,321.73 516.80,289.37 517.15,313.20 517.50,292.70 517.85,308.44 518.20,291.14 518.55,312.16 518.90,293.73 519.25,308.95 519.60,299.24 519.95,304.93 520.30,297.64 520.65,304.81 521.00,298.18 521.35,302.99 521.70,297.35 522.05,306.36 522.40,295.26 522.75,306.65 523.10,297.97 523.45,305.82 523.80,292.73 524.15,308.57 524.50,288.87 524.85,307.90 525.20,286.42 525.55,314.56 525.90,288.76 526.25,310.81 526.60,295.95 526.95,305.25 527.30,294.92 527.65,307.01 528.00,293.05 528.35,308.64 528.70,299.22 529.05,306.62 529.40,294.67 529.75,307.24 530.10,292.12 530.45,310.29 530.80,294.33 531.15,307.14 531.50,298.83 531.85,310.50 532.20,288.49 532.55,312.64 532.90,292.04 533.25,310.86 533.60,297.31 533.95,306.31 534.30,298.39 534.65,308.23 535.00,292.98 535.35,311.23 535.70,295.86 536.05,303.16 536.40,298.46 536.75,304.91 537.10,296.18 537.45,305.88 537.80,297.09 538.15,304.99 538.50,293.53 538.85,305.78 539.20,285.39 539.55,313.69 539.90,281.57 540.25,318.86 540.60,273.04 540.95,308.73 541.30,281.87 541.65,322.17 542.00,285.49 542.35,315.70 542.70,290.74 543.05,321.39 543.40,298.01 543.75,306.38 544.10,296.80 544.45,305.07 544.80,298.01 545.15,303.12 545.50,299.45 545.85,302.15 546.20,300.09 546.55,302.97 546.90,300.68 547.25,303.83 547.60,298.95 547.95,304.08 548.30,299.43 548.65,303.34 549.00,299.93 549.35,302.76 549.70,299.95 550.05,302.79 550.40,299.38 550.75,302.79 551.10,298.77 551.45,303.19 551.80,299.46 552.15,302.47 552.50,299.40 552.85,302.64 553.20,300.48 553.55,303.19 553.90,298.69 554.25,304.59 554.60,298.01 554.95,305.54 555.30,298.88 555.65,304.16 556.00,298.98 556.35,303.48 556.70,297.40 557.05,304.26 557.40,296.68 557.75,304.11 558.10,298.95 558.45,304.28 558.80,296.54 559.15,304.67 559.50,295.71 559.85,306.04 560.20,299.15 560.55,304.71 560.90,298.49 561.25,304.44 561.60,296.80 561.95,305.82 562.30,295.44 562.65,307.33 563.00,296.09 563.35,305.47 563.70,295.76 564.05,307.32 564.40,294.58 564.75,309.28 565.10,294.15 565.45,306.50 565.80,295.09 566.15,319.54 566.50,279.91 566.85,317.21 567.20,287.72 567.55,315.28 567.90,292.37 568.25,311.77 568.60,289.92 568.95,309.23 569.30,292.22 569.65,311.93 570.00,295.49 570.35,306.94 570.70,294.12 571.05,308.85 571.40,296.13 571.75,305.87 572.10,288.57 572.45,315.00 572.80,287.41 573.15,319.88 573.50,277.96 573.85,324.77 574.20,282.52 574.55,320.79 574.90,292.06 575.25,308.67 575.60,289.92 575.95,311.86 576.30,293.15 576.65,308.99 577.00,297.51 577.35,304.75 577.70,299.83 578.05,307.04 578.40,293.36 578.75,309.01 579.10,295.89 579.45,306.11 579.80,299.19 580.15,305.51 580.50,294.79 580.85,308.61 581.20,290.88 581.55,312.79 581.90,287.90 582.25,315.77 582.60,297.62 582.95,312.30 583.30,288.91 583.65,312.78 584.00,283.88 584.35,317.13 584.70,287.06 585.05,315.97 585.40,286.65 585.75,317.07 586.10,296.07 586.45,307.00 586.80,294.01 587.15,308.78 587.50,296.11 587.85,306.13 588.20,293.37 588.55,304.26 588.90,297.71 589.25,310.92 589.60,291.95 589.95,309.45 590.30,295.43 590.65,308.44 591.00,291.59 591.35,309.57 591.70,290.98 592.05,312.63 592.40,299.54 592.75,309.38 593.10,296.70 593.45,305.46 593.80,295.15 594.15,307.95 594.50,296.09 594.85,306.45 595.20,296.13 595.55,303.45 595.90,294.65 596.25,308.82 596.60,297.69 596.95,306.23 597.30,289.64 597.65,314.34 598.00,285.38 598.35,316.04 598.70,281.80 599.05,323.12 599.40,273.99 599.75,325.35 600.10,281.36 600.45,319.27 600.80,289.00 601.15,309.46 601.50,289.32 601.85,304.34 602.20,292.07 602.55,308.45 602.90,298.74 603.25,304.77 603.60,295.85 603.95,302.80 604.30,293.56 604.65,308.78 605.00,296.53 605.35,306.04 605.70,299.18 606.05,308.69 606.40,291.95 606.75,308.07 607.10,294.95 607.45,309.92 607.80,290.19 608.15,314.76 608.50,283.49 608.85,320.07 609.20,275.16 609.55,324.94 609.90,296.48 610.25,312.31 610.60,294.47 610.95,310.91 611.30,292.10 611.65,312.53 612.00,294.45 612.35,308.38 612.70,299.22 613.05,303.33 613.40,298.03 613.75,303.45 614.10,298.15 614.45,302.96 614.80,298.51 615.15,304.81 615.50,296.61 615.85,305.66 616.20,295.78 616.55,306.43 616.90,296.90 617.25,305.34 617.60,293.69 617.95,302.54 618.30,290.95 618.65,310.13 619.00,287.44 619.35,308.34 619.70,292.44 620.05,309.60 620.40,294.49 620.75,307.07 621.10,293.15 621.45,308.25 621.80,295.59 622.15,306.29 622.50,293.72 622.85,309.55 623.20,295.11 623.55,311.81 623.90,295.59 624.25,318.64 624.60,282.93 624.95,317.44 625.30,272.90 625.65,325.64 626.00,270.44 626.35,334.28 626.70,277.84 627.05,325.67 627.40,287.85 627.75,315.87 628.10,283.25 628.45,319.02 628.80,289.37 629.15,314.20 629.50,293.07 629.85,307.14 630.20,286.23 630.55,313.64 630.90,291.89 631.25,310.86 631.60,294.01 631.95,304.71 632.30,292.18 632.65,310.68 633.00,293.58 633.35,308.55 633.70,290.13 634.05,318.12 634.40,280.90 634.75,325.54 635.10,273.13 635.45,330.08 635.80,291.56 636.15,320.90 636.50,294.35 636.85,308.55 637.20,295.52 637.55,311.45 637.90,294.36 638.25,307.91 638.60,297.63 638.95,306.63 639.30,295.79 639.65,306.03 640.00,293.40 640.35,308.42 640.70,293.16 641.05,305.87 641.40,293.35 641.75,304.99 642.10,292.31 642.45,311.60 642.80,294.66 643.15,316.61 643.50,283.74 643.85,319.42 644.20,286.26 644.55,312.01 644.90,298.77 645.25,306.86 645.60,295.11 645.95,307.37 646.30,292.84 646.65,308.81 647.00,295.09 647.35,307.35 647.70,291.57 648.05,310.31 648.40,289.95 648.75,307.85 649.10,290.37 649.45,309.02 649.80,285.69 650.15,304.24 650.50,279.87 650.85,321.23 651.20,284.52 651.55,315.15 651.90,296.16 652.25,306.23 652.60,294.15 652.95,305.16 653.30,291.75 653.65,308.85 654.00,294.96 654.35,308.17 654.70,291.89 655.05,311.99 655.40,288.53 655.75,314.26 656.10,292.68 656.45,311.77 656.80,293.46 657.15,313.65 657.50,282.99 657.85,316.12 658.20,274.60 658.55,323.19 658.90,283.72 659.25,316.56 659.60,289.91 659.95,316.07 660.30,291.79 660.65,320.62 661.00,272.71 661.35,327.34 661.70,282.12 662.05,319.90 662.40,294.77 662.75,307.64 663.10,293.04 663.45,309.12 663.80,295.77 664.15,307.35 664.50,298.13 664.85,303.65 665.20,297.36 665.55,305.30 665.90,299.87 666.25,305.93 666.60,297.24 666.95,305.38 667.30,299.47 667.65,307.08 668.00,297.60 668.35,308.20 668.70,292.36 669.05,310.65 669.40,296.61 669.75,305.34 670.10,294.49 670.45,306.72 670.80,296.90 671.15,308.85 671.50,295.56 671.85,306.36 672.20,296.85 672.55,305.75 672.90,295.40 673.25,307.33 673.60,296.85 673.95,305.62 674.30,299.21 674.65,306.30 675.00,294.79 675.35,309.43 675.70,290.53 676.05,311.28 676.40,293.35 676.75,308.77 677.10,299.52 677.45,312.34 677.80,287.67 678.15,314.56 678.50,289.78 678.85,310.94 679.20,294.66 679.55,306.74 679.90,293.02 680.25,304.26 680.60,291.19 680.95,304.58" fill="none" stroke="#3b7f22" stroke-width="1.0" stroke-dasharray="5 0.6 0.8 0.6"/>
</g>
<g clip-path="url(#cR4)">
<path d="M368.20,409.37 368.55,414.57 368.90,410.31 369.25,413.86 369.60,412.12 369.95,412.73 370.30,411.20 370.65,413.31 371.00,410.51 371.35,414.24 371.70,409.84 372.05,415.05 372.40,410.61 372.75,414.21 373.10,411.97 373.45,413.59 373.80,411.17 374.15,413.54 374.50,409.81 374.85,414.67 375.20,408.66 375.55,415.76 375.90,409.96 376.25,414.73 376.60,410.27 376.95,412.65 377.30,411.05 377.65,414.28 378.00,407.86 378.35,418.15 378.70,406.30 379.05,420.49 379.40,408.16 379.75,417.67 380.10,411.29 380.45,413.04 380.80,410.46 381.15,414.70 381.50,409.84 381.85,415.76 382.20,410.64 382.55,414.54 382.90,411.40 383.25,413.15 383.60,411.94 383.95,413.18 384.30,409.04 384.65,416.40 385.00,407.48 385.35,418.12 385.70,409.07 386.05,416.33 386.40,410.13 386.75,414.62 387.10,400.70 387.45,426.32 387.80,395.65 388.15,431.13 388.50,394.89 388.85,437.79 389.20,388.56 389.55,446.50 389.90,395.74 390.25,435.50 390.60,403.91 390.95,422.39 391.30,400.38 391.65,426.40 392.00,404.25 392.35,421.79 392.70,411.23 393.05,413.77 393.40,408.16 393.75,417.49 394.10,406.30 394.45,419.30 394.80,406.85 395.15,418.15 395.50,408.08 395.85,419.67 396.20,397.38 396.55,426.73 396.90,390.92 397.25,433.49 397.60,391.95 397.95,441.04 398.30,383.83 398.65,453.60 399.00,392.71 399.35,440.54 399.70,404.09 400.05,421.80 400.40,400.38 400.75,425.22 401.10,404.31 401.45,420.68 401.80,411.77 402.15,413.19 402.50,408.98 402.85,414.17 403.20,406.96 403.55,417.83 403.90,405.11 404.25,420.49 404.60,407.57 404.95,417.80 405.30,404.11 405.65,424.02 406.00,400.38 406.35,428.76 406.70,404.05 407.05,423.07 407.40,408.79 407.75,417.16 408.10,407.48 408.45,418.12 408.80,408.93 409.15,416.36 409.50,410.23 409.85,413.35 410.20,409.80 410.55,415.70 410.90,408.66 411.25,416.94 411.60,409.92 411.95,415.23 412.30,408.15 412.65,417.41 413.00,406.30 413.35,419.30 413.70,408.32 414.05,416.97 414.40,411.78 414.75,414.29 415.10,409.81 415.45,414.68 415.80,408.66 416.15,415.76 416.50,409.51 416.85,414.60 417.20,410.18 417.55,413.79 417.90,410.08 418.25,414.82 418.60,407.01 418.95,417.26 419.30,405.11 419.65,419.30 420.00,407.61 420.35,417.16 420.70,401.92 421.05,422.62 421.40,398.02 421.75,426.40 422.10,399.92 422.45,430.02 422.80,394.47 423.15,438.23 423.50,400.25 423.85,429.99 424.20,406.96 424.55,417.51 424.90,405.11 425.25,419.30 425.60,407.52 425.95,416.95 426.30,410.12 426.65,412.63 427.00,410.27 427.35,413.85 427.70,409.84 428.05,414.57 428.40,410.69 428.75,413.82 429.10,411.43 429.45,413.24 429.80,412.04 430.15,412.43 430.50,410.53 430.85,413.94 431.20,409.84 431.55,414.57 431.90,410.72 432.25,413.81 432.60,411.12 432.95,412.98 433.30,410.92 433.65,412.70 434.00,409.80 434.35,414.73 434.70,408.66 435.05,415.76 435.40,409.96 435.75,414.55 436.10,412.04 436.45,412.54 436.80,410.70 437.15,413.66 437.50,407.11 437.85,416.40 438.20,405.11 438.55,418.12 438.90,407.69 439.25,416.16 439.60,408.80 439.95,419.66 440.30,407.48 440.65,422.85 441.00,409.17 441.35,419.27 441.70,410.51 442.05,413.84 442.40,409.84 442.75,414.57 443.10,409.94 443.45,413.74 443.80,411.96 444.15,413.47 444.50,410.47 444.85,413.38 445.20,406.97 445.55,417.13 445.90,405.11 446.25,419.30 446.60,406.30 446.95,416.73 447.30,410.70 447.65,416.91 448.00,399.60 448.35,424.55 448.70,394.47 449.05,429.95 449.40,400.10 449.75,424.37 450.10,409.00 450.45,415.45 450.80,407.48 451.15,416.94 451.50,409.02 451.85,415.36 452.20,411.65 452.55,413.23 452.90,409.74 453.25,414.72 453.60,408.66 453.95,415.76 454.30,409.91 454.65,415.69 455.00,411.04 455.35,415.42 455.70,407.98 456.05,416.10 456.40,402.24 456.75,423.57 457.10,398.02 457.45,428.76 457.80,402.83 458.15,423.81 458.50,408.77 458.85,416.72 459.20,407.48 459.55,418.12 459.90,408.95 460.25,416.15 460.60,410.07 460.95,413.37 461.30,406.42 461.65,418.31 462.00,403.93 462.35,420.49 462.70,406.02 463.05,417.90 463.40,406.69 463.75,414.95 464.10,408.73 464.45,416.10 464.80,399.25 465.15,431.86 465.50,393.29 465.85,439.41 466.20,399.64 466.55,430.84 466.90,407.41 467.25,417.38 467.60,405.11 467.95,419.30 468.30,407.16 468.65,416.73 469.00,401.93 469.35,420.47 469.70,398.02 470.05,424.03 470.40,402.56 470.75,420.50 471.10,404.25 471.45,419.74 471.80,400.38 472.15,422.85 472.50,398.15 472.85,429.86 473.20,393.29 473.55,438.23 473.90,400.14 474.25,429.37 474.60,410.38 474.95,418.75 475.30,407.02 475.65,417.44 476.00,405.11 476.35,419.30 476.70,407.49 477.05,417.16 477.40,407.01 477.75,418.36 478.10,405.11 478.45,420.49 478.80,407.45 479.15,417.61 479.50,396.69 479.85,433.78 480.20,390.92 480.55,441.77 480.90,386.63 481.25,441.23 481.60,374.37 481.95,453.60 482.30,387.72 482.65,439.44 483.00,396.97 483.35,427.58 483.70,389.74 484.05,433.49 484.40,397.41 484.75,426.05 485.10,405.11 485.45,421.67 485.80,407.72 486.15,418.77 486.50,411.72 486.85,415.15 487.20,409.77 487.55,415.74 487.90,408.66 488.25,416.94 488.60,409.98 488.95,415.35 489.30,411.95 489.65,414.24 490.00,408.76 490.35,416.46 490.70,407.48 491.05,418.12 491.40,409.11 491.75,416.33 492.10,412.01 492.45,412.53 492.80,409.80 493.15,414.85 493.50,408.66 493.85,415.76 494.20,409.88 494.55,414.55 494.90,410.89 495.25,413.58 495.60,411.10 495.95,414.26 496.30,408.92 496.65,415.53 497.00,407.48 497.35,416.94 497.70,409.05 498.05,415.37 498.40,411.28 498.75,412.63 499.10,410.69 499.45,413.27 499.80,409.70 500.15,414.80 500.50,408.66 500.85,415.76 501.20,409.79 501.55,414.65 501.90,410.65 502.25,413.13 502.60,408.94 502.95,416.52 503.30,407.48 503.65,418.12 504.00,409.03 504.35,417.38 504.70,411.57 505.05,413.34 505.40,407.93 505.75,419.37 506.10,402.25 506.45,425.76 506.80,398.02 507.15,431.13 507.50,402.55 507.85,424.60 508.20,407.84 508.55,417.35 508.90,406.30 509.25,419.30 509.60,408.36 509.95,417.13 510.30,408.93 510.65,414.34 511.00,411.68 511.35,414.78 511.70,403.95 512.05,418.78 512.40,400.38 512.75,421.67 513.10,404.28 513.45,418.59 513.80,408.13 514.15,414.02 514.50,398.05 514.85,427.22 515.20,393.29 515.55,432.31 515.90,399.76 516.25,425.54 516.60,406.52 516.95,417.52 517.30,407.61 517.65,417.16 518.00,407.95 518.35,416.45 518.70,406.30 519.05,418.12 519.40,408.27 519.75,416.13 520.10,409.61 520.45,414.86 520.80,408.66 521.15,415.76 521.50,407.48 521.85,416.94 522.20,408.94 522.55,415.29 522.90,409.96 523.25,414.60 523.60,410.68 523.95,412.67 524.30,409.53 524.65,414.99 525.00,408.20 525.35,416.45 525.70,406.30 526.05,418.12 526.40,408.45 526.75,416.07 527.10,410.97 527.45,412.50 527.80,410.53 528.15,413.86 528.50,409.84 528.85,414.57 529.20,410.42 529.55,414.06 529.90,411.56 530.25,413.26 530.60,405.18 530.95,417.87 531.30,402.75 531.65,420.49 532.00,405.94 532.35,417.73 532.70,410.61 533.05,414.72 533.40,409.84 533.75,415.76 534.10,410.69 534.45,414.56 534.80,412.08 535.15,414.31 535.50,407.15 535.85,417.32 536.20,405.11 536.55,419.30 536.90,407.54 537.25,417.59 537.60,410.63 537.95,416.21 538.30,399.45 538.65,427.38 539.00,394.47 539.35,433.49 539.70,400.91 540.05,426.63 540.40,400.38 540.75,424.03 541.10,404.68 541.45,420.14 541.80,411.20 542.15,412.91 542.50,411.52 542.85,415.07 543.20,410.43 543.55,414.78 543.90,410.59 544.25,413.94 544.60,409.84 544.95,414.57 545.30,410.61 545.65,413.84 546.00,412.02 546.35,413.14 546.70,412.11 547.05,413.58 547.40,410.54 547.75,413.99 548.10,409.84 548.45,414.57 548.80,410.71 549.15,413.89 549.50,412.03 549.85,413.19 550.20,412.13 550.55,413.61 550.90,409.72 551.25,414.80 551.60,408.66 551.95,415.76 552.30,409.97 552.65,414.55 553.00,410.93 553.35,413.02 553.70,409.57 554.05,412.84 554.40,407.36 554.75,416.68 555.10,405.11 555.45,418.12 555.80,407.65 556.15,416.29 556.50,408.99 556.85,418.23 557.20,407.48 557.55,420.49 557.90,408.96 558.25,417.85 558.60,411.93 558.95,413.60 559.30,411.47 559.65,413.59 560.00,410.47 560.35,414.85 560.70,409.84 561.05,415.76 561.40,410.60 561.75,414.49 562.10,411.94 562.45,412.86 562.80,408.86 563.15,416.36 563.50,407.48 563.85,418.12 564.20,409.11 564.55,416.26 564.90,400.15 565.25,425.30 565.60,395.65 565.95,431.13 566.30,401.61 566.65,424.25 567.00,408.78 567.35,416.59 567.70,407.48 568.05,418.12 568.40,409.23 568.75,416.02 569.10,411.50 569.45,414.77 569.80,407.37 570.15,419.32 570.50,405.11 570.85,421.67 571.20,407.74 571.55,418.58 571.90,411.30 572.25,413.29 572.60,397.34 572.95,430.94 573.30,392.10 573.65,439.41 574.00,398.61 574.35,430.02 574.70,406.78 575.05,415.67 575.40,405.99 575.75,418.11 576.10,405.11 576.45,420.49 576.80,407.70 577.15,417.97 577.50,410.44 577.85,412.67 578.20,408.86 578.55,416.66 578.90,407.48 579.25,418.12 579.60,409.06 579.95,416.36 580.30,410.25 580.65,414.03 581.00,408.22 581.35,414.00 581.70,398.53 582.05,425.09 582.40,393.29 582.75,431.13 583.10,400.32 583.45,425.47 583.80,408.80 584.15,416.57 584.50,407.48 584.85,418.12 585.20,408.98 585.55,416.11 585.90,407.07 586.25,418.22 586.60,405.11 586.95,420.49 587.30,405.64 587.65,417.77 588.00,408.70 588.35,415.61 588.70,411.67 589.05,418.47 589.40,400.78 589.75,425.80 590.10,396.83 590.45,431.13 590.80,401.70 591.15,424.25 591.50,407.22 591.85,418.14 592.20,405.11 592.55,420.49 592.90,407.49 593.25,417.94 593.60,411.42 593.95,414.54 594.30,408.03 594.65,417.32 595.00,406.30 595.35,419.30 595.70,408.30 596.05,417.04 596.40,407.57 596.75,418.02 597.10,411.54 597.45,415.83 597.80,397.79 598.15,430.57 598.50,392.10 598.85,438.23 599.20,399.17 599.55,430.20 599.90,407.36 600.25,413.71 600.60,407.52 600.95,418.28 601.30,407.48 601.65,418.12 602.00,409.17 602.35,416.37 602.70,409.78 603.05,415.58 603.40,408.66 603.75,416.94 604.10,409.91 604.45,415.51 604.80,410.94 605.15,414.47 605.50,405.33 605.85,422.09 606.20,402.75 606.55,426.40 606.90,406.12 607.25,421.92 607.60,411.06 607.95,413.67 608.30,409.72 608.65,414.68 609.00,408.66 609.35,415.76 609.70,409.98 610.05,414.88 610.40,411.86 610.75,413.76 611.10,411.33 611.45,413.04 611.80,411.65 612.15,413.18 612.50,408.81 612.85,415.71 613.20,407.48 613.55,416.94 613.90,409.24 614.25,415.38 614.60,411.19 614.95,413.77 615.30,410.90 615.65,414.06 616.00,408.18 616.35,416.48 616.70,406.30 617.05,418.12 617.40,408.42 617.75,416.06 618.10,408.84 618.45,417.11 618.80,407.48 619.15,419.30 619.50,408.99 619.85,416.79 620.20,411.30 620.55,415.37 620.90,400.73 621.25,427.81 621.60,395.65 621.95,433.49 622.30,401.14 622.65,426.10 623.00,388.80 623.35,442.77 623.70,380.28 624.05,454.78 624.40,388.50 624.75,441.65 625.10,401.63 625.45,423.52 625.80,398.02 626.15,428.76 626.50,402.91 626.85,423.20 627.20,410.77 627.55,417.94 627.90,410.64 628.25,413.55 628.60,408.12 628.95,417.48 629.30,406.30 629.65,419.30 630.00,407.77 630.35,417.17 630.70,411.64 631.05,413.26 631.40,399.37 631.75,432.34 632.10,393.29 632.45,440.59 632.80,399.49 633.15,431.68 633.50,407.19 633.85,419.26 634.20,405.11 634.55,421.67 634.90,407.62 635.25,418.44 635.60,410.83 635.95,415.81 636.30,411.22 636.65,415.09 637.00,408.98 637.35,417.13 637.70,407.48 638.05,419.30 638.40,409.10 638.75,417.07 639.10,411.43 639.45,415.29 639.80,407.91 640.15,419.22 640.50,397.56 640.85,430.75 641.20,390.92 641.55,438.23 641.90,398.18 642.25,430.42 642.60,407.18 642.95,419.29 643.30,405.11 643.65,421.67 644.00,407.18 644.35,418.79 644.70,410.73 645.05,415.19 645.40,409.75 645.75,414.61 646.10,408.24 646.45,418.13 646.80,406.30 647.15,420.49 647.50,408.25 647.85,418.45 648.20,409.36 648.55,417.68 648.90,400.40 649.25,430.16 649.60,395.65 649.95,437.04 650.30,401.41 650.65,429.03 651.00,407.23 651.35,419.04 651.70,405.11 652.05,421.67 652.40,407.41 652.75,418.41 653.10,409.33 653.45,414.26 653.80,405.31 654.15,420.08 654.50,402.75 654.85,422.85 655.20,405.62 655.55,419.91 655.90,407.46 656.25,419.04 656.60,402.36 656.95,423.86 657.30,388.83 657.65,440.99 658.00,379.10 658.35,452.42 658.70,390.99 659.05,438.90 659.40,401.83 659.75,422.76 660.10,398.02 660.45,427.58 660.80,402.51 661.15,422.83 661.50,409.17 661.85,413.27 662.20,409.79 662.55,413.24 662.90,408.70 663.25,417.73 663.60,407.48 663.95,418.12 664.30,409.19 664.65,416.26 665.00,409.75 665.35,413.02 665.70,404.59 666.05,419.64 666.40,401.56 666.75,422.85 667.10,404.94 667.45,419.19 667.80,410.45 668.15,414.93 668.50,410.25 668.85,413.20 669.20,408.74 669.55,416.61 669.90,407.48 670.25,418.12 670.60,409.13 670.95,416.02 671.30,410.74 671.65,412.83 672.00,412.09 672.35,413.57 672.70,409.62 673.05,415.49 673.40,408.66 673.75,416.94 674.10,409.60 674.45,415.51 674.80,405.68 675.15,419.63 675.50,402.75 675.85,422.85 676.20,406.02 676.55,419.48 676.90,409.44 677.25,415.51 677.60,411.15 677.95,413.03 678.30,408.97 678.65,415.54 679.00,407.48 679.35,416.94 679.70,409.09 680.05,415.31 680.40,410.07 680.75,414.10" fill="none" stroke="#e8362c" stroke-width="1.0"/>
<path d="M368.20,409.58 368.55,414.52 368.90,411.74 369.25,413.67 369.60,412.15 369.95,412.70 370.30,411.21 370.65,413.18 371.00,410.61 371.35,414.10 371.70,410.01 372.05,414.58 372.40,410.77 372.75,413.89 373.10,412.02 373.45,413.48 373.80,411.34 374.15,412.79 374.50,410.18 374.85,414.27 375.20,408.85 375.55,415.63 375.90,411.84 376.25,414.40 376.60,410.74 376.95,412.60 377.30,410.66 377.65,414.24 378.00,408.24 378.35,417.65 378.70,406.35 379.05,419.19 379.40,408.41 379.75,417.11 380.10,411.87 380.45,412.93 380.80,410.64 381.15,414.26 381.50,410.76 381.85,415.43 382.20,410.72 382.55,414.29 382.90,411.46 383.25,413.09 383.60,411.95 383.95,413.03 384.30,410.42 384.65,415.96 385.00,408.21 385.35,417.42 385.70,409.10 386.05,415.63 386.40,410.19 386.75,414.20 387.10,401.89 387.45,425.14 387.80,395.78 388.15,430.72 388.50,394.99 388.85,436.66 389.20,390.07 389.55,446.08 389.90,396.80 390.25,432.88 390.60,404.00 390.95,421.98 391.30,402.45 391.65,424.62 392.00,404.75 392.35,420.88 392.70,411.32 393.05,413.59 393.40,408.36 393.75,417.16 394.10,406.32 394.45,418.77 394.80,407.08 395.15,417.60 395.50,407.72 395.85,417.29 396.20,397.96 396.55,425.36 396.90,393.82 397.25,431.66 397.60,395.40 397.95,417.55 398.30,383.98 398.65,422.60 399.00,395.35 399.35,436.24 399.70,407.36 400.05,420.37 400.40,401.54 400.75,423.33 401.10,404.51 401.45,420.27 401.80,411.81 402.15,413.14 402.50,409.31 402.85,414.06 403.20,407.61 403.55,417.86 403.90,405.34 404.25,420.29 404.60,408.27 404.95,416.79 405.30,404.47 405.65,422.41 406.00,402.26 406.35,427.45 406.70,404.87 407.05,422.92 407.40,408.97 407.75,417.04 408.10,408.11 408.45,417.75 408.80,409.12 409.15,415.67 409.50,410.29 409.85,413.21 410.20,410.19 410.55,415.42 410.90,408.84 411.25,415.67 411.60,410.15 411.95,413.18 412.30,408.20 412.65,416.55 413.00,406.40 413.35,418.64 413.70,408.74 414.05,416.46 414.40,411.85 414.75,413.93 415.10,409.92 415.45,414.28 415.80,408.76 416.15,415.30 416.50,409.60 416.85,414.45 417.20,410.49 417.55,413.67 417.90,411.00 418.25,414.54 418.60,407.35 418.95,417.08 419.30,411.00 419.65,418.19 420.00,407.75 420.35,416.59 420.70,402.07 421.05,422.29 421.40,400.73 421.75,424.38 422.10,400.98 422.45,427.48 422.80,397.39 423.15,434.79 423.50,401.15 423.85,417.72 424.20,407.73 424.55,416.09 424.90,406.25 425.25,418.72 425.60,408.09 425.95,412.98 426.30,410.38 426.65,412.62 427.00,410.53 427.35,413.71 427.70,410.09 428.05,414.50 428.40,410.97 428.75,413.13 429.10,411.54 429.45,413.08 429.80,412.06 430.15,412.42 430.50,410.86 430.85,413.80 431.20,410.17 431.55,414.44 431.90,410.74 432.25,413.56 432.60,411.23 432.95,412.85 433.30,411.13 433.65,412.69 434.00,410.02 434.35,414.54 434.70,408.80 435.05,415.31 435.40,410.24 435.75,412.69 436.10,412.05 436.45,412.52 436.80,410.88 437.15,413.46 437.50,407.97 437.85,415.93 438.20,405.60 438.55,417.07 438.90,411.28 439.25,415.42 439.60,410.63 439.95,418.31 440.30,408.34 440.65,420.93 441.00,409.49 441.35,418.21 441.70,410.72 442.05,413.64 442.40,410.17 442.75,414.46 443.10,410.05 443.45,413.56 443.80,412.00 444.15,413.25 444.50,410.67 444.85,413.27 445.20,407.64 445.55,416.60 445.90,406.27 446.25,418.66 446.60,406.74 446.95,413.93 447.30,410.87 447.65,416.41 448.00,400.60 448.35,422.94 448.70,396.67 449.05,413.92 449.40,409.30 449.75,423.34 450.10,409.35 450.45,415.02 450.80,407.65 451.15,416.24 451.50,409.10 451.85,414.41 452.20,410.53 452.55,413.07 452.90,410.04 453.25,414.62 453.60,409.21 453.95,415.60 454.30,410.01 454.65,415.42 455.00,411.15 455.35,414.90 455.70,408.02 456.05,416.02 456.40,403.57 456.75,423.07 457.10,400.56 457.45,428.00 457.80,404.49 458.15,423.59 458.50,409.03 458.85,416.28 459.20,407.95 459.55,417.10 459.90,409.31 460.25,415.86 460.60,410.44 460.95,413.17 461.30,406.92 461.65,418.23 462.00,405.52 462.35,418.99 462.70,406.55 463.05,417.83 463.40,407.58 463.75,414.49 464.10,409.12 464.45,415.41 464.80,400.68 465.15,425.89 465.50,394.25 465.85,434.69 466.20,400.67 466.55,430.10 466.90,408.27 467.25,417.22 467.60,405.64 467.95,418.00 468.30,408.14 468.65,416.66 469.00,403.77 469.35,419.67 469.70,400.61 470.05,423.60 470.40,403.45 470.75,419.51 471.10,404.70 471.45,415.96 471.80,407.66 472.15,422.48 472.50,398.36 472.85,428.82 473.20,396.80 473.55,435.88 473.90,402.10 474.25,428.99 474.60,410.45 474.95,418.48 475.30,407.43 475.65,414.22 476.00,406.34 476.35,418.07 476.70,407.83 477.05,415.13 477.40,407.38 477.75,415.96 478.10,405.97 478.45,418.25 478.80,407.66 479.15,416.96 479.50,398.86 479.85,433.25 480.20,393.46 480.55,441.55 480.90,388.84 481.25,438.70 481.60,380.32 481.95,450.14 482.30,409.32 482.65,437.05 483.00,399.07 483.35,426.35 483.70,392.47 484.05,432.23 484.40,398.09 484.75,413.98 485.10,406.34 485.45,417.43 485.80,408.04 486.15,417.92 486.50,411.73 486.85,414.77 487.20,410.34 487.55,415.12 487.90,408.88 488.25,416.14 488.60,410.32 488.95,415.15 489.30,411.99 489.65,414.11 490.00,409.41 490.35,415.80 490.70,407.81 491.05,417.71 491.40,409.40 491.75,415.71 492.10,412.05 492.45,413.09 492.80,410.28 493.15,414.81 493.50,409.27 493.85,415.69 494.20,410.24 494.55,414.18 494.90,411.13 495.25,413.37 495.60,411.26 495.95,414.19 496.30,409.10 496.65,415.07 497.00,408.35 497.35,416.65 497.70,409.09 498.05,415.20 498.40,411.30 498.75,412.59 499.10,410.84 499.45,414.13 499.80,410.12 500.15,414.33 500.50,409.26 500.85,414.78 501.20,409.97 501.55,414.35 501.90,410.74 502.25,413.10 502.60,409.03 502.95,416.05 503.30,407.98 503.65,417.69 504.00,409.33 504.35,417.30 504.70,411.63 505.05,413.15 505.40,408.43 505.75,413.50 506.10,403.41 506.45,416.70 506.80,398.44 507.15,430.64 507.50,403.54 507.85,423.71 508.20,407.92 508.55,416.94 508.90,407.34 509.25,418.59 509.60,408.71 509.95,416.30 510.30,409.15 510.65,413.62 511.00,411.78 511.35,414.63 511.70,405.06 512.05,418.58 512.40,400.75 512.75,420.06 513.10,405.16 513.45,415.86 513.80,408.93 514.15,413.73 514.50,399.93 514.85,424.48 515.20,396.85 515.55,429.80 515.90,401.73 516.25,425.09 516.60,407.06 516.95,416.76 517.30,408.49 517.65,416.71 518.00,408.02 518.35,415.74 518.70,409.53 519.05,413.51 519.40,408.69 519.75,415.73 520.10,410.08 520.45,414.57 520.80,408.96 521.15,415.40 521.50,408.31 521.85,416.33 522.20,409.17 522.55,414.82 522.90,410.34 523.25,414.59 523.60,410.84 523.95,412.64 524.30,409.94 524.65,414.65 525.00,408.94 525.35,415.91 525.70,406.84 526.05,417.81 526.40,408.51 526.75,415.45 527.10,411.00 527.45,412.47 527.80,410.57 528.15,413.78 528.50,410.11 528.85,414.24 529.20,410.48 529.55,413.81 529.90,411.59 530.25,413.23 530.60,406.46 530.95,417.16 531.30,403.45 531.65,420.39 532.00,406.48 532.35,416.69 532.70,410.65 533.05,414.64 533.40,410.39 533.75,415.30 534.10,410.84 534.45,414.41 534.80,412.11 535.15,414.07 535.50,407.54 535.85,416.73 536.20,405.61 536.55,418.23 536.90,408.37 537.25,417.36 537.60,410.94 537.95,416.07 538.30,400.10 538.65,425.84 539.00,394.66 539.35,432.37 539.70,410.82 540.05,426.00 540.40,405.74 540.75,421.87 541.10,405.12 541.45,419.47 541.80,411.32 542.15,412.84 542.50,411.63 542.85,414.80 543.20,410.61 543.55,414.74 543.90,410.85 544.25,413.70 544.60,410.26 544.95,414.33 545.30,411.77 545.65,413.62 546.00,412.04 546.35,413.14 546.70,412.14 547.05,413.37 547.40,410.86 547.75,413.76 548.10,409.90 548.45,414.03 548.80,410.93 549.15,412.69 549.50,411.85 549.85,413.11 550.20,412.13 550.55,413.51 550.90,410.03 551.25,414.23 551.60,408.88 551.95,415.40 552.30,410.26 552.65,414.15 553.00,411.04 553.35,412.94 553.70,410.06 554.05,412.79 554.40,407.49 554.75,416.39 555.10,405.16 555.45,415.87 555.80,407.91 556.15,415.59 556.50,410.03 556.85,418.02 557.20,410.39 557.55,419.06 557.90,409.44 558.25,416.95 558.60,411.96 558.95,413.51 559.30,411.63 559.65,413.21 560.00,410.65 560.35,414.52 560.70,410.18 561.05,415.42 561.40,410.87 561.75,414.35 562.10,411.97 562.45,412.84 562.80,410.99 563.15,415.79 563.50,408.15 563.85,417.85 564.20,409.64 564.55,415.66 564.90,402.46 565.25,424.97 565.60,408.70 565.95,428.27 566.30,403.07 566.65,422.88 567.00,409.39 567.35,416.21 567.70,411.25 568.05,414.82 568.40,409.52 568.75,415.72 569.10,411.57 569.45,414.56 569.80,411.95 570.15,418.77 570.50,405.47 570.85,421.15 571.20,408.83 571.55,418.45 571.90,409.25 572.25,413.20 572.60,397.73 572.95,415.28 573.30,392.90 573.65,439.28 574.00,399.33 574.35,419.45 574.70,407.76 575.05,415.19 575.40,406.84 575.75,417.28 576.10,405.85 576.45,412.91 576.80,408.43 577.15,416.90 577.50,410.71 577.85,412.66 578.20,408.95 578.55,416.35 578.90,407.95 579.25,417.39 579.60,409.64 579.95,416.04 580.30,410.55 580.65,413.79 581.00,408.88 581.35,413.80 581.70,408.70 582.05,422.76 582.40,393.70 582.75,430.18 583.10,411.46 583.45,424.91 583.80,409.32 584.15,416.29 584.50,407.61 584.85,417.34 585.20,409.10 585.55,415.53 585.90,407.08 586.25,417.62 586.60,411.40 586.95,420.37 587.30,406.56 587.65,416.28 588.00,408.85 588.35,415.28 588.70,411.78 589.05,418.25 589.40,400.94 589.75,423.70 590.10,398.90 590.45,419.05 590.80,403.56 591.15,422.54 591.50,407.78 591.85,417.97 592.20,405.97 592.55,420.12 592.90,408.04 593.25,413.93 593.60,411.54 593.95,414.46 594.30,408.10 594.65,417.18 595.00,406.58 595.35,413.18 595.70,408.97 596.05,416.17 596.40,407.72 596.75,417.96 597.10,411.63 597.45,415.46 597.80,398.59 598.15,430.27 598.50,395.53 598.85,434.10 599.20,399.91 599.55,429.48 599.90,409.03 600.25,414.13 600.60,407.83 600.95,418.01 601.30,407.87 601.65,414.84 602.00,409.43 602.35,415.76 602.70,409.98 603.05,414.96 603.40,409.99 603.75,416.26 604.10,410.35 604.45,415.02 604.80,411.10 605.15,414.09 605.50,406.56 605.85,421.71 606.20,403.63 606.55,425.25 606.90,407.68 607.25,421.20 607.60,411.06 607.95,413.61 608.30,409.99 608.65,414.26 609.00,408.97 609.35,415.71 609.70,410.23 610.05,414.42 610.40,411.90 610.75,413.74 611.10,411.49 611.45,412.61 611.80,411.75 612.15,413.11 612.50,410.37 612.85,415.06 613.20,410.23 613.55,416.46 613.90,409.76 614.25,412.83 614.60,410.67 614.95,413.65 615.30,410.69 615.65,413.84 616.00,408.67 616.35,412.87 616.70,406.42 617.05,417.93 617.40,408.93 617.75,415.64 618.10,411.88 618.45,416.65 618.80,408.18 619.15,418.05 619.50,409.05 619.85,416.45 620.20,411.40 620.55,415.13 620.90,402.62 621.25,425.70 621.60,396.31 621.95,430.95 622.30,403.26 622.65,423.97 623.00,393.32 623.35,414.32 623.70,382.42 624.05,453.61 624.40,401.81 624.75,438.76 625.10,410.38 625.45,422.62 625.80,399.39 626.15,427.24 626.50,404.03 626.85,422.89 627.20,410.91 627.55,416.57 627.90,410.72 628.25,413.50 628.60,408.59 628.95,417.10 629.30,406.85 629.65,419.19 630.00,408.39 630.35,415.68 630.70,408.47 631.05,420.04 631.40,400.73 631.75,431.78 632.10,395.46 632.45,414.61 632.80,400.00 633.15,431.26 633.50,407.57 633.85,419.07 634.20,407.74 634.55,414.50 634.90,408.36 635.25,416.96 635.60,411.88 635.95,415.38 636.30,411.33 636.65,414.72 637.00,409.21 637.35,416.97 637.70,407.85 638.05,419.19 638.40,409.13 638.75,416.95 639.10,411.48 639.45,415.02 639.80,408.04 640.15,421.12 640.50,398.76 640.85,414.01 641.20,394.93 641.55,433.33 641.90,399.42 642.25,427.40 642.60,409.59 642.95,415.74 643.30,405.57 643.65,420.32 644.00,408.05 644.35,418.55 644.70,410.91 645.05,414.66 645.40,410.01 645.75,414.46 646.10,408.55 646.45,418.09 646.80,406.51 647.15,420.31 647.50,408.60 647.85,418.16 648.20,409.62 648.55,417.09 648.90,402.15 649.25,427.22 649.60,398.71 649.95,432.77 650.30,403.40 650.65,425.91 651.00,408.15 651.35,418.32 651.70,406.43 652.05,420.67 652.40,407.96 652.75,418.14 653.10,409.86 653.45,414.13 653.80,409.61 654.15,419.68 654.50,403.71 654.85,420.90 655.20,406.06 655.55,422.75 655.90,406.45 656.25,418.28 656.60,404.05 656.95,422.94 657.30,392.25 657.65,435.60 658.00,385.15 658.35,444.91 658.70,392.50 659.05,437.48 659.40,402.83 659.75,422.32 660.10,400.28 660.45,426.33 660.80,404.31 661.15,422.13 661.50,409.52 661.85,413.20 662.20,410.01 662.55,413.12 662.90,408.85 663.25,413.69 663.60,407.58 663.95,417.51 664.30,409.72 664.65,416.08 665.00,409.88 665.35,412.90 665.70,404.93 666.05,418.36 666.40,401.85 666.75,422.54 667.10,406.04 667.45,418.81 667.80,410.64 668.15,414.86 668.50,410.53 668.85,413.05 669.20,409.31 669.55,416.16 669.90,408.22 670.25,416.36 670.60,409.58 670.95,415.52 671.30,410.86 671.65,413.65 672.00,412.10 672.35,414.44 672.70,409.87 673.05,412.74 673.40,408.77 673.75,416.05 674.10,410.03 674.45,415.45 674.80,405.83 675.15,418.50 675.50,403.00 675.85,416.05 676.20,406.70 676.55,418.55 676.90,409.90 677.25,415.36 677.60,411.34 677.95,412.90 678.30,410.95 678.65,414.99 679.00,407.51 679.35,416.77 679.70,409.64 680.05,415.22 680.40,410.36 680.75,413.97" fill="none" stroke="#3b7f22" stroke-width="1.0" stroke-dasharray="5 0.6 0.8 0.6"/>
</g>
<g clip-path="url(#cU4)">
<path d="M211.00,818.39 211.55,824.78 212.10,810.63 212.65,829.86 213.20,815.30 213.75,826.57 214.30,814.02 214.85,828.73 215.40,815.88 215.95,824.71 216.50,815.16 217.05,827.60 217.60,818.90 218.15,822.53 218.70,818.55 219.25,824.21 219.80,821.04 220.35,822.22 220.90,816.29 221.45,826.47 222.00,817.09 222.55,822.77 223.10,808.82 223.65,831.00 224.20,816.43 224.75,822.78 225.30,814.02 225.85,828.73 226.40,819.61 226.95,823.11 227.50,815.50 228.05,827.74 228.60,812.89 229.15,829.86 229.70,818.60 230.25,824.76 230.80,816.29 231.35,826.47 231.90,819.38 232.45,823.98 233.00,818.55 233.55,824.21 234.10,820.58 234.65,821.82 235.20,821.02 235.75,821.68 236.30,819.68 236.85,823.08 237.40,821.24 237.95,822.16 238.50,820.96 239.05,821.76 239.60,820.51 240.15,821.91 240.70,820.13 241.25,822.40 241.80,820.60 242.35,821.55 242.90,820.34 243.45,821.56 244.00,819.68 244.55,823.08 245.10,821.03 245.65,823.80 246.20,819.47 246.75,824.73 247.30,812.89 247.85,828.73 248.40,819.34 248.95,828.87 249.50,808.37 250.05,834.39 250.60,811.68 251.15,828.88 251.70,807.24 252.25,831.00 252.80,815.85 253.35,825.57 253.90,816.29 254.45,826.47 255.00,818.30 255.55,823.89 256.10,818.55 256.65,824.21 257.20,820.76 257.75,822.88 258.30,818.62 258.85,826.64 259.40,812.89 259.95,829.86 260.50,815.69 261.05,827.11 261.60,801.58 262.15,845.71 262.70,818.55 263.25,825.55 263.80,798.18 264.35,840.05 264.90,810.63 265.45,831.00 266.00,814.11 266.55,824.64 267.10,815.16 267.65,827.60 268.20,818.23 268.75,824.87 269.30,819.32 269.85,823.56 270.40,816.29 270.95,826.47 271.50,820.63 272.05,824.02 272.60,815.81 273.15,822.95 273.70,810.63 274.25,829.86 274.80,817.78 275.35,824.66 275.90,817.42 276.45,825.34 277.00,820.59 277.55,824.14 278.10,820.02 278.65,823.72 279.20,816.29 279.75,826.47 280.30,818.66 280.85,822.77 281.40,818.55 281.95,824.21 282.50,819.47 283.05,822.90 283.60,812.89 284.15,828.73 284.70,817.67 285.25,830.68 285.80,804.97 286.35,838.92 286.90,815.07 287.45,825.64 288.00,809.50 288.55,833.26 289.10,815.19 289.65,826.54 290.20,816.29 290.75,826.47 291.30,818.36 291.85,823.71 292.40,817.42 292.95,825.34 293.50,819.55 294.05,824.43 294.60,819.48 295.15,824.78 295.70,811.76 296.25,829.86 296.80,818.70 297.35,828.83 297.90,810.63 298.45,832.13 299.00,820.65 299.55,824.48 300.10,816.29 300.65,826.47 301.20,819.54 301.75,824.04 302.30,819.14 302.85,824.40 303.40,817.42 303.95,825.34 304.50,818.96 305.05,824.13 305.60,819.83 306.15,825.17 306.70,816.29 307.25,826.47 307.80,817.47 308.35,825.22 308.90,818.86 309.45,824.45 310.00,815.16 310.55,827.60 311.10,817.99 311.65,822.89 312.20,819.49 312.75,822.97 313.30,819.23 313.85,823.08 314.40,820.16 314.95,822.14 315.50,820.44 316.05,822.07 316.60,819.68 317.15,823.08 317.70,820.17 318.25,822.82 318.80,821.08 319.35,822.11 319.90,817.42 320.45,825.34 321.00,820.35 321.55,823.67 322.10,819.18 322.65,821.98 323.20,816.29 323.75,826.47 324.30,820.74 324.85,822.19 325.40,820.14 325.95,822.31 326.50,817.42 327.05,825.34 327.60,819.27 328.15,823.11 328.70,818.48 329.25,824.39 329.80,812.89 330.35,828.73 330.90,820.65 331.45,823.66 332.00,815.16 332.55,827.60 333.10,820.02 333.65,827.00 334.20,808.37 334.75,834.39 335.30,814.21 335.85,823.42 336.40,804.29 336.95,835.52 337.50,815.16 338.05,827.60 338.60,816.74 339.15,823.65 339.70,817.99 340.25,824.10 340.80,819.51 341.35,822.56 341.90,816.29 342.45,826.47 343.00,816.49 343.55,827.21 344.10,812.89 344.65,828.73 345.20,813.55 345.75,822.66 346.30,804.29 346.85,840.05 347.40,813.05 347.95,823.85 348.50,815.66 349.05,828.53 349.60,812.89 350.15,828.73 350.70,819.88 351.25,823.07 351.80,816.29 352.35,826.47 352.90,817.58 353.45,825.57 354.00,815.16 354.55,827.60 355.10,807.24 355.65,834.39 356.20,815.16 356.75,826.02 357.30,809.85 357.85,830.96 358.40,803.84 358.95,842.31 359.50,801.58 360.05,836.65 360.60,813.55 361.15,824.57 361.70,814.83 362.25,826.90 362.80,815.16 363.35,827.60 363.90,819.43 364.45,828.02 365.00,812.89 365.55,829.86 366.10,818.92 366.65,823.83 367.20,810.63 367.75,833.26 368.30,815.86 368.85,828.21 369.40,808.37 369.95,837.79 370.50,812.12 371.05,824.54 371.60,799.31 372.15,842.31 372.70,813.04 373.25,826.22 373.80,806.10 374.35,834.39 374.90,817.10 375.45,824.40 376.00,814.02 376.55,828.73 377.10,820.43 377.65,823.54 378.20,817.85 378.75,828.88 379.30,810.63 379.85,832.13 380.40,819.82 380.95,831.96 381.50,795.92 382.05,843.44 382.60,809.26 383.15,830.77 383.70,803.84 384.25,838.92 384.80,817.04 385.35,824.56 385.90,817.42 386.45,825.34 387.00,820.01 387.55,824.34 388.10,820.75 388.65,824.96 389.20,815.16 389.75,827.60 390.30,819.43 390.85,825.24 391.40,812.89 391.95,828.73 392.50,818.12 393.05,824.03 393.60,816.29 394.15,826.47 394.70,820.39 395.25,823.43 395.80,817.42 396.35,825.34 396.90,820.16 397.45,824.62 398.00,814.02 398.55,828.73 399.10,820.39 399.65,826.23 400.20,814.93 400.75,828.06 401.30,815.10 401.85,822.97 402.40,809.50 402.95,832.13 403.50,815.19 404.05,831.07 404.60,808.37 405.15,833.26 405.70,818.96 406.25,827.02 406.80,815.16 407.35,827.60 407.90,819.64 408.45,822.21 409.00,819.44 409.55,821.85 410.10,818.55 410.65,824.21 411.20,820.91 411.75,821.87 412.30,819.39 412.85,824.45 413.40,816.29 413.95,826.47 414.50,818.68 415.05,824.15 415.60,810.63 416.15,832.13 416.70,812.55 417.25,826.30 417.80,804.97 418.35,837.79 418.90,818.53 419.45,828.06 420.00,806.10 420.55,833.26 421.10,816.22 421.65,825.41 422.20,815.16 422.75,827.60 423.30,819.63 423.85,825.24 424.40,812.89 424.95,828.73 425.50,819.07 426.05,824.49 426.60,815.88 427.15,824.17 427.70,810.63 428.25,834.39 428.80,819.36 429.35,830.33 429.90,802.03 430.45,838.92 431.00,814.90 431.55,824.19 432.10,812.89 432.65,829.86 433.20,819.25 433.75,825.20 434.30,816.29 434.85,826.47 435.40,820.67 435.95,822.39 436.50,815.16 437.05,827.60 437.60,819.47 438.15,822.75 438.70,809.50 439.25,833.26 439.80,812.23 440.35,823.70 440.90,814.22 441.45,827.08 442.00,804.97 442.55,836.65 443.10,802.71 443.65,843.44 444.20,815.90 444.75,823.79 445.30,812.89 445.85,828.73 446.40,816.37 446.95,823.50 447.50,817.83 448.05,823.60 448.60,817.42 449.15,825.34 449.70,817.97 450.25,824.17 450.80,812.89 451.35,829.86 451.90,819.16 452.45,822.72 453.00,808.37 453.55,833.26 454.10,813.60 454.65,822.64 455.20,806.10 455.75,835.52 456.30,815.85 456.85,824.64 457.40,814.02 457.95,827.60 458.50,820.12 459.05,822.36 459.60,819.68 460.15,823.04 460.70,817.42 461.25,825.34 461.80,820.24 462.35,822.54 462.90,820.54 463.45,822.78 464.00,816.29 464.55,826.47 465.10,820.63 465.65,825.60 466.20,810.63 466.75,828.73 467.30,816.41 467.85,824.77 468.40,816.29 468.95,827.60 469.50,820.52 470.05,824.02 470.60,820.35 471.15,823.48 471.70,818.55 472.25,824.21 472.80,820.58 473.35,821.77 473.90,820.51 474.45,821.99 475.00,816.29 475.55,826.47 476.10,819.45 476.65,822.81 477.20,815.16 477.75,826.47 478.30,817.27 478.85,824.18 479.40,820.42 479.95,822.44 480.50,818.85 481.05,824.93 481.60,817.42 482.15,825.34 482.70,818.94 483.25,821.69 483.80,820.98 484.35,823.52 484.90,818.55 485.45,824.21 486.00,819.60 486.55,825.05 487.10,819.12 487.65,823.91 488.20,815.16 488.75,828.73 489.30,815.53 489.85,826.15 490.40,809.50 490.95,833.26 491.50,819.01 492.05,822.60 492.60,812.89 493.15,829.86 493.70,819.09 494.25,824.78 494.80,810.63 495.35,831.00 495.90,820.34 496.45,827.83 497.00,812.89 497.55,829.86 498.10,817.12 498.65,826.64 499.20,802.71 499.75,835.52 500.30,818.84 500.85,826.58 501.40,808.37 501.95,832.13 502.50,812.56 503.05,824.81 503.60,806.10 504.15,840.05 504.70,815.77 505.25,827.91 505.80,810.63 506.35,833.26 506.90,815.60 507.45,827.90 508.00,812.89 508.55,829.86 509.10,816.62 509.65,822.76 510.20,817.42 510.75,825.34" fill="none" stroke="#e8362c" stroke-width="0.8"/>
<path d="M211.00,817.80 211.55,824.49 212.10,820.02 212.65,823.04 213.20,815.51 213.75,822.37 214.30,815.06 214.85,824.06 215.40,816.60 215.95,824.42 216.50,815.40 217.05,827.48 217.60,818.98 218.15,822.55 218.70,818.43 219.25,824.18 219.80,821.03 220.35,822.12 220.90,820.56 221.45,826.40 222.00,817.69 222.55,822.71 223.10,819.70 223.65,824.84 224.20,816.23 224.75,822.63 225.30,814.60 225.85,827.65 226.40,819.58 226.95,822.88 227.50,816.18 228.05,827.36 228.60,812.82 229.15,823.68 229.70,818.77 230.25,824.56 230.80,816.10 231.35,826.69 231.90,819.64 232.45,823.81 233.00,818.61 233.55,822.82 234.10,820.56 234.65,821.78 235.20,821.06 235.75,821.66 236.30,819.86 236.85,822.91 237.40,821.24 237.95,822.14 238.50,821.01 239.05,821.74 239.60,821.11 240.15,822.11 240.70,820.27 241.25,822.31 241.80,820.58 242.35,821.56 242.90,820.50 243.45,821.56 244.00,820.70 244.55,822.83 245.10,821.06 245.65,823.78 246.20,819.38 246.75,824.85 247.30,813.03 247.85,828.80 248.40,819.40 248.95,828.53 249.50,810.12 250.05,826.87 250.60,811.66 251.15,828.22 251.70,808.58 252.25,829.69 252.80,815.94 253.35,825.69 253.90,816.20 254.45,826.33 255.00,819.23 255.55,823.64 256.10,818.67 256.65,823.79 257.20,820.83 257.75,822.92 258.30,818.69 258.85,825.97 259.40,813.23 259.95,829.23 260.50,816.30 261.05,826.56 261.60,800.99 262.15,834.12 262.70,818.85 263.25,831.61 263.80,797.59 264.35,838.81 264.90,811.11 265.45,830.14 266.00,814.32 266.55,824.28 267.10,820.11 267.65,827.42 268.20,819.98 268.75,824.80 269.30,819.33 269.85,823.80 270.40,816.08 270.95,826.57 271.50,820.60 272.05,824.87 272.60,816.12 273.15,823.32 273.70,819.28 274.25,825.41 274.80,817.18 275.35,824.70 275.90,817.45 276.45,825.50 277.00,820.55 277.55,822.07 278.10,820.30 278.65,823.58 279.20,816.29 279.75,823.00 280.30,818.87 280.85,823.10 281.40,818.59 281.95,824.33 282.50,819.73 283.05,822.89 283.60,813.97 284.15,828.15 284.70,817.55 285.25,829.83 285.80,805.15 286.35,838.31 286.90,815.59 287.45,825.44 288.00,816.25 288.55,829.31 289.10,818.64 289.65,824.55 290.20,816.50 290.75,826.66 291.30,819.76 291.85,823.36 292.40,817.73 292.95,822.73 293.50,819.69 294.05,824.01 294.60,816.30 295.15,824.59 295.70,817.89 296.25,829.76 296.80,819.08 297.35,828.87 297.90,810.97 298.45,831.90 299.00,820.76 299.55,825.49 300.10,816.16 300.65,826.64 301.20,819.45 301.75,824.11 302.30,818.76 302.85,824.53 303.40,817.84 303.95,824.96 304.50,819.18 305.05,823.79 305.60,819.48 306.15,823.39 306.70,816.15 307.25,821.99 307.80,817.30 308.35,824.75 308.90,817.29 309.45,824.01 310.00,818.34 310.55,827.61 311.10,817.97 311.65,822.99 312.20,819.51 312.75,821.85 313.30,819.39 313.85,822.98 314.40,820.11 314.95,822.13 315.50,820.47 316.05,821.99 316.60,819.70 317.15,822.78 317.70,820.23 318.25,822.83 318.80,820.16 319.35,822.65 319.90,818.00 320.45,825.10 321.00,820.31 321.55,823.57 322.10,819.10 322.65,822.01 323.20,816.88 323.75,825.79 324.30,820.74 324.85,822.13 325.40,820.25 325.95,822.32 326.50,819.84 327.05,825.19 327.60,819.31 328.15,822.14 328.70,818.83 329.25,824.10 329.80,812.84 330.35,828.02 330.90,820.67 331.45,823.61 332.00,819.52 332.55,827.22 333.10,820.17 333.65,822.49 334.20,808.86 334.75,823.31 335.30,814.57 335.85,823.13 336.40,806.46 336.95,835.13 337.50,815.82 338.05,826.81 338.60,817.40 339.15,822.22 339.70,818.06 340.25,824.08 340.80,818.48 341.35,822.42 341.90,816.79 342.45,825.71 343.00,816.72 343.55,826.88 344.10,818.76 344.65,829.02 345.20,819.69 345.75,822.49 346.30,804.73 346.85,837.90 347.40,814.42 347.95,823.70 348.50,815.47 349.05,824.20 349.60,813.26 350.15,828.45 350.70,819.98 351.25,823.10 351.80,816.94 352.35,826.07 352.90,817.95 353.45,825.47 354.00,815.95 354.55,827.09 355.10,816.32 355.65,833.96 356.20,808.86 356.75,825.92 357.30,810.98 357.85,830.15 358.40,818.58 358.95,840.89 359.50,804.30 360.05,834.92 360.60,813.48 361.15,824.42 361.70,817.44 362.25,822.33 362.80,815.73 363.35,824.31 363.90,819.35 364.45,827.16 365.00,813.97 365.55,828.74 366.10,819.03 366.65,823.59 367.20,810.15 367.75,831.98 368.30,815.67 368.85,828.05 369.40,809.47 369.95,837.06 370.50,819.40 371.05,824.37 371.60,798.57 372.15,841.27 372.70,813.05 373.25,825.95 373.80,806.55 374.35,824.22 374.90,817.12 375.45,828.23 376.00,819.42 376.55,824.91 377.10,820.41 377.65,825.99 378.20,817.10 378.75,828.29 379.30,813.86 379.85,829.90 380.40,819.87 380.95,831.41 381.50,795.06 382.05,841.61 382.60,810.76 383.15,830.14 383.70,806.02 384.25,838.94 384.80,817.69 385.35,824.28 385.90,817.49 386.45,825.41 387.00,820.13 387.55,824.20 388.10,820.77 388.65,824.54 389.20,816.09 389.75,827.63 390.30,819.71 390.85,825.03 391.40,819.51 391.95,828.88 392.50,816.24 393.05,823.84 393.60,816.82 394.15,825.72 394.70,820.43 395.25,823.33 395.80,817.77 396.35,825.04 396.90,820.16 397.45,824.57 398.00,819.77 398.55,827.85 399.10,820.46 399.65,825.61 400.20,815.33 400.75,827.69 401.30,816.01 401.85,822.98 402.40,809.30 402.95,832.05 403.50,815.36 404.05,830.47 404.60,809.80 405.15,824.49 405.70,818.53 406.25,823.30 406.80,818.49 407.35,827.58 407.90,819.85 408.45,822.23 409.00,819.65 409.55,821.83 410.10,818.96 410.65,824.22 411.20,820.90 411.75,821.87 412.30,819.32 412.85,824.25 413.40,816.38 413.95,826.43 414.50,818.98 415.05,823.88 415.60,810.59 416.15,827.17 416.70,813.23 417.25,828.53 417.80,806.96 418.35,835.35 418.90,815.79 419.45,822.64 420.00,805.47 420.55,832.25 421.10,816.92 421.65,822.16 422.20,817.15 422.75,827.26 423.30,819.74 423.85,825.13 424.40,813.88 424.95,828.28 425.50,819.31 426.05,824.54 426.60,817.15 427.15,828.42 427.70,812.04 428.25,833.50 428.80,819.31 429.35,829.55 429.90,804.46 430.45,836.58 431.00,814.69 431.55,823.80 432.10,813.37 432.65,828.85 433.20,819.38 433.75,824.70 434.30,819.63 434.85,823.34 435.40,820.73 435.95,823.07 436.50,815.98 437.05,826.93 437.60,819.58 438.15,826.74 438.70,809.65 439.25,833.55 439.80,817.91 440.35,823.48 440.90,814.57 441.45,826.80 442.00,805.56 442.55,836.37 443.10,804.00 443.65,840.72 444.20,815.76 444.75,823.60 445.30,813.16 445.85,825.07 446.40,817.08 446.95,824.68 447.50,818.32 448.05,823.97 448.60,817.49 449.15,823.49 449.70,819.57 450.25,824.03 450.80,812.74 451.35,830.03 451.90,817.36 452.45,822.69 453.00,809.98 453.55,833.34 454.10,813.30 454.65,822.66 455.20,808.00 455.75,835.46 456.30,816.38 456.85,824.54 457.40,814.54 457.95,827.44 458.50,820.16 459.05,822.27 459.60,818.19 460.15,822.87 460.70,817.55 461.25,825.46 461.80,820.35 462.35,822.51 462.90,818.32 463.45,823.47 464.00,816.52 464.55,822.94 465.10,820.63 465.65,823.75 466.20,819.56 466.75,828.19 467.30,816.92 467.85,822.42 468.40,816.30 468.95,827.71 469.50,820.61 470.05,822.72 470.60,820.64 471.15,823.37 471.70,820.34 472.25,824.26 472.80,820.59 473.35,821.76 473.90,820.54 474.45,821.90 475.00,816.59 475.55,822.32 476.10,819.43 476.65,822.74 477.20,815.16 477.75,826.04 478.30,817.62 478.85,824.24 479.40,820.51 479.95,821.80 480.50,819.11 481.05,822.84 481.60,820.32 482.15,825.21 482.70,818.95 483.25,823.57 483.80,819.83 484.35,823.51 484.90,818.48 485.45,824.17 486.00,820.55 486.55,824.90 487.10,818.34 487.65,823.77 488.20,815.04 488.75,828.45 489.30,815.64 489.85,825.71 490.40,809.85 490.95,831.80 491.50,819.10 492.05,822.93 492.60,814.13 493.15,829.09 493.70,819.00 494.25,824.74 494.80,812.07 495.35,830.89 495.90,820.50 496.45,823.82 497.00,813.42 497.55,829.41 498.10,817.63 498.65,826.61 499.20,803.50 499.75,836.10 500.30,819.20 500.85,826.49 501.40,808.54 501.95,831.84 502.50,812.70 503.05,824.78 503.60,806.24 504.15,832.41 504.70,816.55 505.25,827.23 505.80,811.12 506.35,833.30 506.90,815.38 507.45,827.66 508.00,813.62 508.55,830.21 509.10,816.87 509.65,822.71 510.20,817.33 510.75,823.56" fill="none" stroke="#3a50b8" stroke-width="1.2" stroke-dasharray="3 0.7 0.8 0.7"/>
</g>
<g clip-path="url(#cU5)">
<path d="M211.80,899.39 212.30,909.15 212.80,897.87 213.30,911.32 213.80,894.50 214.30,914.86 214.80,897.98 215.30,912.51 215.80,894.50 216.30,916.00 216.80,902.38 217.30,908.35 217.80,901.29 218.30,906.94 218.80,903.08 219.30,905.81 219.80,903.14 220.30,906.10 220.80,902.42 221.30,906.94 221.80,903.03 222.30,906.39 222.80,902.43 223.30,907.71 223.80,901.29 224.30,909.21 224.80,901.66 225.30,906.69 225.80,899.33 226.30,909.19 226.80,896.76 227.30,911.47 227.80,899.80 228.30,907.20 228.80,901.54 229.30,907.70 229.80,900.16 230.30,909.21 230.80,899.13 231.30,909.32 231.80,896.76 232.30,911.47 232.80,901.01 233.30,907.97 233.80,901.29 234.30,908.08 234.80,902.19 235.30,906.22 235.80,898.72 236.30,910.96 236.80,895.63 237.30,913.73 237.80,902.54 238.30,909.82 238.80,897.04 239.30,912.11 239.80,893.37 240.30,916.00 240.80,900.29 241.30,910.09 241.80,897.89 242.30,911.47 242.80,900.81 243.30,905.23 243.80,903.17 244.30,907.24 244.80,902.42 245.30,906.94 245.80,903.44 246.30,905.85 246.80,900.00 247.30,908.82 247.80,897.89 248.30,910.34 248.80,897.49 249.30,911.09 249.80,893.37 250.30,914.86 250.80,890.90 251.30,919.04 251.80,884.31 252.30,926.18 252.80,897.19 253.30,914.76 253.80,895.63 254.30,916.00 254.80,900.36 255.30,910.02 255.80,901.65 256.30,907.57 256.80,900.16 257.30,909.21 257.80,902.41 258.30,907.82 258.80,900.70 259.30,908.98 259.80,899.02 260.30,911.47 260.80,896.77 261.30,911.96 261.80,892.24 262.30,916.00 262.80,900.38 263.30,910.09 263.80,891.22 264.30,918.83 264.80,885.45 265.30,926.18 265.80,898.72 266.30,910.59 266.80,895.63 267.30,913.73 267.80,899.88 268.30,906.56 268.80,901.81 269.30,908.31 269.80,901.29 270.30,908.08 270.80,902.79 271.30,905.80 271.80,901.60 272.30,907.59 272.80,900.16 273.30,909.21 273.80,903.42 274.30,905.10 274.80,902.47 275.30,907.77 275.80,901.29 276.30,909.21 276.80,901.63 277.30,908.42 277.80,900.16 278.30,910.34 278.80,901.84 279.30,906.24 279.80,902.42 280.30,906.94 280.80,903.18 281.30,905.67 281.80,903.06 282.30,906.33 282.80,902.39 283.30,907.01 283.80,901.29 284.30,908.08 284.80,900.06 285.30,909.24 285.80,897.89 286.30,911.47 286.80,895.36 287.30,917.22 287.80,889.97 288.30,922.79 288.80,898.09 289.30,915.70 289.80,899.72 290.30,912.15 290.80,899.02 291.30,916.00 291.80,903.55 292.30,909.31 292.80,900.34 293.30,910.37 293.80,897.89 294.30,911.47 294.80,900.62 295.30,908.37 295.80,900.06 296.30,909.09 296.80,897.89 297.30,910.34 297.80,898.33 298.30,910.42 298.80,895.63 299.30,913.73 299.80,895.56 300.30,915.17 300.80,891.10 301.30,920.52 301.80,897.53 302.30,908.48 302.80,899.02 303.30,910.34 303.80,900.41 304.30,906.51 304.80,901.66 305.30,905.15 305.80,902.41 306.30,907.46 306.80,901.29 307.30,908.08 307.80,904.01 308.30,905.68 308.80,900.01 309.30,908.93 309.80,897.89 310.30,911.47 310.80,897.00 311.30,911.38 311.80,892.10 312.30,917.50 312.80,885.45 313.30,923.92 313.80,898.29 314.30,911.50 314.80,895.63 315.30,914.86 315.80,903.30 316.30,907.73 316.80,902.51 317.30,906.99 317.80,901.29 318.30,908.08 318.80,903.82 319.30,906.38 319.80,901.64 320.30,907.57 320.80,900.16 321.30,909.21 321.80,900.52 322.30,906.90 322.80,898.82 323.30,910.62 323.80,895.63 324.30,913.73 324.80,899.22 325.30,909.24 325.80,897.89 326.30,911.47 326.80,901.93 327.30,906.92 327.80,902.37 328.30,908.00 328.80,901.29 329.30,908.08 329.80,902.10 330.30,906.98 330.80,901.72 331.30,906.47 331.80,900.17 332.30,910.51 332.80,897.89 333.30,911.47 333.80,896.84 334.30,911.71 334.80,893.37 335.30,914.86 335.80,888.12 336.30,924.57 336.80,880.92 337.30,934.10 337.80,897.37 338.30,913.88 338.80,893.37 339.30,918.26 339.80,899.34 340.30,911.25 340.80,901.71 341.30,907.60 341.80,900.16 342.30,909.21 342.80,903.47 343.30,907.17 343.80,900.19 344.30,908.23 344.80,897.89 345.30,910.34 345.80,897.18 346.30,910.48 346.80,893.37 347.30,913.73 347.80,892.22 348.30,920.34 348.80,885.45 349.30,928.44 349.80,893.92 350.30,914.12 350.80,895.63 351.30,914.86 351.80,899.96 352.30,906.85 352.80,900.80 353.30,908.33 353.80,900.16 354.30,909.21 354.80,899.44 355.30,909.84 355.80,896.76 356.30,912.60 356.80,903.21 357.30,908.03 357.80,902.65 358.30,911.84 358.80,894.22 359.30,913.64 359.80,888.84 360.30,918.26 360.80,893.05 361.30,918.87 361.80,886.58 362.30,925.05 362.80,901.61 363.30,907.71 363.80,900.16 364.30,909.21 364.80,902.04 365.30,906.00 365.80,900.85 366.30,908.42 366.80,899.02 367.30,910.34 367.80,902.36 368.30,907.72 368.80,900.08 369.30,909.65 369.80,897.89 370.30,912.60 370.80,902.58 371.30,912.90 371.80,891.73 372.30,918.25 372.80,884.31 373.30,925.05 373.80,893.94 374.30,914.06 374.80,893.37 375.30,917.13 375.80,899.92 376.30,908.08 376.80,900.13 377.30,907.68 377.80,900.16 378.30,909.21 378.80,902.63 379.30,907.74 379.80,900.71 380.30,908.55 380.80,899.02 381.30,910.34 381.80,898.21 382.30,912.09 382.80,894.50 383.30,916.00 383.80,889.84 384.30,921.30 384.80,882.05 385.30,930.71 385.80,895.82 386.30,914.15 386.80,891.10 387.30,918.26 387.80,894.11 388.30,906.60 388.80,901.29 389.30,906.16 389.80,899.59 390.30,909.04 390.80,900.16 391.30,909.21 391.80,901.85 392.30,908.08 392.80,897.68 393.30,909.71 393.80,894.50 394.30,912.60 394.80,899.91 395.30,908.89 395.80,897.89 396.30,910.34 396.80,903.49 397.30,905.53 397.80,902.36 398.30,906.94 398.80,901.29 399.30,908.08 399.80,903.16 400.30,905.20 400.80,902.28 401.30,906.93 401.80,901.29 402.30,908.08 402.80,901.52 403.30,907.58 403.80,900.16 404.30,909.21 404.80,901.08 405.30,908.86 405.80,897.79 406.30,910.49 406.80,894.50 407.30,913.73 407.80,900.03 408.30,909.40 408.80,897.89 409.30,911.47 409.80,902.16 410.30,907.86 410.80,902.44 411.30,907.23 411.80,901.29 412.30,908.08 412.80,901.81 413.30,905.71 413.80,904.19 414.30,907.25 414.80,901.70 415.30,908.56 415.80,900.16 416.30,909.21 416.80,899.97 417.30,909.29 417.80,897.89 418.30,911.47 418.80,894.99 419.30,913.74 419.80,889.97 420.30,918.26 420.80,891.42 421.30,917.57 421.80,885.45 422.30,925.05 422.80,902.07 423.30,911.29 423.80,897.68 424.30,908.56 424.80,899.02 425.30,910.34 425.80,900.94 426.30,907.83 426.80,902.37 427.30,906.92 427.80,901.29 428.30,908.08 428.80,900.99 429.30,908.28 429.80,899.02 430.30,910.34 430.80,901.96 431.30,906.34 431.80,899.56 432.30,909.84 432.80,896.76 433.30,912.60 433.80,901.71 434.30,908.80 434.80,900.16 435.30,909.21 435.80,902.33 436.30,906.82 436.80,901.29 437.30,908.08 437.80,901.55 438.30,907.65 438.80,900.16 439.30,909.21 439.80,903.78 440.30,905.37 440.80,903.03 441.30,906.80 441.80,898.15 442.30,911.65 442.80,894.50 443.30,914.86 443.80,895.87 444.30,908.31 444.80,892.48 445.30,918.76 445.80,885.45 446.30,926.18 446.80,896.46 447.30,913.70 447.80,892.24 448.30,918.26 448.80,901.77 449.30,908.14 449.80,900.26 450.30,909.37 450.80,897.89 451.30,911.47 451.80,902.38 452.30,906.87 452.80,901.29 453.30,908.08 453.80,897.78 454.30,911.34 454.80,894.50 455.30,914.86 455.80,898.61 456.30,912.35 456.80,896.33 457.30,915.30 457.80,892.24 458.30,920.52 458.80,900.26 459.30,909.35 459.80,897.89 460.30,911.47 460.80,899.75 461.30,905.89 461.80,901.77 462.30,907.80 462.80,900.16 463.30,909.21 463.80,902.57 464.30,905.26 464.80,902.41 465.30,906.91 465.80,901.29 466.30,908.08 466.80,903.06 467.30,905.38 467.80,897.44 468.30,912.94 468.80,893.37 469.30,917.13 469.80,898.73 470.30,909.98 470.80,897.89 471.30,912.60 471.80,901.80 472.30,908.17 472.80,901.12 473.30,907.54 473.80,900.16 474.30,909.21 474.80,902.80 475.30,907.13 475.80,902.50 476.30,907.13 476.80,901.29 477.30,908.08 477.80,902.06 478.30,905.28 478.80,901.74 479.30,907.72 479.80,900.16 480.30,909.21 480.80,902.34 481.30,906.98 481.80,901.29 482.30,908.08 482.80,903.80 483.30,905.24 483.80,904.20 484.30,905.42 484.80,902.51 485.30,906.95 485.80,901.29 486.30,908.08 486.80,903.02 487.30,905.79 487.80,901.54 488.30,907.51 488.80,900.16 489.30,909.21 489.80,901.09 490.30,905.88 490.80,902.68 491.30,907.18 491.80,896.80 492.30,911.70 492.80,892.24 493.30,914.86 493.80,897.74 494.30,911.38 494.80,894.50 495.30,913.73 495.80,900.79 496.30,909.22 496.80,899.02 497.30,911.47 497.80,900.28 498.30,909.73 498.80,897.89 499.30,912.60 499.80,898.73 500.30,907.90 500.80,897.51 501.30,913.07 501.80,893.37 502.30,917.13 502.80,893.17 503.30,914.15 503.80,887.71 504.30,918.26 504.80,890.01 505.30,922.76 505.80,882.05 506.30,932.97 506.80,895.02 507.30,914.37 507.80,895.63 508.30,913.73 508.80,900.70 509.30,910.07 509.80,901.73 510.30,908.70 510.80,900.16 511.30,909.21 511.80,901.52 512.30,907.80 512.80,900.80 513.30,909.12" fill="none" stroke="#e8362c" stroke-width="1.0"/>
<path d="M211.80,899.37 212.30,909.20 212.80,897.88 213.30,907.63 213.80,895.46 214.30,913.54 214.80,898.13 215.30,912.87 215.80,895.40 216.30,915.74 216.80,902.27 217.30,908.23 217.80,901.61 218.30,906.83 218.80,903.05 219.30,905.80 219.80,902.84 220.30,905.88 220.80,902.74 221.30,905.32 221.80,903.18 222.30,906.46 222.80,902.71 223.30,907.64 223.80,901.57 224.30,908.58 224.80,902.98 225.30,906.73 225.80,899.16 226.30,909.06 226.80,897.86 227.30,911.70 227.80,900.07 228.30,907.21 228.80,901.56 229.30,907.83 229.80,900.82 230.30,908.79 230.80,902.85 231.30,908.61 231.80,897.35 232.30,911.43 232.80,901.30 233.30,907.68 233.80,901.66 234.30,907.87 234.80,902.39 235.30,906.06 235.80,899.30 236.30,910.03 236.80,895.52 237.30,913.17 237.80,902.82 238.30,909.81 238.80,897.79 239.30,911.40 239.80,894.93 240.30,916.13 240.80,900.84 241.30,909.86 241.80,898.38 242.30,911.60 242.80,901.19 243.30,905.24 243.80,903.28 244.30,907.21 244.80,902.39 245.30,906.94 245.80,903.58 246.30,905.71 246.80,900.46 247.30,908.20 247.80,897.90 248.30,910.61 248.80,899.66 249.30,911.34 249.80,900.45 250.30,914.29 250.80,892.77 251.30,916.93 251.80,884.17 252.30,908.75 252.80,898.16 253.30,913.68 253.80,896.09 254.30,916.53 254.80,900.56 255.30,909.88 255.80,901.61 256.30,907.64 256.80,900.80 257.30,909.15 257.80,902.44 258.30,907.81 258.80,901.08 259.30,909.10 259.80,899.60 260.30,911.62 260.80,897.61 261.30,908.53 261.80,899.85 262.30,914.57 262.80,900.49 263.30,911.27 263.80,892.02 264.30,919.24 264.80,901.73 265.30,923.54 265.80,898.86 266.30,910.45 266.80,895.46 267.30,912.87 267.80,900.19 268.30,906.49 268.80,902.04 269.30,907.96 269.80,901.29 270.30,908.18 270.80,902.95 271.30,905.68 271.80,903.27 272.30,907.15 272.80,900.20 273.30,909.08 273.80,903.48 274.30,905.11 274.80,902.60 275.30,907.52 275.80,901.65 276.30,908.54 276.80,901.71 277.30,908.37 277.80,900.38 278.30,910.48 278.80,901.71 279.30,906.04 279.80,902.66 280.30,905.81 280.80,903.19 281.30,905.69 281.80,903.05 282.30,906.29 282.80,902.44 283.30,907.10 283.80,901.22 284.30,907.62 284.80,899.94 285.30,908.93 285.80,898.55 286.30,911.13 286.80,895.89 287.30,916.52 287.80,890.53 288.30,923.25 288.80,898.18 289.30,914.48 289.80,900.17 290.30,912.01 290.80,899.67 291.30,916.55 291.80,903.56 292.30,909.28 292.80,900.14 293.30,909.83 293.80,898.74 294.30,911.36 294.80,900.91 295.30,908.17 295.80,900.15 296.30,908.99 296.80,898.00 297.30,910.57 297.80,899.20 298.30,910.65 298.80,896.18 299.30,913.74 299.80,896.84 300.30,914.41 300.80,895.72 301.30,919.01 301.80,897.22 302.30,908.05 302.80,899.11 303.30,910.23 303.80,901.03 304.30,906.23 304.80,901.96 305.30,905.12 305.80,902.72 306.30,907.25 306.80,901.42 307.30,907.63 307.80,903.31 308.30,905.66 308.80,901.92 309.30,908.48 309.80,897.67 310.30,911.18 310.80,896.77 311.30,911.04 311.80,892.03 312.30,917.41 312.80,885.36 313.30,921.72 313.80,898.92 314.30,910.49 314.80,896.21 315.30,912.80 315.80,903.46 316.30,907.56 316.80,902.68 317.30,907.06 317.80,901.74 318.30,908.04 318.80,903.79 319.30,906.31 319.80,901.53 320.30,907.28 320.80,900.52 321.30,909.22 321.80,900.59 322.30,906.94 322.80,899.55 323.30,906.13 323.80,896.70 324.30,908.16 324.80,899.14 325.30,908.55 325.80,898.08 326.30,911.75 326.80,902.29 327.30,907.01 327.80,902.64 328.30,907.99 328.80,901.65 329.30,908.02 329.80,902.84 330.30,906.77 330.80,901.64 331.30,905.42 331.80,900.78 332.30,910.08 332.80,897.70 333.30,910.73 333.80,897.34 334.30,906.27 334.80,893.52 335.30,913.69 335.80,889.34 336.30,924.48 336.80,880.92 337.30,929.75 337.80,898.38 338.30,913.25 338.80,894.35 339.30,917.90 339.80,899.21 340.30,910.75 340.80,901.75 341.30,907.33 341.80,900.29 342.30,907.87 342.80,903.59 343.30,907.19 343.80,900.28 344.30,907.97 344.80,898.61 345.30,907.40 345.80,898.20 346.30,909.97 346.80,894.90 347.30,912.44 347.80,892.48 348.30,920.02 348.80,887.18 349.30,919.41 349.80,895.15 350.30,913.10 350.80,896.68 351.30,915.22 351.80,899.73 352.30,906.81 352.80,902.31 353.30,907.95 353.80,900.80 354.30,908.63 354.80,900.01 355.30,909.43 355.80,896.86 356.30,912.31 356.80,898.03 357.30,908.08 357.80,902.85 358.30,911.76 358.80,895.23 359.30,912.41 359.80,899.74 360.30,918.66 360.80,892.54 361.30,917.17 361.80,889.39 362.30,924.31 362.80,901.86 363.30,907.58 363.80,900.42 364.30,908.65 364.80,902.30 365.30,905.95 365.80,901.03 366.30,908.48 366.80,899.30 367.30,909.85 367.80,902.56 368.30,907.65 368.80,900.11 369.30,909.18 369.80,897.88 370.30,912.31 370.80,902.87 371.30,912.26 371.80,891.64 372.30,916.21 372.80,886.36 373.30,923.09 373.80,894.71 374.30,914.14 374.80,893.40 375.30,917.54 375.80,899.77 376.30,907.62 376.80,900.32 377.30,907.22 377.80,900.13 378.30,909.30 378.80,902.63 379.30,907.70 379.80,901.26 380.30,908.02 380.80,899.69 381.30,910.37 381.80,897.94 382.30,911.10 382.80,895.34 383.30,915.05 383.80,890.55 384.30,920.93 384.80,883.51 385.30,931.93 385.80,895.73 386.30,913.35 386.80,891.63 387.30,917.05 387.80,894.83 388.30,906.49 388.80,901.34 389.30,906.16 389.80,900.09 390.30,908.96 390.80,903.52 391.30,908.77 391.80,900.48 392.30,908.03 392.80,898.29 393.30,909.52 393.80,901.15 394.30,912.01 394.80,899.71 395.30,909.08 395.80,898.15 396.30,909.66 396.80,902.11 397.30,905.45 397.80,902.64 398.30,907.00 398.80,901.15 399.30,907.70 399.80,903.31 400.30,905.15 400.80,902.29 401.30,906.97 401.80,901.68 402.30,906.57 402.80,901.36 403.30,907.52 403.80,902.41 404.30,908.75 404.80,901.42 405.30,908.97 405.80,898.30 406.30,910.65 406.80,901.46 407.30,914.02 407.80,899.98 408.30,909.53 408.80,898.43 409.30,911.09 409.80,902.38 410.30,907.92 410.80,902.66 411.30,906.94 411.80,903.10 412.30,907.77 412.80,901.84 413.30,905.69 413.80,904.25 414.30,907.11 414.80,902.13 415.30,908.08 415.80,900.59 416.30,909.06 416.80,900.44 417.30,909.36 417.80,897.62 418.30,910.79 418.80,896.01 419.30,912.57 419.80,891.54 420.30,916.44 420.80,892.61 421.30,917.18 421.80,887.04 422.30,922.61 422.80,902.24 423.30,911.30 423.80,897.56 424.30,908.35 424.80,899.73 425.30,909.85 425.80,901.00 426.30,905.63 426.80,902.32 427.30,907.01 427.80,901.51 428.30,907.90 428.80,901.02 429.30,908.07 429.80,903.74 430.30,909.70 430.80,901.86 431.30,906.63 431.80,899.74 432.30,909.39 432.80,896.61 433.30,912.36 433.80,902.01 434.30,908.66 434.80,900.80 435.30,908.83 435.80,902.25 436.30,906.66 436.80,901.20 437.30,907.62 437.80,901.71 438.30,907.33 438.80,903.35 439.30,909.13 439.80,903.80 440.30,905.40 440.80,903.16 441.30,906.74 441.80,901.46 442.30,910.61 442.80,895.82 443.30,913.44 443.80,895.54 444.30,908.18 444.80,893.77 445.30,916.76 445.80,885.80 446.30,927.08 446.80,896.48 447.30,913.46 447.80,892.05 448.30,916.88 448.80,898.50 449.30,907.61 449.80,900.32 450.30,908.88 450.80,898.56 451.30,911.27 451.80,902.52 452.30,906.70 452.80,901.71 453.30,907.77 453.80,898.45 454.30,910.45 454.80,902.46 455.30,913.56 455.80,898.49 456.30,912.25 456.80,896.12 457.30,915.46 457.80,893.76 458.30,919.59 458.80,900.05 459.30,906.20 459.80,898.60 460.30,911.01 460.80,899.68 461.30,905.95 461.80,901.77 462.30,907.75 462.80,900.46 463.30,908.87 463.80,902.77 464.30,905.32 464.80,902.58 465.30,906.84 465.80,901.33 466.30,907.80 466.80,903.00 467.30,905.29 467.80,897.65 468.30,913.12 468.80,893.61 469.30,909.96 469.80,899.22 470.30,909.20 470.80,897.79 471.30,912.01 471.80,901.08 472.30,908.29 472.80,901.23 473.30,907.22 473.80,900.74 474.30,908.62 474.80,902.89 475.30,907.09 475.80,902.64 476.30,907.05 476.80,901.17 477.30,907.74 477.80,902.30 478.30,905.26 478.80,901.65 479.30,907.34 479.80,900.34 480.30,909.07 480.80,902.62 481.30,906.33 481.80,901.45 482.30,908.00 482.80,903.90 483.30,905.20 483.80,904.24 484.30,905.36 484.80,902.66 485.30,907.39 485.80,901.28 486.30,907.89 486.80,903.15 487.30,905.64 487.80,901.51 488.30,907.45 488.80,900.50 489.30,909.42 489.80,901.42 490.30,905.81 490.80,902.74 491.30,906.85 491.80,896.51 492.30,911.77 492.80,891.78 493.30,914.23 493.80,897.51 494.30,910.39 494.80,895.24 495.30,912.44 495.80,900.73 496.30,909.16 496.80,899.59 497.30,910.65 497.80,900.12 498.30,909.72 498.80,897.74 499.30,912.99 499.80,898.73 500.30,907.92 500.80,903.29 501.30,913.00 501.80,894.80 502.30,917.64 502.80,894.37 503.30,912.91 503.80,888.41 504.30,916.85 504.80,890.10 505.30,920.04 505.80,882.27 506.30,918.37 506.80,895.82 507.30,914.69 507.80,895.96 508.30,913.18 508.80,901.27 509.30,909.73 509.80,901.68 510.30,908.11 510.80,900.79 511.30,908.61 511.80,903.16 512.30,907.81 512.80,901.08 513.30,909.23" fill="none" stroke="#3a50b8" stroke-width="1.2" stroke-dasharray="4 0.5 0.8 0.5"/>
</g>
<g fill="#1a1a1a" stroke="#1a1a1a" stroke-width="0.35" opacity="0.999">
<text transform="translate(11.5,53.31) scale(1.085,1)" font-size="15.4" text-anchor="middle">20</text>
<text transform="translate(11.9,72.71) scale(1.085,1)" font-size="15.4" text-anchor="middle">15</text>
<text transform="translate(12.2,92.31) scale(1.085,1)" font-size="15.4" text-anchor="middle">10</text>
<text transform="translate(12.9,112.91) scale(1.085,1)" font-size="15.4" text-anchor="middle">0</text>
<text transform="translate(10.9,177.31) scale(1.085,1)" font-size="15.4" text-anchor="middle">20</text>
<text transform="translate(10.9,205.01) scale(1.085,1)" font-size="15.4" text-anchor="middle">0</text>
<text transform="translate(10.7,233.91) scale(1.085,1)" font-size="15.4" text-anchor="middle">-20</text>
<text transform="translate(13.4,294.11) scale(1.085,1)" font-size="15.4" text-anchor="middle">5</text>
<text transform="translate(13.4,314.41) scale(1.085,1)" font-size="15.4" text-anchor="middle">0</text>
<text transform="translate(13.4,333.41) scale(1.085,1)" font-size="15.4" text-anchor="middle">-5</text>
<text transform="translate(12.5,385.01) scale(1.085,1)" font-size="15.4" text-anchor="middle">10</text>
<text transform="translate(11.7,419.81) scale(1.085,1)" font-size="15.4" text-anchor="middle">0</text>
<text transform="translate(11.7,454.21) scale(1.085,1)" font-size="15.4" text-anchor="middle">-10</text>
<text transform="translate(354.5,63.71) scale(1.085,1)" font-size="15.4" text-anchor="middle">20</text>
<text transform="translate(355.2,91.81) scale(1.085,1)" font-size="15.4" text-anchor="middle">10</text>
<text transform="translate(354.9,120.71) scale(1.085,1)" font-size="15.4" text-anchor="middle">0</text>
<text transform="translate(354.5,171.01) scale(1.085,1)" font-size="15.4" text-anchor="middle">20</text>
<text transform="translate(354.9,201.51) scale(1.085,1)" font-size="15.4" text-anchor="middle">0</text>
<text transform="translate(354.8,230.41) scale(1.085,1)" font-size="15.4" text-anchor="middle">-20</text>
<text transform="translate(356.4,286.71) scale(1.085,1)" font-size="15.4" text-anchor="middle">5</text>
<text transform="translate(356.4,307.51) scale(1.085,1)" font-size="15.4" text-anchor="middle">0</text>
<text transform="translate(356.6,326.01) scale(1.085,1)" font-size="15.4" text-anchor="middle">-5</text>
<text transform="translate(355.2,385.01) scale(1.085,1)" font-size="15.4" text-anchor="middle">10</text>
<text transform="translate(354.3,419.81) scale(1.085,1)" font-size="15.4" text-anchor="middle">0</text>
<text transform="translate(354.3,454.21) scale(1.085,1)" font-size="15.4" text-anchor="middle">-10</text>
<text transform="translate(196.8,536.71) scale(1.085,1)" font-size="15.4" text-anchor="middle">20</text>
<text transform="translate(197.7,553.11) scale(1.085,1)" font-size="15.4" text-anchor="middle">15</text>
<text transform="translate(197.7,569.01) scale(1.085,1)" font-size="15.4" text-anchor="middle">10</text>
<text transform="translate(198.2,583.81) scale(1.085,1)" font-size="15.4" text-anchor="middle">0</text>
<text transform="translate(195.1,624.71) scale(1.085,1)" font-size="15.4" text-anchor="middle">20</text>
<text transform="translate(195.1,655.61) scale(1.085,1)" font-size="15.4" text-anchor="middle">0</text>
<text transform="translate(195.9,681.91) scale(1.085,1)" font-size="15.4" text-anchor="middle">-20</text>
<text transform="translate(195.1,711.91) scale(1.085,1)" font-size="15.4" text-anchor="middle">20</text>
<text transform="translate(195.1,742.91) scale(1.085,1)" font-size="15.4" text-anchor="middle">0</text>
<text transform="translate(195.9,771.01) scale(1.085,1)" font-size="15.4" text-anchor="middle">-20</text>
<text transform="translate(195.1,809.31) scale(1.085,1)" font-size="15.4" text-anchor="middle">5</text>
<text transform="translate(195.1,829.31) scale(1.085,1)" font-size="15.4" text-anchor="middle">0</text>
<text transform="translate(195.4,847.81) scale(1.085,1)" font-size="15.4" text-anchor="middle">-5</text>
<text transform="translate(195.1,891.01) scale(1.085,1)" font-size="15.4" text-anchor="middle">5</text>
<text transform="translate(195.1,911.81) scale(1.085,1)" font-size="15.4" text-anchor="middle">0</text>
<text transform="translate(195.4,930.01) scale(1.085,1)" font-size="15.4" text-anchor="middle">-5</text>
<text x="75.8" y="10.9" font-size="15.7" text-anchor="start" textLength="213.7" lengthAdjust="spacingAndGlyphs">Cluster 1 component prediction</text>
<text x="416.2" y="10.9" font-size="15.7" text-anchor="start" textLength="213.8" lengthAdjust="spacingAndGlyphs">Cluster 2 component prediction</text>
<text x="247.4" y="499.4" font-size="15.7" text-anchor="start" textLength="234.5" lengthAdjust="spacingAndGlyphs">Unclustered component prediction</text>
<text x="75.4" y="33.7" font-size="15.7" text-anchor="start" textLength="71.6" lengthAdjust="spacingAndGlyphs">Real value</text>
<text x="207.4" y="33.7" font-size="15.7" text-anchor="start" textLength="36.4" lengthAdjust="spacingAndGlyphs">IMF1</text>
<text x="75.4" y="145.7" font-size="15.7" text-anchor="start" textLength="71.6" lengthAdjust="spacingAndGlyphs">Real value</text>
<text x="207.4" y="145.7" font-size="15.7" text-anchor="start" textLength="36.4" lengthAdjust="spacingAndGlyphs">IMF2</text>
<text x="75.4" y="258.5" font-size="15.7" text-anchor="start" textLength="71.6" lengthAdjust="spacingAndGlyphs">Real value</text>
<text x="207.4" y="258.5" font-size="15.7" text-anchor="start" textLength="36.4" lengthAdjust="spacingAndGlyphs">IMF3</text>
<text x="75.4" y="368.5" font-size="15.7" text-anchor="start" textLength="71.6" lengthAdjust="spacingAndGlyphs">Real value</text>
<text x="207.4" y="368.5" font-size="15.7" text-anchor="start" textLength="36.4" lengthAdjust="spacingAndGlyphs">IMF4</text>
<text x="413.2" y="33.6" font-size="15.7" text-anchor="start" textLength="71.6" lengthAdjust="spacingAndGlyphs">Real value</text>
<text x="545" y="33.6" font-size="15.7" text-anchor="start" textLength="36.4" lengthAdjust="spacingAndGlyphs">IMF1</text>
<text x="413.2" y="146.1" font-size="15.7" text-anchor="start" textLength="71.6" lengthAdjust="spacingAndGlyphs">Real value</text>
<text x="545" y="146.1" font-size="15.7" text-anchor="start" textLength="36.4" lengthAdjust="spacingAndGlyphs">IMF2</text>
<text x="413.2" y="258.3" font-size="15.7" text-anchor="start" textLength="71.6" lengthAdjust="spacingAndGlyphs">Real value</text>
<text x="545" y="258.3" font-size="15.7" text-anchor="start" textLength="36.4" lengthAdjust="spacingAndGlyphs">IMF3</text>
<text x="413.2" y="368.5" font-size="15.7" text-anchor="start" textLength="71.6" lengthAdjust="spacingAndGlyphs">Real value</text>
<text x="545" y="368.5" font-size="15.7" text-anchor="start" textLength="36.4" lengthAdjust="spacingAndGlyphs">IMF4</text>
<text x="265.8" y="517.6" font-size="15.7" text-anchor="start" textLength="71.2" lengthAdjust="spacingAndGlyphs">Real value</text>
<text x="390.7" y="517.6" font-size="15.7" text-anchor="start" textLength="36.8" lengthAdjust="spacingAndGlyphs">IMF1</text>
<text x="258.4" y="607.1" font-size="15.7" text-anchor="start" textLength="71.8" lengthAdjust="spacingAndGlyphs">Real value</text>
<text x="390.4" y="607.1" font-size="15.7" text-anchor="start" textLength="38.6" lengthAdjust="spacingAndGlyphs">IMF2</text>
<text x="258.4" y="697.1" font-size="15.7" text-anchor="start" textLength="71.8" lengthAdjust="spacingAndGlyphs">Real value</text>
<text x="390.4" y="697.1" font-size="15.7" text-anchor="start" textLength="38" lengthAdjust="spacingAndGlyphs">IMF3</text>
<text x="258.4" y="785.1" font-size="15.7" text-anchor="start" textLength="71.8" lengthAdjust="spacingAndGlyphs">Real value</text>
<text x="390.4" y="785.1" font-size="15.7" text-anchor="start" textLength="38" lengthAdjust="spacingAndGlyphs">IMF4</text>
<text x="258.4" y="870.1" font-size="15.7" text-anchor="start" textLength="71.8" lengthAdjust="spacingAndGlyphs">Real value</text>
<text x="390.4" y="870.1" font-size="15.7" text-anchor="start" textLength="38" lengthAdjust="spacingAndGlyphs">IMF5</text>
<text transform="translate(28,472.2) scale(1.085,1)" font-size="15.4" text-anchor="middle">0</text>
<text transform="translate(96.1,472.2) scale(1.085,1)" font-size="15.4" text-anchor="middle">200</text>
<text transform="translate(165.9,472.2) scale(1.085,1)" font-size="15.4" text-anchor="middle">400</text>
<text transform="translate(235.7,472.2) scale(1.085,1)" font-size="15.4" text-anchor="middle">600</text>
<text transform="translate(305.7,472.2) scale(1.085,1)" font-size="15.4" text-anchor="middle">800</text>
<text transform="translate(369.6,471.1) scale(1.085,1)" font-size="15.4" text-anchor="middle">0</text>
<text transform="translate(437.6,471.1) scale(1.085,1)" font-size="15.4" text-anchor="middle">200</text>
<text transform="translate(507.6,471.1) scale(1.085,1)" font-size="15.4" text-anchor="middle">400</text>
<text transform="translate(577.6,471.1) scale(1.085,1)" font-size="15.4" text-anchor="middle">600</text>
<text transform="translate(647.7,471.1) scale(1.085,1)" font-size="15.4" text-anchor="middle">800</text>
<text transform="translate(214.3,956) scale(1.085,1)" font-size="15.4" text-anchor="middle">0</text>
<text transform="translate(312.7,956) scale(1.085,1)" font-size="15.4" text-anchor="middle">200</text>
<text transform="translate(412.8,956) scale(1.085,1)" font-size="15.4" text-anchor="middle">400</text>
<text transform="translate(509.8,956) scale(1.085,1)" font-size="15.4" text-anchor="middle">600</text>
<text x="171.9" y="491.3" font-size="15.3" text-anchor="start" textLength="23" lengthAdjust="spacingAndGlyphs">T/h</text>
<text x="513.9" y="491.3" font-size="15.3" text-anchor="start" textLength="23.1" lengthAdjust="spacingAndGlyphs">T/h</text>
<text x="351" y="976" font-size="15.3" text-anchor="start" textLength="22.7" lengthAdjust="spacingAndGlyphs">T/h</text>
</g>
</svg>
</body></html>
